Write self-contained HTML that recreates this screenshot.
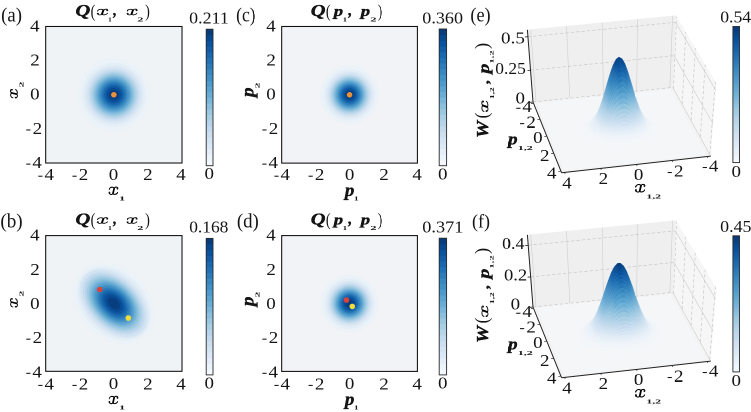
<!DOCTYPE html>
<html><head><meta charset="utf-8"><style>
html,body{margin:0;padding:0;background:#fff;}
body{width:751px;height:412px;overflow:hidden;}
#wrap{width:1502px;height:824px;transform:scale(0.5);transform-origin:0 0;will-change:transform;}
svg{display:block;}
text{font-family:"Liberation Serif",serif;}
</style></head><body><div id="wrap">
<svg width="1502" height="824" viewBox="0 0 751 412" font-family="Liberation Serif" fill="#151515">
<defs><g id="xg"><g fill="none" stroke="currentColor" stroke-linecap="round"><path d="M8 20C10 6 26 0 40 2C50 4 55 6 57 8" stroke-width="8"/><path d="M57 8C62 2 72 0 80 1C88 2 92 6 89 11" stroke-width="8"/><path d="M57 6L43 52" stroke-width="16" stroke-linecap="butt"/><path d="M9 44C8 52 18 57 26 57C36 57 41 54 43 52" stroke-width="8"/><path d="M43 50C46 56 56 57 64 56C76 54 86 48 89 41" stroke-width="8"/></g><circle cx="87" cy="12" r="8.5"/><circle cx="10" cy="44" r="8.5"/></g></defs>
<rect width="751" height="412" fill="#fff"/>
<clipPath id="ca0"><rect x="46.85" y="27.65" width="134.00" height="134.20"/></clipPath>
<g clip-path="url(#ca0)">
<rect x="45.7" y="26.5" width="136.3" height="136.5" fill="#eff3f5"/>
<ellipse rx="36.31" ry="36.31" fill="#ebf2f8" transform="translate(113.85 94.75) rotate(0)"/>
<ellipse rx="31.83" ry="31.83" fill="#e4eef7" transform="translate(113.85 94.75) rotate(0)"/>
<ellipse rx="28.89" ry="28.89" fill="#dbe8f4" transform="translate(113.85 94.75) rotate(0)"/>
<ellipse rx="26.61" ry="26.61" fill="#d1e2f2" transform="translate(113.85 94.75) rotate(0)"/>
<ellipse rx="24.70" ry="24.70" fill="#c3daee" transform="translate(113.85 94.75) rotate(0)"/>
<ellipse rx="23.02" ry="23.02" fill="#b2d3e8" transform="translate(113.85 94.75) rotate(0)"/>
<ellipse rx="21.49" ry="21.49" fill="#a1cbe2" transform="translate(113.85 94.75) rotate(0)"/>
<ellipse rx="20.08" ry="20.08" fill="#8fc2de" transform="translate(113.85 94.75) rotate(0)"/>
<ellipse rx="18.75" ry="18.75" fill="#7cb7da" transform="translate(113.85 94.75) rotate(0)"/>
<ellipse rx="17.47" ry="17.47" fill="#68acd5" transform="translate(113.85 94.75) rotate(0)"/>
<ellipse rx="16.22" ry="16.22" fill="#58a1cf" transform="translate(113.85 94.75) rotate(0)"/>
<ellipse rx="14.99" ry="14.99" fill="#4896c8" transform="translate(113.85 94.75) rotate(0)"/>
<ellipse rx="13.77" ry="13.77" fill="#3a8ac2" transform="translate(113.85 94.75) rotate(0)"/>
<ellipse rx="12.53" ry="12.53" fill="#2d7dbb" transform="translate(113.85 94.75) rotate(0)"/>
<ellipse rx="11.25" ry="11.25" fill="#2070b4" transform="translate(113.85 94.75) rotate(0)"/>
<ellipse rx="9.91" ry="9.91" fill="#1764ab" transform="translate(113.85 94.75) rotate(0)"/>
<ellipse rx="8.46" ry="8.46" fill="#0d57a1" transform="translate(113.85 94.75) rotate(0)"/>
<ellipse rx="6.81" ry="6.81" fill="#084b93" transform="translate(113.85 94.75) rotate(0)"/>
<ellipse rx="4.75" ry="4.75" fill="#083d7f" transform="translate(113.85 94.75) rotate(0)"/>
</g>
<circle cx="113.85" cy="94.75" r="2.8" fill="#e8913a"/>
<rect x="45.7" y="26.5" width="136.3" height="136.5" fill="none" stroke="#111" stroke-width="1.1"/>
<text transform="translate(30.10 31.46) scale(1.130 1)" font-size="16.80">4</text>
<text transform="translate(176.25 180.16) scale(1.130 1)" font-size="16.80">4</text>
<text transform="translate(30.29 65.61) scale(1.130 1)" font-size="16.80">2</text>
<text transform="translate(143.09 180.16) scale(1.130 1)" font-size="16.80">2</text>
<text transform="translate(30.10 99.59) scale(1.130 1)" font-size="16.80">0</text>
<text transform="translate(108.75 179.99) scale(1.130 1)" font-size="16.80">0</text>
<text transform="translate(32.59 133.91) scale(1.130 1)" font-size="16.80">2</text>
<rect x="26.25" y="129.45" width="4.2" height="1.05" fill="#151515"/>
<text transform="translate(78.79 180.16) scale(1.130 1)" font-size="16.80">2</text>
<rect x="72.45" y="175.70" width="4.2" height="1.05" fill="#151515"/>
<text transform="translate(32.40 168.06) scale(1.130 1)" font-size="16.80">4</text>
<rect x="26.25" y="163.60" width="4.2" height="1.05" fill="#151515"/>
<text transform="translate(44.45 180.16) scale(1.130 1)" font-size="16.80">4</text>
<rect x="38.30" y="175.70" width="4.2" height="1.05" fill="#151515"/>
<rect x="206.20" y="160.01" width="6.80" height="6.09" fill="#f3f8fe"/>
<rect x="206.20" y="154.32" width="6.80" height="6.09" fill="#ebf3fb"/>
<rect x="206.20" y="148.64" width="6.80" height="6.09" fill="#e3eef9"/>
<rect x="206.20" y="142.95" width="6.80" height="6.09" fill="#dbe9f6"/>
<rect x="206.20" y="137.26" width="6.80" height="6.09" fill="#d3e4f3"/>
<rect x="206.20" y="131.57" width="6.80" height="6.09" fill="#ccdff1"/>
<rect x="206.20" y="125.89" width="6.80" height="6.09" fill="#c2d9ee"/>
<rect x="206.20" y="120.20" width="6.80" height="6.09" fill="#b5d4e9"/>
<rect x="206.20" y="114.51" width="6.80" height="6.09" fill="#a9cfe5"/>
<rect x="206.20" y="108.82" width="6.80" height="6.09" fill="#9ac8e0"/>
<rect x="206.20" y="103.14" width="6.80" height="6.09" fill="#8abfdd"/>
<rect x="206.20" y="97.45" width="6.80" height="6.09" fill="#7ab6d9"/>
<rect x="206.20" y="91.76" width="6.80" height="6.09" fill="#69add5"/>
<rect x="206.20" y="86.07" width="6.80" height="6.09" fill="#5ca4d0"/>
<rect x="206.20" y="80.39" width="6.80" height="6.09" fill="#4e9acb"/>
<rect x="206.20" y="74.70" width="6.80" height="6.09" fill="#4191c6"/>
<rect x="206.20" y="69.01" width="6.80" height="6.09" fill="#3787c0"/>
<rect x="206.20" y="63.32" width="6.80" height="6.09" fill="#2c7cba"/>
<rect x="206.20" y="57.64" width="6.80" height="6.09" fill="#2171b5"/>
<rect x="206.20" y="51.95" width="6.80" height="6.09" fill="#1967ad"/>
<rect x="206.20" y="46.26" width="6.80" height="6.09" fill="#115ca5"/>
<rect x="206.20" y="40.57" width="6.80" height="6.09" fill="#09529d"/>
<rect x="206.20" y="34.89" width="6.80" height="6.09" fill="#08488e"/>
<rect x="206.20" y="29.20" width="6.80" height="6.09" fill="#083c7d"/>
<rect x="206.20" y="29.20" width="6.80" height="136.50" fill="none" stroke="#2a2a2a" stroke-width="0.9"/>
<text transform="translate(189.18 23.54) scale(1.054 1)" font-size="17.00">0.211</text>
<text transform="translate(204.45 179.09) scale(1.130 1)" font-size="16.80">0</text>
<clipPath id="cc0"><rect x="282.85" y="27.65" width="133.40" height="134.30"/></clipPath>
<g clip-path="url(#cc0)">
<rect x="281.7" y="26.5" width="135.7" height="136.6" fill="#f1f3f6"/>
<ellipse rx="29.16" ry="29.16" fill="#ebf2f8" transform="translate(349.55 94.80) rotate(0)"/>
<ellipse rx="25.57" ry="25.57" fill="#e4eef7" transform="translate(349.55 94.80) rotate(0)"/>
<ellipse rx="23.21" ry="23.21" fill="#dbe8f4" transform="translate(349.55 94.80) rotate(0)"/>
<ellipse rx="21.37" ry="21.37" fill="#d1e2f2" transform="translate(349.55 94.80) rotate(0)"/>
<ellipse rx="19.84" ry="19.84" fill="#c3daee" transform="translate(349.55 94.80) rotate(0)"/>
<ellipse rx="18.49" ry="18.49" fill="#b2d3e8" transform="translate(349.55 94.80) rotate(0)"/>
<ellipse rx="17.26" ry="17.26" fill="#a1cbe2" transform="translate(349.55 94.80) rotate(0)"/>
<ellipse rx="16.13" ry="16.13" fill="#8fc2de" transform="translate(349.55 94.80) rotate(0)"/>
<ellipse rx="15.05" ry="15.05" fill="#7cb7da" transform="translate(349.55 94.80) rotate(0)"/>
<ellipse rx="14.03" ry="14.03" fill="#68acd5" transform="translate(349.55 94.80) rotate(0)"/>
<ellipse rx="13.03" ry="13.03" fill="#58a1cf" transform="translate(349.55 94.80) rotate(0)"/>
<ellipse rx="12.04" ry="12.04" fill="#4896c8" transform="translate(349.55 94.80) rotate(0)"/>
<ellipse rx="11.06" ry="11.06" fill="#3a8ac2" transform="translate(349.55 94.80) rotate(0)"/>
<ellipse rx="10.06" ry="10.06" fill="#2d7dbb" transform="translate(349.55 94.80) rotate(0)"/>
<ellipse rx="9.04" ry="9.04" fill="#2070b4" transform="translate(349.55 94.80) rotate(0)"/>
<ellipse rx="7.96" ry="7.96" fill="#1764ab" transform="translate(349.55 94.80) rotate(0)"/>
<ellipse rx="6.79" ry="6.79" fill="#0d57a1" transform="translate(349.55 94.80) rotate(0)"/>
<ellipse rx="5.47" ry="5.47" fill="#084b93" transform="translate(349.55 94.80) rotate(0)"/>
<ellipse rx="3.82" ry="3.82" fill="#083d7f" transform="translate(349.55 94.80) rotate(0)"/>
</g>
<circle cx="349.55" cy="94.80" r="2.8" fill="#e8913a"/>
<rect x="281.7" y="26.5" width="135.7" height="136.6" fill="none" stroke="#111" stroke-width="1.1"/>
<text transform="translate(266.20 31.46) scale(1.130 1)" font-size="16.80">4</text>
<text transform="translate(412.35 180.16) scale(1.130 1)" font-size="16.80">4</text>
<text transform="translate(266.39 65.61) scale(1.130 1)" font-size="16.80">2</text>
<text transform="translate(379.19 180.16) scale(1.130 1)" font-size="16.80">2</text>
<text transform="translate(266.20 99.59) scale(1.130 1)" font-size="16.80">0</text>
<text transform="translate(344.85 179.99) scale(1.130 1)" font-size="16.80">0</text>
<text transform="translate(268.69 133.91) scale(1.130 1)" font-size="16.80">2</text>
<rect x="262.35" y="129.45" width="4.2" height="1.05" fill="#151515"/>
<text transform="translate(314.89 180.16) scale(1.130 1)" font-size="16.80">2</text>
<rect x="308.55" y="175.70" width="4.2" height="1.05" fill="#151515"/>
<text transform="translate(268.50 168.06) scale(1.130 1)" font-size="16.80">4</text>
<rect x="262.35" y="163.60" width="4.2" height="1.05" fill="#151515"/>
<text transform="translate(280.55 180.16) scale(1.130 1)" font-size="16.80">4</text>
<rect x="274.40" y="175.70" width="4.2" height="1.05" fill="#151515"/>
<rect x="439.20" y="160.00" width="7.40" height="6.10" fill="#f3f8fe"/>
<rect x="439.20" y="154.31" width="7.40" height="6.10" fill="#ebf3fb"/>
<rect x="439.20" y="148.61" width="7.40" height="6.10" fill="#e3eef9"/>
<rect x="439.20" y="142.92" width="7.40" height="6.10" fill="#dbe9f6"/>
<rect x="439.20" y="137.22" width="7.40" height="6.10" fill="#d3e4f3"/>
<rect x="439.20" y="131.52" width="7.40" height="6.10" fill="#ccdff1"/>
<rect x="439.20" y="125.83" width="7.40" height="6.10" fill="#c2d9ee"/>
<rect x="439.20" y="120.13" width="7.40" height="6.10" fill="#b5d4e9"/>
<rect x="439.20" y="114.44" width="7.40" height="6.10" fill="#a9cfe5"/>
<rect x="439.20" y="108.74" width="7.40" height="6.10" fill="#9ac8e0"/>
<rect x="439.20" y="103.05" width="7.40" height="6.10" fill="#8abfdd"/>
<rect x="439.20" y="97.35" width="7.40" height="6.10" fill="#7ab6d9"/>
<rect x="439.20" y="91.65" width="7.40" height="6.10" fill="#69add5"/>
<rect x="439.20" y="85.96" width="7.40" height="6.10" fill="#5ca4d0"/>
<rect x="439.20" y="80.26" width="7.40" height="6.10" fill="#4e9acb"/>
<rect x="439.20" y="74.57" width="7.40" height="6.10" fill="#4191c6"/>
<rect x="439.20" y="68.87" width="7.40" height="6.10" fill="#3787c0"/>
<rect x="439.20" y="63.17" width="7.40" height="6.10" fill="#2c7cba"/>
<rect x="439.20" y="57.48" width="7.40" height="6.10" fill="#2171b5"/>
<rect x="439.20" y="51.78" width="7.40" height="6.10" fill="#1967ad"/>
<rect x="439.20" y="46.09" width="7.40" height="6.10" fill="#115ca5"/>
<rect x="439.20" y="40.39" width="7.40" height="6.10" fill="#09529d"/>
<rect x="439.20" y="34.70" width="7.40" height="6.10" fill="#08488e"/>
<rect x="439.20" y="29.00" width="7.40" height="6.10" fill="#083c7d"/>
<rect x="439.20" y="29.00" width="7.40" height="136.70" fill="none" stroke="#2a2a2a" stroke-width="0.9"/>
<text transform="translate(422.28 23.36) scale(1.065 1)" font-size="17.00">0.360</text>
<text transform="translate(438.05 179.49) scale(1.130 1)" font-size="16.80">0</text>
<clipPath id="ca1"><rect x="46.85" y="236.75" width="134.00" height="133.40"/></clipPath>
<g clip-path="url(#ca1)">
<rect x="45.7" y="235.6" width="136.3" height="135.7" fill="#eff3f5"/>
<ellipse rx="45.62" ry="35.09" fill="#ebf2f8" transform="translate(113.85 303.45) rotate(45)"/>
<ellipse rx="42.39" ry="30.63" fill="#e4eef7" transform="translate(113.85 303.45) rotate(45)"/>
<ellipse rx="40.65" ry="27.68" fill="#dbe8f4" transform="translate(113.85 303.45) rotate(45)"/>
<ellipse rx="39.44" ry="25.38" fill="#d1e2f2" transform="translate(113.85 303.45) rotate(45)"/>
<ellipse rx="36.60" ry="23.55" fill="#c3daee" transform="translate(113.85 303.45) rotate(45)"/>
<ellipse rx="34.11" ry="21.95" fill="#b2d3e8" transform="translate(113.85 303.45) rotate(45)"/>
<ellipse rx="31.85" ry="20.50" fill="#a1cbe2" transform="translate(113.85 303.45) rotate(45)"/>
<ellipse rx="29.76" ry="19.15" fill="#8fc2de" transform="translate(113.85 303.45) rotate(45)"/>
<ellipse rx="27.78" ry="17.88" fill="#7cb7da" transform="translate(113.85 303.45) rotate(45)"/>
<ellipse rx="25.88" ry="16.66" fill="#68acd5" transform="translate(113.85 303.45) rotate(45)"/>
<ellipse rx="24.04" ry="15.47" fill="#58a1cf" transform="translate(113.85 303.45) rotate(45)"/>
<ellipse rx="22.22" ry="14.30" fill="#4896c8" transform="translate(113.85 303.45) rotate(45)"/>
<ellipse rx="20.40" ry="13.13" fill="#3a8ac2" transform="translate(113.85 303.45) rotate(45)"/>
<ellipse rx="18.57" ry="11.95" fill="#2d7dbb" transform="translate(113.85 303.45) rotate(45)"/>
<ellipse rx="16.67" ry="10.73" fill="#2070b4" transform="translate(113.85 303.45) rotate(45)"/>
<ellipse rx="14.69" ry="9.45" fill="#1764ab" transform="translate(113.85 303.45) rotate(45)"/>
<ellipse rx="12.53" ry="8.06" fill="#0d57a1" transform="translate(113.85 303.45) rotate(45)"/>
<ellipse rx="10.09" ry="6.49" fill="#084b93" transform="translate(113.85 303.45) rotate(45)"/>
<ellipse rx="7.04" ry="4.53" fill="#083d7f" transform="translate(113.85 303.45) rotate(45)"/>
</g>
<circle cx="99.71" cy="289.54" r="2.8" fill="#d9433c"/>
<circle cx="128.33" cy="318.04" r="2.8" fill="#f0dc3a"/>
<rect x="45.7" y="235.6" width="136.3" height="135.7" fill="none" stroke="#111" stroke-width="1.1"/>
<text transform="translate(30.10 240.66) scale(1.130 1)" font-size="16.80">4</text>
<text transform="translate(176.25 389.36) scale(1.130 1)" font-size="16.80">4</text>
<text transform="translate(30.29 274.81) scale(1.130 1)" font-size="16.80">2</text>
<text transform="translate(143.09 389.36) scale(1.130 1)" font-size="16.80">2</text>
<text transform="translate(30.10 308.79) scale(1.130 1)" font-size="16.80">0</text>
<text transform="translate(108.75 389.19) scale(1.130 1)" font-size="16.80">0</text>
<text transform="translate(32.59 343.11) scale(1.130 1)" font-size="16.80">2</text>
<rect x="26.25" y="338.65" width="4.2" height="1.05" fill="#151515"/>
<text transform="translate(78.79 389.36) scale(1.130 1)" font-size="16.80">2</text>
<rect x="72.45" y="384.90" width="4.2" height="1.05" fill="#151515"/>
<text transform="translate(32.40 377.26) scale(1.130 1)" font-size="16.80">4</text>
<rect x="26.25" y="372.80" width="4.2" height="1.05" fill="#151515"/>
<text transform="translate(44.45 389.36) scale(1.130 1)" font-size="16.80">4</text>
<rect x="38.30" y="384.90" width="4.2" height="1.05" fill="#151515"/>
<rect x="206.20" y="369.21" width="6.80" height="6.09" fill="#f3f8fe"/>
<rect x="206.20" y="363.52" width="6.80" height="6.09" fill="#ebf3fb"/>
<rect x="206.20" y="357.84" width="6.80" height="6.09" fill="#e3eef9"/>
<rect x="206.20" y="352.15" width="6.80" height="6.09" fill="#dbe9f6"/>
<rect x="206.20" y="346.46" width="6.80" height="6.09" fill="#d3e4f3"/>
<rect x="206.20" y="340.77" width="6.80" height="6.09" fill="#ccdff1"/>
<rect x="206.20" y="335.09" width="6.80" height="6.09" fill="#c2d9ee"/>
<rect x="206.20" y="329.40" width="6.80" height="6.09" fill="#b5d4e9"/>
<rect x="206.20" y="323.71" width="6.80" height="6.09" fill="#a9cfe5"/>
<rect x="206.20" y="318.02" width="6.80" height="6.09" fill="#9ac8e0"/>
<rect x="206.20" y="312.34" width="6.80" height="6.09" fill="#8abfdd"/>
<rect x="206.20" y="306.65" width="6.80" height="6.09" fill="#7ab6d9"/>
<rect x="206.20" y="300.96" width="6.80" height="6.09" fill="#69add5"/>
<rect x="206.20" y="295.27" width="6.80" height="6.09" fill="#5ca4d0"/>
<rect x="206.20" y="289.59" width="6.80" height="6.09" fill="#4e9acb"/>
<rect x="206.20" y="283.90" width="6.80" height="6.09" fill="#4191c6"/>
<rect x="206.20" y="278.21" width="6.80" height="6.09" fill="#3787c0"/>
<rect x="206.20" y="272.52" width="6.80" height="6.09" fill="#2c7cba"/>
<rect x="206.20" y="266.84" width="6.80" height="6.09" fill="#2171b5"/>
<rect x="206.20" y="261.15" width="6.80" height="6.09" fill="#1967ad"/>
<rect x="206.20" y="255.46" width="6.80" height="6.09" fill="#115ca5"/>
<rect x="206.20" y="249.77" width="6.80" height="6.09" fill="#09529d"/>
<rect x="206.20" y="244.09" width="6.80" height="6.09" fill="#08488e"/>
<rect x="206.20" y="238.40" width="6.80" height="6.09" fill="#083c7d"/>
<rect x="206.20" y="238.40" width="6.80" height="136.50" fill="none" stroke="#2a2a2a" stroke-width="0.9"/>
<text transform="translate(189.20 232.74) scale(1.025 1)" font-size="17.00">0.168</text>
<text transform="translate(204.45 388.29) scale(1.130 1)" font-size="16.80">0</text>
<clipPath id="cc1"><rect x="282.85" y="236.75" width="133.40" height="133.50"/></clipPath>
<g clip-path="url(#cc1)">
<rect x="281.7" y="235.6" width="135.7" height="135.8" fill="#f1f3f6"/>
<ellipse rx="28.66" ry="28.66" fill="#ebf2f8" transform="translate(349.55 303.50) rotate(0)"/>
<ellipse rx="25.13" ry="25.13" fill="#e4eef7" transform="translate(349.55 303.50) rotate(0)"/>
<ellipse rx="22.81" ry="22.81" fill="#dbe8f4" transform="translate(349.55 303.50) rotate(0)"/>
<ellipse rx="21.01" ry="21.01" fill="#d1e2f2" transform="translate(349.55 303.50) rotate(0)"/>
<ellipse rx="19.50" ry="19.50" fill="#c3daee" transform="translate(349.55 303.50) rotate(0)"/>
<ellipse rx="18.17" ry="18.17" fill="#b2d3e8" transform="translate(349.55 303.50) rotate(0)"/>
<ellipse rx="16.97" ry="16.97" fill="#a1cbe2" transform="translate(349.55 303.50) rotate(0)"/>
<ellipse rx="15.85" ry="15.85" fill="#8fc2de" transform="translate(349.55 303.50) rotate(0)"/>
<ellipse rx="14.80" ry="14.80" fill="#7cb7da" transform="translate(349.55 303.50) rotate(0)"/>
<ellipse rx="13.79" ry="13.79" fill="#68acd5" transform="translate(349.55 303.50) rotate(0)"/>
<ellipse rx="12.80" ry="12.80" fill="#58a1cf" transform="translate(349.55 303.50) rotate(0)"/>
<ellipse rx="11.83" ry="11.83" fill="#4896c8" transform="translate(349.55 303.50) rotate(0)"/>
<ellipse rx="10.87" ry="10.87" fill="#3a8ac2" transform="translate(349.55 303.50) rotate(0)"/>
<ellipse rx="9.89" ry="9.89" fill="#2d7dbb" transform="translate(349.55 303.50) rotate(0)"/>
<ellipse rx="8.88" ry="8.88" fill="#2070b4" transform="translate(349.55 303.50) rotate(0)"/>
<ellipse rx="7.82" ry="7.82" fill="#1764ab" transform="translate(349.55 303.50) rotate(0)"/>
<ellipse rx="6.68" ry="6.68" fill="#0d57a1" transform="translate(349.55 303.50) rotate(0)"/>
<ellipse rx="5.37" ry="5.37" fill="#084b93" transform="translate(349.55 303.50) rotate(0)"/>
<ellipse rx="3.75" ry="3.75" fill="#083d7f" transform="translate(349.55 303.50) rotate(0)"/>
</g>
<circle cx="346.50" cy="300.11" r="2.8" fill="#d9433c"/>
<circle cx="352.26" cy="306.39" r="2.8" fill="#f0dc3a"/>
<rect x="281.7" y="235.6" width="135.7" height="135.8" fill="none" stroke="#111" stroke-width="1.1"/>
<text transform="translate(266.20 240.66) scale(1.130 1)" font-size="16.80">4</text>
<text transform="translate(412.35 389.36) scale(1.130 1)" font-size="16.80">4</text>
<text transform="translate(266.39 274.81) scale(1.130 1)" font-size="16.80">2</text>
<text transform="translate(379.19 389.36) scale(1.130 1)" font-size="16.80">2</text>
<text transform="translate(266.20 308.79) scale(1.130 1)" font-size="16.80">0</text>
<text transform="translate(344.85 389.19) scale(1.130 1)" font-size="16.80">0</text>
<text transform="translate(268.69 343.11) scale(1.130 1)" font-size="16.80">2</text>
<rect x="262.35" y="338.65" width="4.2" height="1.05" fill="#151515"/>
<text transform="translate(314.89 389.36) scale(1.130 1)" font-size="16.80">2</text>
<rect x="308.55" y="384.90" width="4.2" height="1.05" fill="#151515"/>
<text transform="translate(268.50 377.26) scale(1.130 1)" font-size="16.80">4</text>
<rect x="262.35" y="372.80" width="4.2" height="1.05" fill="#151515"/>
<text transform="translate(280.55 389.36) scale(1.130 1)" font-size="16.80">4</text>
<rect x="274.40" y="384.90" width="4.2" height="1.05" fill="#151515"/>
<rect x="439.20" y="369.20" width="7.40" height="6.10" fill="#f3f8fe"/>
<rect x="439.20" y="363.51" width="7.40" height="6.10" fill="#ebf3fb"/>
<rect x="439.20" y="357.81" width="7.40" height="6.10" fill="#e3eef9"/>
<rect x="439.20" y="352.12" width="7.40" height="6.10" fill="#dbe9f6"/>
<rect x="439.20" y="346.42" width="7.40" height="6.10" fill="#d3e4f3"/>
<rect x="439.20" y="340.72" width="7.40" height="6.10" fill="#ccdff1"/>
<rect x="439.20" y="335.03" width="7.40" height="6.10" fill="#c2d9ee"/>
<rect x="439.20" y="329.33" width="7.40" height="6.10" fill="#b5d4e9"/>
<rect x="439.20" y="323.64" width="7.40" height="6.10" fill="#a9cfe5"/>
<rect x="439.20" y="317.94" width="7.40" height="6.10" fill="#9ac8e0"/>
<rect x="439.20" y="312.25" width="7.40" height="6.10" fill="#8abfdd"/>
<rect x="439.20" y="306.55" width="7.40" height="6.10" fill="#7ab6d9"/>
<rect x="439.20" y="300.85" width="7.40" height="6.10" fill="#69add5"/>
<rect x="439.20" y="295.16" width="7.40" height="6.10" fill="#5ca4d0"/>
<rect x="439.20" y="289.46" width="7.40" height="6.10" fill="#4e9acb"/>
<rect x="439.20" y="283.77" width="7.40" height="6.10" fill="#4191c6"/>
<rect x="439.20" y="278.07" width="7.40" height="6.10" fill="#3787c0"/>
<rect x="439.20" y="272.38" width="7.40" height="6.10" fill="#2c7cba"/>
<rect x="439.20" y="266.68" width="7.40" height="6.10" fill="#2171b5"/>
<rect x="439.20" y="260.98" width="7.40" height="6.10" fill="#1967ad"/>
<rect x="439.20" y="255.29" width="7.40" height="6.10" fill="#115ca5"/>
<rect x="439.20" y="249.59" width="7.40" height="6.10" fill="#09529d"/>
<rect x="439.20" y="243.90" width="7.40" height="6.10" fill="#08488e"/>
<rect x="439.20" y="238.20" width="7.40" height="6.10" fill="#083c7d"/>
<rect x="439.20" y="238.20" width="7.40" height="136.70" fill="none" stroke="#2a2a2a" stroke-width="0.9"/>
<text transform="translate(422.27 232.64) scale(1.075 1)" font-size="17.00">0.371</text>
<text transform="translate(438.05 388.69) scale(1.130 1)" font-size="16.80">0</text>
<text transform="translate(75.48 15.87) scale(1.246 1)" font-size="16.42" font-weight="bold" font-style="italic" stroke="currentColor" stroke-width="0.35">Q</text>
<text transform="translate(90.63 16.75) scale(0.776 1)" font-size="18.33">(</text>
<use href="#xg" transform="translate(96.63 9.10) scale(0.1217 0.1016)"/>
<text transform="translate(108.12 21.36) scale(1.167 1)" font-size="6.25" font-weight="bold">1</text>
<text transform="translate(113.28 15.60) scale(0.888 1)" font-size="16.00" font-weight="bold" font-style="italic" stroke="currentColor" stroke-width="0.35">,</text>
<use href="#xg" transform="translate(126.45 9.10) scale(0.1163 0.1016)"/>
<text transform="translate(137.32 21.30) scale(1.903 1)" font-size="6.25" font-weight="bold">2</text>
<text transform="translate(145.07 16.75) scale(0.776 1)" font-size="18.33">)</text>
<text transform="translate(310.78 15.87) scale(1.246 1)" font-size="16.42" font-weight="bold" font-style="italic" stroke="currentColor" stroke-width="0.35">Q</text>
<text transform="translate(325.93 16.75) scale(0.776 1)" font-size="18.33">(</text>
<text transform="translate(333.71 15.88) scale(1.259 1)" font-size="14.85" font-weight="bold" font-style="italic" stroke="currentColor" stroke-width="0.35">p</text>
<text transform="translate(342.81 21.36) scale(1.383 1)" font-size="6.25" font-weight="bold">1</text>
<text transform="translate(348.41 15.60) scale(0.954 1)" font-size="16.00" font-weight="bold" font-style="italic" stroke="currentColor" stroke-width="0.35">,</text>
<text transform="translate(360.81 15.88) scale(1.259 1)" font-size="14.85" font-weight="bold" font-style="italic" stroke="currentColor" stroke-width="0.35">p</text>
<text transform="translate(370.20 21.30) scale(2.018 1)" font-size="6.25" font-weight="bold">2</text>
<text transform="translate(377.77 16.75) scale(0.776 1)" font-size="18.33">)</text>
<use href="#xg" transform="translate(108.39 186.96) scale(0.1043 0.1317)"/>
<text transform="translate(119.01 200.38) scale(2.120 1)" font-size="5.86" font-weight="bold">1</text>
<use href="#xg" transform="translate(10.44 98.61) rotate(-90) scale(0.1022 0.1222)"/>
<text transform="translate(23.38 87.48) rotate(-90) scale(1.791 1)" font-size="6.65" font-weight="bold">2</text>
<text transform="translate(344.82 195.77) scale(1.036 1)" font-size="18.24" font-weight="bold" font-style="italic" stroke="currentColor" stroke-width="0.35">p</text>
<text transform="translate(354.06 200.38) scale(1.567 1)" font-size="5.86" font-weight="bold">1</text>
<text transform="translate(253.63 96.96) rotate(-90) scale(1.090 1)" font-size="17.50" font-weight="bold" font-style="italic" stroke="currentColor" stroke-width="0.35">p</text>
<text transform="translate(259.38 88.48) rotate(-90) scale(1.791 1)" font-size="6.65" font-weight="bold">2</text>
<text transform="translate(75.48 224.37) scale(1.246 1)" font-size="16.42" font-weight="bold" font-style="italic" stroke="currentColor" stroke-width="0.35">Q</text>
<text transform="translate(90.63 225.25) scale(0.776 1)" font-size="18.33">(</text>
<use href="#xg" transform="translate(96.63 217.60) scale(0.1217 0.1016)"/>
<text transform="translate(108.12 229.86) scale(1.167 1)" font-size="6.25" font-weight="bold">1</text>
<text transform="translate(113.28 224.10) scale(0.888 1)" font-size="16.00" font-weight="bold" font-style="italic" stroke="currentColor" stroke-width="0.35">,</text>
<use href="#xg" transform="translate(126.45 217.60) scale(0.1163 0.1016)"/>
<text transform="translate(137.32 229.80) scale(1.903 1)" font-size="6.25" font-weight="bold">2</text>
<text transform="translate(145.07 225.25) scale(0.776 1)" font-size="18.33">)</text>
<text transform="translate(310.78 224.37) scale(1.246 1)" font-size="16.42" font-weight="bold" font-style="italic" stroke="currentColor" stroke-width="0.35">Q</text>
<text transform="translate(325.93 225.25) scale(0.776 1)" font-size="18.33">(</text>
<text transform="translate(333.71 224.38) scale(1.259 1)" font-size="14.85" font-weight="bold" font-style="italic" stroke="currentColor" stroke-width="0.35">p</text>
<text transform="translate(342.81 229.86) scale(1.383 1)" font-size="6.25" font-weight="bold">1</text>
<text transform="translate(348.41 224.10) scale(0.954 1)" font-size="16.00" font-weight="bold" font-style="italic" stroke="currentColor" stroke-width="0.35">,</text>
<text transform="translate(360.81 224.38) scale(1.259 1)" font-size="14.85" font-weight="bold" font-style="italic" stroke="currentColor" stroke-width="0.35">p</text>
<text transform="translate(370.20 229.80) scale(2.018 1)" font-size="6.25" font-weight="bold">2</text>
<text transform="translate(377.77 225.25) scale(0.776 1)" font-size="18.33">)</text>
<use href="#xg" transform="translate(108.39 396.16) scale(0.1043 0.1317)"/>
<text transform="translate(119.01 409.58) scale(2.120 1)" font-size="5.86" font-weight="bold">1</text>
<use href="#xg" transform="translate(10.44 307.81) rotate(-90) scale(0.1022 0.1222)"/>
<text transform="translate(23.38 296.68) rotate(-90) scale(1.791 1)" font-size="6.65" font-weight="bold">2</text>
<text transform="translate(344.82 404.97) scale(1.036 1)" font-size="18.24" font-weight="bold" font-style="italic" stroke="currentColor" stroke-width="0.35">p</text>
<text transform="translate(354.06 409.58) scale(1.567 1)" font-size="5.86" font-weight="bold">1</text>
<text transform="translate(253.63 306.16) rotate(-90) scale(1.090 1)" font-size="17.50" font-weight="bold" font-style="italic" stroke="currentColor" stroke-width="0.35">p</text>
<text transform="translate(259.38 297.68) rotate(-90) scale(1.791 1)" font-size="6.65" font-weight="bold">2</text>
<text transform="translate(1.15 21.67) scale(0.953 1)" font-size="19.67">(a)</text>
<text transform="translate(236.09 21.67) scale(0.898 1)" font-size="19.67">(c)</text>
<text transform="translate(470.37 21.67) scale(0.928 1)" font-size="19.67">(e)</text>
<text transform="translate(0.33 227.65) scale(0.969 1)" font-size="19.78">(b)</text>
<text transform="translate(236.84 227.55) scale(0.934 1)" font-size="20.22">(d)</text>
<text transform="translate(471.98 227.74) scale(0.931 1)" font-size="19.35">(f)</text>
<path d="M533.0 102.0 672.8 87.4 675.8 15.4 527.4 29.8Z" fill="#efefef" />
<path d="M672.8 87.4 710.7 156.1 716.4 83.2 675.8 15.4Z" fill="#f6f6f6" />
<path d="M533.0 102.0 561.6 172.8 710.7 156.1 672.8 87.4Z" fill="#f3f3f3" />
<path d="M536.0 101.7 530.7 29.5" fill="none" stroke="#cfcfcf" stroke-width="0.6" />
<path d="M709.8 154.5 715.4 81.6" fill="none" stroke="#c2c2c2" stroke-width="0.6" stroke-dasharray="3.2 2.2"/>
<path d="M569.8 98.1 566.5 26.0" fill="none" stroke="#cfcfcf" stroke-width="0.6" />
<path d="M700.3 137.2 705.2 64.6" fill="none" stroke="#c2c2c2" stroke-width="0.6" stroke-dasharray="3.2 2.2"/>
<path d="M603.4 94.6 602.2 22.5" fill="none" stroke="#cfcfcf" stroke-width="0.6" />
<path d="M691.1 120.6 695.3 48.1" fill="none" stroke="#c2c2c2" stroke-width="0.6" stroke-dasharray="3.2 2.2"/>
<path d="M636.7 91.1 637.5 19.1" fill="none" stroke="#cfcfcf" stroke-width="0.6" />
<path d="M682.2 104.4 685.8 32.1" fill="none" stroke="#c2c2c2" stroke-width="0.6" stroke-dasharray="3.2 2.2"/>
<path d="M669.8 87.7 672.6 15.7" fill="none" stroke="#cfcfcf" stroke-width="0.6" />
<path d="M673.5 88.8 676.6 16.7" fill="none" stroke="#c2c2c2" stroke-width="0.6" stroke-dasharray="3.2 2.2"/>
<path d="M533.0 102.0 672.8 87.4" fill="none" stroke="#c2c2c2" stroke-width="0.6" stroke-dasharray="3.2 2.2"/>
<path d="M672.8 87.4 710.7 156.1" fill="none" stroke="#cfcfcf" stroke-width="0.6" />
<path d="M530.5 70.2 674.1 55.7" fill="none" stroke="#c2c2c2" stroke-width="0.6" stroke-dasharray="3.2 2.2"/>
<path d="M674.1 55.7 713.2 124.1" fill="none" stroke="#cfcfcf" stroke-width="0.6" />
<path d="M527.9 36.7 675.5 22.3" fill="none" stroke="#c2c2c2" stroke-width="0.6" stroke-dasharray="3.2 2.2"/>
<path d="M675.5 22.3 715.8 90.2" fill="none" stroke="#cfcfcf" stroke-width="0.6" />
<path d="M536.6 103.1 564.2 170.8 706.7 154.8 670.6 89.1Z" fill="#f4f6f8" />
<linearGradient id="s0_24" gradientUnits="userSpaceOnUse" x1="597.2" y1="0" x2="625.7" y2="0"><stop offset="0.00" stop-color="#f4f7f9"/><stop offset="0.10" stop-color="#f4f7f9"/><stop offset="0.19" stop-color="#f4f7f9"/><stop offset="0.29" stop-color="#f4f7f9"/><stop offset="0.38" stop-color="#f4f7f9"/><stop offset="0.48" stop-color="#f4f7f9"/><stop offset="0.57" stop-color="#f4f7f9"/><stop offset="0.67" stop-color="#f4f7f9"/><stop offset="0.76" stop-color="#f4f7f9"/><stop offset="0.86" stop-color="#f4f7f9"/><stop offset="0.95" stop-color="#f4f7f9"/><stop offset="1.00" stop-color="#f4f7f9"/></linearGradient>
<path d="M626.3 109.3l-2.8 .1 -2.7 .2 -2.7 .2 -2.7 .2 -2.7 .2 -2.7 .3 -2.8 .3 -2.7 .4 -2.7 .4 -2.7 .4 -2.8 .4 .3 .5 2.8-.4 2.7-.5 2.7-.4 2.7-.4 2.8-.4 2.7-.3 2.7-.2 2.7-.2 2.7-.1 2.8-.1 2.7-.2z" fill="url(#s0_24)"/>
<linearGradient id="s0_25" gradientUnits="userSpaceOnUse" x1="594.7" y1="0" x2="628.8" y2="0"><stop offset="0.00" stop-color="#f4f7f9"/><stop offset="0.08" stop-color="#f4f7f9"/><stop offset="0.16" stop-color="#f4f7f9"/><stop offset="0.24" stop-color="#f4f7f9"/><stop offset="0.32" stop-color="#f4f7f9"/><stop offset="0.40" stop-color="#f4f7f9"/><stop offset="0.48" stop-color="#f4f7fa"/><stop offset="0.56" stop-color="#f4f7f9"/><stop offset="0.64" stop-color="#f4f7f9"/><stop offset="0.72" stop-color="#f4f7f9"/><stop offset="0.80" stop-color="#f4f7f9"/><stop offset="0.88" stop-color="#f4f7f9"/><stop offset="0.96" stop-color="#f4f7f9"/><stop offset="1.00" stop-color="#f4f7f9"/></linearGradient>
<path d="M629.3 109.6l-2.7 .1 -2.7 .2 -2.8 .1 -2.7 .1 -2.7 .2 -2.7 .2 -2.7 .3 -2.8 .4 -2.7 .4 -2.7 .4 -2.7 .5 -2.8 .4 -2.7 .5 .3 .5 2.7-.5 2.8-.6 2.7-.5 2.7-.5 2.7-.4 2.8-.4 2.7-.3 2.7-.2 2.7-.1 2.8-.1 2.7-.1 2.7 0 2.7-.1z" fill="url(#s0_25)"/>
<linearGradient id="s0_26" gradientUnits="userSpaceOnUse" x1="592.3" y1="0" x2="631.8" y2="0"><stop offset="0.00" stop-color="#f4f7f9"/><stop offset="0.10" stop-color="#f4f7f9"/><stop offset="0.21" stop-color="#f4f7f9"/><stop offset="0.31" stop-color="#f4f7fa"/><stop offset="0.41" stop-color="#f3f6fa"/><stop offset="0.52" stop-color="#f3f6fa"/><stop offset="0.62" stop-color="#f4f7fa"/><stop offset="0.72" stop-color="#f4f7fa"/><stop offset="0.83" stop-color="#f4f7f9"/><stop offset="0.93" stop-color="#f4f7f9"/><stop offset="1.00" stop-color="#f4f7f9"/></linearGradient>
<path d="M632.3 110l-2.7 .1 -2.7 .1 -2.7 0 -2.7 .1 -2.8 .1 -2.7 .1 -2.7 .2 -2.7 .3 -2.8 .4 -2.7 .4 -2.7 .5 -2.7 .5 -2.8 .6 -2.7 .5 -2.7 .4 .3 .5 2.7-.5 2.7-.6 2.8-.6 2.7-.6 2.7-.6 2.7-.5 2.8-.4 2.7-.3 2.7-.1 2.8-.1 2.7 0 2.7 0 2.7 0 2.7 0 2.7 0z" fill="url(#s0_26)"/>
<linearGradient id="s0_27" gradientUnits="userSpaceOnUse" x1="591.2" y1="0" x2="633.5" y2="0"><stop offset="0.00" stop-color="#f4f7f9"/><stop offset="0.10" stop-color="#f4f7f9"/><stop offset="0.19" stop-color="#f4f7fa"/><stop offset="0.29" stop-color="#f3f6fa"/><stop offset="0.39" stop-color="#f3f6fa"/><stop offset="0.48" stop-color="#f2f6fa"/><stop offset="0.58" stop-color="#f3f6fa"/><stop offset="0.68" stop-color="#f3f6fa"/><stop offset="0.77" stop-color="#f4f7fa"/><stop offset="0.87" stop-color="#f4f7f9"/><stop offset="0.97" stop-color="#f4f7f9"/><stop offset="1.00" stop-color="#f4f7f9"/></linearGradient>
<path d="M634 110.4l-2.7 .1 -2.7 0 -2.7 0 -2.8 0 -2.7 0 -2.7 0 -2.7 .1 -2.8 .3 -2.7 .3 -2.7 .5 -2.8 .5 -2.7 .6 -2.7 .6 -2.7 .6 -2.8 .6 -2.7 .5 .3 .5 2.7-.6 2.8-.6 2.7-.7 2.7-.7 2.7-.7 2.8-.7 2.7-.5 2.7-.3 2.8-.3 2.7 0 2.7 0 2.8 .1 2.7 .2 2.7 .1 2.7 0 2.7 0z" fill="url(#s0_27)"/>
<linearGradient id="s0_28" gradientUnits="userSpaceOnUse" x1="590.2" y1="0" x2="635.2" y2="0"><stop offset="0.00" stop-color="#f4f7f9"/><stop offset="0.09" stop-color="#f4f7f9"/><stop offset="0.18" stop-color="#f4f7fa"/><stop offset="0.27" stop-color="#f3f6fa"/><stop offset="0.36" stop-color="#f2f6fa"/><stop offset="0.46" stop-color="#f1f5fa"/><stop offset="0.55" stop-color="#f1f5fa"/><stop offset="0.64" stop-color="#f2f6fa"/><stop offset="0.73" stop-color="#f3f6fa"/><stop offset="0.82" stop-color="#f4f7fa"/><stop offset="0.91" stop-color="#f4f7f9"/><stop offset="1.00" stop-color="#f4f7f9"/><stop offset="1.00" stop-color="#f4f7f9"/></linearGradient>
<path d="M635.7 110.9l-2.7 0 -2.8 0 -2.7-.1 -2.7-.1 -2.7-.1 -2.7-.1 -2.8 0 -2.7 .1 -2.7 .3 -2.8 .5 -2.7 .5 -2.7 .7 -2.8 .7 -2.7 .7 -2.7 .7 -2.7 .6 -2.8 .5 .3 .5 2.8-.6 2.7-.7 2.7-.8 2.7-.8 2.8-.9 2.7-.7 2.7-.7 2.8-.5 2.7-.3 2.7-.1 2.8 .1 2.7 .2 2.7 .3 2.8 .2 2.7 .2 2.7 .2 2.7 0z" fill="url(#s0_28)"/>
<linearGradient id="s0_29" gradientUnits="userSpaceOnUse" x1="587.7" y1="0" x2="638.2" y2="0"><stop offset="0.00" stop-color="#f4f7f9"/><stop offset="0.08" stop-color="#f4f7f9"/><stop offset="0.16" stop-color="#f4f7fa"/><stop offset="0.24" stop-color="#f3f6fa"/><stop offset="0.32" stop-color="#f1f5fa"/><stop offset="0.41" stop-color="#f0f5f9"/><stop offset="0.49" stop-color="#eff4f9"/><stop offset="0.57" stop-color="#f0f5f9"/><stop offset="0.65" stop-color="#f1f5f9"/><stop offset="0.73" stop-color="#f2f6fa"/><stop offset="0.81" stop-color="#f3f6fa"/><stop offset="0.89" stop-color="#f4f7f9"/><stop offset="0.97" stop-color="#f4f7f9"/><stop offset="1.00" stop-color="#f4f7f9"/></linearGradient>
<path d="M638.7 111.3l-2.7 .1 -2.7 0 -2.7-.2 -2.7-.2 -2.8-.2 -2.7-.3 -2.7-.2 -2.8-.1 -2.7 .1 -2.7 .3 -2.8 .5 -2.7 .7 -2.7 .7 -2.8 .9 -2.7 .8 -2.7 .8 -2.7 .7 -2.8 .6 -2.7 .6 .3 .5 2.7-.6 2.7-.7 2.8-.9 2.7-.9 2.7-1 2.8-1 2.7-.9 2.7-.8 2.8-.6 2.7-.3 2.7 0 2.8 .2 2.7 .4 2.8 .4 2.7 .4 2.7 .4 2.7 .2 2.7 .1 2.7 .1z" fill="url(#s0_29)"/>
<linearGradient id="s0_30" gradientUnits="userSpaceOnUse" x1="586.6" y1="0" x2="639.9" y2="0"><stop offset="0.00" stop-color="#f4f7f9"/><stop offset="0.10" stop-color="#f4f7f9"/><stop offset="0.21" stop-color="#f3f6fa"/><stop offset="0.31" stop-color="#f0f5f9"/><stop offset="0.41" stop-color="#edf3f9"/><stop offset="0.51" stop-color="#ecf3f9"/><stop offset="0.62" stop-color="#eef4f9"/><stop offset="0.72" stop-color="#f1f5f9"/><stop offset="0.82" stop-color="#f3f6fa"/><stop offset="0.92" stop-color="#f4f7f9"/><stop offset="1.00" stop-color="#f4f7f9"/></linearGradient>
<path d="M640.4 111.8l-2.7 .1 -2.7-.1 -2.7-.2 -2.8-.3 -2.7-.4 -2.7-.4 -2.7-.4 -2.8-.3 -2.7-.1 -2.8 .1 -2.7 .5 -2.7 .6 -2.8 .9 -2.7 1 -2.7 1 -2.8 1 -2.7 .9 -2.7 .8 -2.8 .6 -2.7 .6 .3 .5 2.7-.6 2.8-.8 2.7-.9 2.7-1.1 2.8-1.1 2.7-1.2 2.7-1.2 2.8-1.1 2.7-.7 2.7-.5 2.8-.1 2.7 .2 2.8 .4 2.7 .6 2.7 .7 2.8 .5 2.7 .5 2.7 .3 2.7 .2 2.7 .1z" fill="url(#s0_30)"/>
<linearGradient id="s0_31" gradientUnits="userSpaceOnUse" x1="585.6" y1="0" x2="641.6" y2="0"><stop offset="0.00" stop-color="#f4f7f9"/><stop offset="0.10" stop-color="#f4f7f9"/><stop offset="0.20" stop-color="#f2f6fa"/><stop offset="0.29" stop-color="#eff4f9"/><stop offset="0.39" stop-color="#eaf2f9"/><stop offset="0.49" stop-color="#e7f0f8"/><stop offset="0.59" stop-color="#e9f1f8"/><stop offset="0.68" stop-color="#eef4f9"/><stop offset="0.78" stop-color="#f2f6fa"/><stop offset="0.88" stop-color="#f4f7fa"/><stop offset="0.98" stop-color="#f4f7f9"/><stop offset="1.00" stop-color="#f4f7f9"/></linearGradient>
<path d="M642.1 112.3l-2.7 .1 -2.7-.2 -2.8-.2 -2.7-.4 -2.7-.5 -2.7-.7 -2.8-.6 -2.7-.5 -2.7-.4 -2.8 0 -2.7 .3 -2.8 .6 -2.7 .9 -2.8 1.1 -2.7 1.3 -2.7 1.2 -2.7 1.1 -2.8 1 -2.7 .8 -2.7 .7 -2.8 .6 .3 .5 2.8-.6 2.7-.8 2.7-1 2.7-1.2 2.8-1.3 2.7-1.5 2.7-1.4 2.8-1.4 2.7-1 2.8-.8 2.7-.3 2.8 .2 2.7 .5 2.8 .7 2.7 .9 2.7 .9 2.7 .7 2.8 .6 2.7 .4 2.7 .2 2.7 .1z" fill="url(#s0_31)"/>
<linearGradient id="s0_32" gradientUnits="userSpaceOnUse" x1="585.9" y1="0" x2="641.9" y2="0"><stop offset="0.00" stop-color="#f4f7f9"/><stop offset="0.10" stop-color="#f4f7fa"/><stop offset="0.19" stop-color="#f1f5fa"/><stop offset="0.29" stop-color="#ecf3f9"/><stop offset="0.39" stop-color="#e5eff7"/><stop offset="0.49" stop-color="#e1ecf7"/><stop offset="0.59" stop-color="#e4eef7"/><stop offset="0.68" stop-color="#eaf2f9"/><stop offset="0.78" stop-color="#f0f5f9"/><stop offset="0.88" stop-color="#f3f6fa"/><stop offset="0.98" stop-color="#f4f7f9"/><stop offset="1.00" stop-color="#f4f7f9"/></linearGradient>
<path d="M642.4 112.9l-2.7-.1 -2.7-.2 -2.7-.4 -2.8-.6 -2.7-.7 -2.7-.9 -2.7-.9 -2.8-.7 -2.7-.5 -2.8-.2 -2.7 .3 -2.8 .8 -2.7 1 -2.8 1.4 -2.7 1.4 -2.7 1.5 -2.8 1.3 -2.7 1.2 -2.7 1 -2.7 .8 -2.8 .6 .3 .5 2.7-.7 2.8-.9 2.7-1.2 2.7-1.4 2.8-1.6 2.7-1.7 2.7-1.8 2.8-1.6 2.7-1.2 2.8-.9 2.7-.3 2.8 .3 2.7 .7 2.8 1 2.7 1.2 2.8 1.1 2.7 1 2.7 .9 2.7 .5 2.7 .4 2.7 .1z" fill="url(#s0_32)"/>
<linearGradient id="s0_33" gradientUnits="userSpaceOnUse" x1="584.8" y1="0" x2="643.6" y2="0"><stop offset="0.00" stop-color="#f4f7f9"/><stop offset="0.09" stop-color="#f4f7fa"/><stop offset="0.19" stop-color="#f1f5fa"/><stop offset="0.28" stop-color="#eaf2f9"/><stop offset="0.37" stop-color="#e1ecf6"/><stop offset="0.46" stop-color="#dae8f5"/><stop offset="0.56" stop-color="#dbe8f5"/><stop offset="0.65" stop-color="#e3edf7"/><stop offset="0.75" stop-color="#ecf3f9"/><stop offset="0.84" stop-color="#f2f6fa"/><stop offset="0.93" stop-color="#f4f7f9"/><stop offset="1.00" stop-color="#f4f7f9"/></linearGradient>
<path d="M644.1 113.4l-2.7-.1 -2.7-.2 -2.7-.4 -2.8-.7 -2.7-.9 -2.7-1.1 -2.8-1.2 -2.7-1.1 -2.8-.9 -2.7-.5 -2.8 0 -2.7 .6 -2.8 1.1 -2.7 1.4 -2.8 1.7 -2.7 1.8 -2.7 1.7 -2.7 1.5 -2.8 1.2 -2.7 1.1 -2.7 .8 -2.8 .6 .3 .6 2.8-.7 2.7-1 2.7-1.2 2.8-1.5 2.7-1.8 2.7-2 2.7-2.1 2.8-2 2.7-1.8 2.8-1.2 2.7-.7 2.8 .1 2.8 .6 2.7 1.2 2.8 1.4 2.7 1.6 2.7 1.4 2.8 1.2 2.7 .9 2.7 .6 2.7 .4 2.7 .1z" fill="url(#s0_33)"/>
<linearGradient id="s0_34" gradientUnits="userSpaceOnUse" x1="583.7" y1="0" x2="645.3" y2="0"><stop offset="0.00" stop-color="#f4f7f9"/><stop offset="0.09" stop-color="#f4f7fa"/><stop offset="0.18" stop-color="#f1f5f9"/><stop offset="0.27" stop-color="#e9f1f8"/><stop offset="0.35" stop-color="#dce9f5"/><stop offset="0.44" stop-color="#d1e2f2"/><stop offset="0.53" stop-color="#d0e1f2"/><stop offset="0.62" stop-color="#d9e7f4"/><stop offset="0.71" stop-color="#e6eff8"/><stop offset="0.80" stop-color="#eff4f9"/><stop offset="0.89" stop-color="#f3f6fa"/><stop offset="0.98" stop-color="#f4f7f9"/><stop offset="1.00" stop-color="#f4f7f9"/></linearGradient>
<path d="M645.8 113.9l-2.7 0 -2.7-.2 -2.8-.5 -2.7-.8 -2.7-1.1 -2.7-1.3 -2.8-1.5 -2.7-1.5 -2.8-1.3 -2.7-1 -2.8-.3 -2.8 .3 -2.7 .9 -2.8 1.5 -2.7 1.9 -2.7 2.1 -2.8 2.1 -2.7 1.9 -2.7 1.7 -2.7 1.4 -2.8 1 -2.7 .8 -2.7 .7 .2 .5 2.8-.7 2.7-.9 2.8-1.3 2.7-1.5 2.7-2 2.7-2.3 2.7-2.4 2.8-2.5 2.7-2.3 2.8-1.8 2.7-1.1 2.8-.3 2.8 .5 2.8 1.2 2.7 1.7 2.8 1.9 2.7 1.9 2.7 1.7 2.8 1.4 2.7 1 2.7 .6 2.7 .4 2.7 .1z" fill="url(#s0_34)"/>
<linearGradient id="s0_35" gradientUnits="userSpaceOnUse" x1="582.6" y1="0" x2="647.0" y2="0"><stop offset="0.00" stop-color="#f4f7f9"/><stop offset="0.09" stop-color="#f4f7fa"/><stop offset="0.17" stop-color="#f1f5f9"/><stop offset="0.25" stop-color="#e7f0f8"/><stop offset="0.34" stop-color="#d8e6f4"/><stop offset="0.42" stop-color="#c9ddf0"/><stop offset="0.51" stop-color="#c4daee"/><stop offset="0.60" stop-color="#ccdff1"/><stop offset="0.68" stop-color="#dce9f5"/><stop offset="0.77" stop-color="#ebf2f9"/><stop offset="0.85" stop-color="#f2f6fa"/><stop offset="0.94" stop-color="#f4f7f9"/><stop offset="1.00" stop-color="#f4f7f9"/></linearGradient>
<path d="M647.5 114.5l-2.7 0 -2.8-.3 -2.7-.5 -2.7-.8 -2.7-1.2 -2.7-1.5 -2.8-1.8 -2.7-1.9 -2.8-1.9 -2.7-1.5 -2.8-.8 -2.8-.2 -2.8 .7 -2.7 1.5 -2.8 2.1 -2.7 2.4 -2.7 2.5 -2.7 2.4 -2.8 2.1 -2.7 1.8 -2.7 1.4 -2.7 1.1 -2.8 .8 -2.7 .6 .3 .6 2.7-.7 2.7-.9 2.8-1.3 2.7-1.6 2.7-2.1 2.7-2.5 2.7-2.8 2.8-3 2.7-2.8 2.8-2.4 2.7-1.8 2.8-.8 2.8 .2 2.8 1.2 2.8 1.8 2.7 2.3 2.8 2.4 2.7 2.2 2.7 1.9 2.8 1.5 2.7 1.1 2.7 .6 2.7 .4 2.7 .1z" fill="url(#s0_35)"/>
<linearGradient id="s0_36" gradientUnits="userSpaceOnUse" x1="582.9" y1="0" x2="647.3" y2="0"><stop offset="0.00" stop-color="#f4f7f9"/><stop offset="0.09" stop-color="#f3f6fa"/><stop offset="0.17" stop-color="#eff4f9"/><stop offset="0.25" stop-color="#e3edf7"/><stop offset="0.34" stop-color="#cfe1f2"/><stop offset="0.42" stop-color="#bcd7eb"/><stop offset="0.51" stop-color="#b4d3e9"/><stop offset="0.60" stop-color="#c1d9ed"/><stop offset="0.68" stop-color="#d4e4f3"/><stop offset="0.77" stop-color="#e7f0f8"/><stop offset="0.85" stop-color="#f1f5fa"/><stop offset="0.94" stop-color="#f4f7f9"/><stop offset="1.00" stop-color="#f4f7f9"/></linearGradient>
<path d="M647.8 115.1l-2.7-.1 -2.7-.4 -2.7-.6 -2.7-1.1 -2.8-1.5 -2.7-1.9 -2.7-2.2 -2.8-2.4 -2.7-2.3 -2.8-1.8 -2.8-1.2 -2.8-.2 -2.8 .8 -2.7 1.8 -2.8 2.4 -2.7 2.8 -2.8 3 -2.7 2.8 -2.7 2.5 -2.7 2.1 -2.7 1.6 -2.8 1.3 -2.7 .9 -2.7 .7 .3 .6 2.7-.8 2.7-1 2.8-1.5 2.7-1.8 2.7-2.5 2.7-2.9 2.7-3.3 2.7-3.5 2.8-3.3 2.7-2.9 2.8-2 2.8-.8 2.8 .3 2.8 1.4 2.8 2.2 2.8 2.8 2.7 2.9 2.7 2.7 2.8 2.3 2.7 1.8 2.7 1.3 2.7 .9 2.7 .4 2.7 .2z" fill="url(#s0_36)"/>
<linearGradient id="s0_37" gradientUnits="userSpaceOnUse" x1="581.8" y1="0" x2="649.0" y2="0"><stop offset="0.00" stop-color="#f4f7f9"/><stop offset="0.08" stop-color="#f4f7fa"/><stop offset="0.16" stop-color="#f0f5f9"/><stop offset="0.24" stop-color="#e2edf7"/><stop offset="0.32" stop-color="#cbdef1"/><stop offset="0.41" stop-color="#b0d2e7"/><stop offset="0.49" stop-color="#a4cce3"/><stop offset="0.57" stop-color="#abd0e6"/><stop offset="0.66" stop-color="#c6dbef"/><stop offset="0.74" stop-color="#deeaf6"/><stop offset="0.82" stop-color="#edf3f9"/><stop offset="0.90" stop-color="#f3f6fa"/><stop offset="0.98" stop-color="#f4f7f9"/><stop offset="1.00" stop-color="#f4f7f9"/></linearGradient>
<path d="M649.5 115.6l-2.7 0 -2.7-.4 -2.7-.6 -2.8-1 -2.7-1.6 -2.7-2.1 -2.7-2.5 -2.8-2.9 -2.7-2.8 -2.8-2.6 -2.8-1.9 -2.8-.8 -2.8 .2 -2.8 1.5 -2.7 2.5 -2.8 3.1 -2.7 3.5 -2.7 3.4 -2.8 3.2 -2.7 2.6 -2.7 2.2 -2.7 1.6 -2.7 1.2 -2.8 .9 -2.7 .7 .3 .6 2.7-.8 2.8-1 2.7-1.3 2.7-1.9 2.7-2.5 2.7-3.1 2.7-3.6 2.7-4 2.8-4 2.7-3.7 2.8-2.8 2.8-1.7 2.8-.3 2.8 1.1 2.8 2.3 2.8 3 2.8 3.5 2.7 3.4 2.7 3 2.8 2.5 2.7 1.9 2.7 1.3 2.7 .8 2.7 .4 2.7 .1z" fill="url(#s0_37)"/>
<linearGradient id="s0_38" gradientUnits="userSpaceOnUse" x1="582.1" y1="0" x2="649.3" y2="0"><stop offset="0.00" stop-color="#f4f7f9"/><stop offset="0.08" stop-color="#f3f6fa"/><stop offset="0.16" stop-color="#eef4f9"/><stop offset="0.24" stop-color="#deeaf6"/><stop offset="0.32" stop-color="#c2d9ee"/><stop offset="0.41" stop-color="#a0cbe2"/><stop offset="0.49" stop-color="#8cc0dd"/><stop offset="0.57" stop-color="#99c7e0"/><stop offset="0.66" stop-color="#b8d5ea"/><stop offset="0.74" stop-color="#d7e6f4"/><stop offset="0.82" stop-color="#ebf2f9"/><stop offset="0.90" stop-color="#f3f6fa"/><stop offset="0.98" stop-color="#f4f7f9"/><stop offset="1.00" stop-color="#f4f7f9"/></linearGradient>
<path d="M649.8 116.2l-2.7-.1 -2.7-.4 -2.7-.8 -2.7-1.3 -2.7-1.9 -2.8-2.5 -2.7-3 -2.7-3.4 -2.8-3.5 -2.8-3 -2.8-2.3 -2.8-1.1 -2.8 .3 -2.8 1.7 -2.8 2.8 -2.7 3.7 -2.8 4 -2.7 4 -2.7 3.6 -2.7 3.1 -2.7 2.5 -2.7 1.9 -2.7 1.3 -2.8 1 -2.7 .8 .3 .6 2.7-.8 2.7-1.1 2.8-1.6 2.7-2.1 2.7-2.8 2.7-3.6 2.7-4.1 2.7-4.6 2.7-4.7 2.8-4.2 2.8-3.2 2.8-1.9 2.8-.3 2.8 1.3 2.8 2.7 2.8 3.6 2.8 4 2.8 4 2.7 3.6 2.7 2.9 2.7 2.3 2.7 1.5 2.7 1 2.8 .5 2.7 .2z" fill="url(#s0_38)"/>
<linearGradient id="s0_39" gradientUnits="userSpaceOnUse" x1="581.0" y1="0" x2="651.0" y2="0"><stop offset="0.00" stop-color="#f4f7f9"/><stop offset="0.08" stop-color="#f4f7fa"/><stop offset="0.16" stop-color="#eff4f9"/><stop offset="0.23" stop-color="#dfebf6"/><stop offset="0.31" stop-color="#bfd8ed"/><stop offset="0.39" stop-color="#95c5df"/><stop offset="0.47" stop-color="#75b4d8"/><stop offset="0.55" stop-color="#7ab6d9"/><stop offset="0.63" stop-color="#a0cbe2"/><stop offset="0.71" stop-color="#c8dcf0"/><stop offset="0.79" stop-color="#e4eef7"/><stop offset="0.86" stop-color="#f1f5f9"/><stop offset="0.94" stop-color="#f4f7f9"/><stop offset="1.00" stop-color="#f4f7f9"/></linearGradient>
<path d="M651.5 116.8l-2.7-.1 -2.7-.3 -2.7-.8 -2.7-1.2 -2.7-1.9 -2.8-2.5 -2.7-3.3 -2.7-3.8 -2.8-4.1 -2.8-3.9 -2.8-3.2 -2.8-2.1 -2.8-.5 -2.8 1.1 -2.8 2.7 -2.8 3.8 -2.7 4.4 -2.7 4.7 -2.8 4.4 -2.7 3.9 -2.7 3.2 -2.7 2.4 -2.7 1.8 -2.7 1.4 -2.8 .9 -2.7 .7 .3 .6 2.7-.8 2.8-1 2.7-1.5 2.7-2 2.7-2.8 2.7-3.6 2.7-4.3 2.7-5.1 2.7-5.3 2.8-5.1 2.8-4.3 2.8-3 2.8-1.2 2.8 .6 2.9 2.4 2.8 3.7 2.8 4.6 2.7 4.7 2.8 4.4 2.7 3.8 2.7 3 2.7 2.2 2.7 1.4 2.7 .9 2.8 .4 2.7 .2z" fill="url(#s0_39)"/>
<linearGradient id="s0_40" gradientUnits="userSpaceOnUse" x1="581.3" y1="0" x2="651.4" y2="0"><stop offset="0.00" stop-color="#f4f7f9"/><stop offset="0.08" stop-color="#f3f6fa"/><stop offset="0.16" stop-color="#edf3f9"/><stop offset="0.23" stop-color="#d9e7f4"/><stop offset="0.31" stop-color="#b4d3e9"/><stop offset="0.39" stop-color="#7fb9da"/><stop offset="0.47" stop-color="#5fa6d1"/><stop offset="0.55" stop-color="#63a8d3"/><stop offset="0.63" stop-color="#8cc0dd"/><stop offset="0.71" stop-color="#bfd8ed"/><stop offset="0.79" stop-color="#e0ecf6"/><stop offset="0.86" stop-color="#f0f5f9"/><stop offset="0.94" stop-color="#f4f7fa"/><stop offset="1.00" stop-color="#f4f7f9"/></linearGradient>
<path d="M651.9 117.4l-2.7-.2 -2.8-.4 -2.7-.9 -2.7-1.4 -2.7-2.2 -2.7-3 -2.7-3.8 -2.8-4.4 -2.7-4.7 -2.8-4.6 -2.8-3.7 -2.9-2.4 -2.8-.6 -2.8 1.2 -2.8 3 -2.8 4.3 -2.8 5.1 -2.7 5.3 -2.7 5.1 -2.7 4.3 -2.7 3.6 -2.7 2.8 -2.7 2 -2.7 1.5 -2.8 1 -2.7 .8 .3 .6 2.7-.8 2.8-1.1 2.7-1.7 2.7-2.2 2.7-3.1 2.7-4 2.7-5 2.7-5.6 2.7-6 2.8-5.7 2.7-4.9 2.8-3.4 2.9-1.4 2.8 .8 2.9 2.8 2.8 4.3 2.8 5.2 2.8 5.3 2.7 5.1 2.7 4.3 2.7 3.5 2.8 2.5 2.7 1.6 2.7 1.1 2.7 .5 2.7 .2z" fill="url(#s0_40)"/>
<linearGradient id="s0_41" gradientUnits="userSpaceOnUse" x1="581.6" y1="0" x2="651.7" y2="0"><stop offset="0.00" stop-color="#f4f7f9"/><stop offset="0.08" stop-color="#f3f6fa"/><stop offset="0.16" stop-color="#ecf3f9"/><stop offset="0.23" stop-color="#d4e4f3"/><stop offset="0.31" stop-color="#a8cee4"/><stop offset="0.39" stop-color="#69add5"/><stop offset="0.47" stop-color="#4997c9"/><stop offset="0.55" stop-color="#4e9acb"/><stop offset="0.63" stop-color="#79b5d9"/><stop offset="0.71" stop-color="#b4d3e9"/><stop offset="0.79" stop-color="#dce9f5"/><stop offset="0.86" stop-color="#eff4f9"/><stop offset="0.94" stop-color="#f4f7fa"/><stop offset="1.00" stop-color="#f4f7f9"/></linearGradient>
<path d="M652.2 118l-2.7-.2 -2.7-.5 -2.7-1.1 -2.7-1.6 -2.8-2.5 -2.7-3.5 -2.7-4.3 -2.7-5.1 -2.8-5.3 -2.8-5.2 -2.8-4.3 -2.9-2.8 -2.8-.8 -2.9 1.4 -2.8 3.4 -2.7 4.9 -2.8 5.7 -2.7 6 -2.7 5.6 -2.7 5 -2.7 4 -2.7 3.1 -2.7 2.2 -2.7 1.7 -2.8 1.1 -2.7 .8 .3 .6 2.7-.9 2.7-1.2 2.8-1.8 2.7-2.5 2.7-3.4 2.7-4.4 2.7-5.5 2.7-6.3 2.7-6.6 2.7-6.4 2.8-5.5 2.8-3.7 2.9-1.5 2.8 .9 2.9 3.1 2.8 4.9 2.8 5.8 2.8 6.1 2.8 5.7 2.7 4.8 2.7 3.9 2.7 2.8 2.7 1.9 2.7 1.2 2.7 .6 2.7 .3z" fill="url(#s0_41)"/>
<linearGradient id="s0_42" gradientUnits="userSpaceOnUse" x1="580.5" y1="0" x2="653.4" y2="0"><stop offset="0.00" stop-color="#f4f7f9"/><stop offset="0.09" stop-color="#f3f6fa"/><stop offset="0.19" stop-color="#e6eff8"/><stop offset="0.28" stop-color="#b8d5ea"/><stop offset="0.37" stop-color="#65aad4"/><stop offset="0.47" stop-color="#3787c0"/><stop offset="0.57" stop-color="#4191c6"/><stop offset="0.66" stop-color="#89bedc"/><stop offset="0.76" stop-color="#cfe1f2"/><stop offset="0.85" stop-color="#eef4f9"/><stop offset="0.94" stop-color="#f4f7f9"/><stop offset="1.00" stop-color="#f4f7f9"/></linearGradient>
<path d="M653.9 118.6l-2.7-.1 -2.7-.4 -2.7-.9 -2.7-1.5 -2.8-2.4 -2.7-3.3 -2.7-4.4 -2.7-5.3 -2.8-5.9 -2.8-6.1 -2.8-5.4 -2.8-4.1 -2.9-2.1 -2.8 .3 -2.9 2.7 -2.8 4.7 -2.8 6 -2.7 6.6 -2.7 6.6 -2.7 5.9 -2.7 4.9 -2.7 4 -2.7 2.9 -2.7 2.1 -2.7 1.5 -2.8 1 -2.7 .7 .3 .6 2.7-.7 2.8-1.1 2.7-1.6 2.7-2.3 2.7-3.2 2.7-4.3 2.7-5.4 2.7-6.5 2.7-7.2 2.7-7.3 2.8-6.7 2.8-5.1 2.9-2.9 2.8-.3 2.9 2.3 2.9 4.6 2.8 6 2.8 6.7 2.7 6.6 2.8 5.9 2.7 4.9 2.7 3.7 2.7 2.6 2.7 1.7 2.7 1 2.7 .5 2.7 .1z" fill="url(#s0_42)"/>
<linearGradient id="s0_43" gradientUnits="userSpaceOnUse" x1="580.8" y1="0" x2="653.7" y2="0"><stop offset="0.00" stop-color="#f4f7f9"/><stop offset="0.09" stop-color="#f2f6fa"/><stop offset="0.19" stop-color="#e3edf7"/><stop offset="0.28" stop-color="#afd1e7"/><stop offset="0.37" stop-color="#549fcd"/><stop offset="0.47" stop-color="#2676b8"/><stop offset="0.57" stop-color="#3282be"/><stop offset="0.66" stop-color="#79b5d9"/><stop offset="0.76" stop-color="#cadef0"/><stop offset="0.85" stop-color="#edf3f9"/><stop offset="0.94" stop-color="#f4f7fa"/><stop offset="1.00" stop-color="#f4f7f9"/></linearGradient>
<path d="M654.2 119.2l-2.7-.1 -2.7-.5 -2.7-1 -2.7-1.7 -2.7-2.6 -2.7-3.7 -2.7-4.9 -2.8-5.9 -2.7-6.6 -2.8-6.7 -2.8-6 -2.9-4.6 -2.9-2.3 -2.8 .3 -2.9 2.9 -2.8 5.1 -2.8 6.7 -2.7 7.3 -2.7 7.2 -2.7 6.5 -2.7 5.4 -2.7 4.3 -2.7 3.2 -2.7 2.3 -2.7 1.6 -2.8 1.1 -2.7 .7 .3 .6 2.7-.7 2.8-1.2 2.7-1.7 2.7-2.5 2.7-3.4 2.7-4.7 2.7-5.9 2.7-7 2.7-7.8 2.7-8 2.8-7.2 2.8-5.6 2.9-3.2 2.8-.3 2.9 2.6 2.9 5 2.8 6.7 2.8 7.3 2.8 7.2 2.7 6.5 2.7 5.3 2.7 4 2.7 2.9 2.7 1.9 2.7 1.1 2.8 .5 2.7 .2z" fill="url(#s0_43)"/>
<linearGradient id="s0_44" gradientUnits="userSpaceOnUse" x1="581.1" y1="0" x2="654.1" y2="0"><stop offset="0.00" stop-color="#f4f7f9"/><stop offset="0.09" stop-color="#f2f6fa"/><stop offset="0.19" stop-color="#e1ecf6"/><stop offset="0.28" stop-color="#a8cee4"/><stop offset="0.37" stop-color="#4695c8"/><stop offset="0.47" stop-color="#1967ad"/><stop offset="0.57" stop-color="#2373b6"/><stop offset="0.66" stop-color="#69add5"/><stop offset="0.76" stop-color="#c6dbef"/><stop offset="0.85" stop-color="#ebf2f9"/><stop offset="0.94" stop-color="#f4f7fa"/><stop offset="1.00" stop-color="#f4f7f9"/></linearGradient>
<path d="M654.6 119.8l-2.7-.2 -2.8-.5 -2.7-1.1 -2.7-1.9 -2.7-2.9 -2.7-4 -2.7-5.3 -2.7-6.5 -2.8-7.2 -2.8-7.3 -2.8-6.7 -2.9-5 -2.9-2.6 -2.8 .3 -2.9 3.2 -2.8 5.6 -2.8 7.2 -2.7 8 -2.7 7.8 -2.7 7 -2.7 5.9 -2.7 4.7 -2.7 3.4 -2.7 2.5 -2.7 1.7 -2.8 1.2 -2.7 .7 .2 .7 2.8-.9 2.8-1.2 2.7-1.8 2.7-2.6 2.7-3.7 2.7-4.9 2.7-6.4 2.6-7.5 2.7-8.4 2.8-8.6 2.8-7.7 2.8-6 2.9-3.4 2.9-.3 2.9 2.8 2.8 5.4 2.9 7.2 2.8 7.9 2.7 7.8 2.8 7 2.7 5.7 2.7 4.4 2.7 3.1 2.7 2 2.7 1.2 2.7 .6 2.7 .2z" fill="url(#s0_44)"/>
<linearGradient id="s0_45" gradientUnits="userSpaceOnUse" x1="581.4" y1="0" x2="654.4" y2="0"><stop offset="0.00" stop-color="#f4f7f9"/><stop offset="0.09" stop-color="#f2f6fa"/><stop offset="0.19" stop-color="#dfebf6"/><stop offset="0.28" stop-color="#a0cbe2"/><stop offset="0.37" stop-color="#3b8bc2"/><stop offset="0.47" stop-color="#0f5aa3"/><stop offset="0.57" stop-color="#1967ad"/><stop offset="0.66" stop-color="#5fa6d1"/><stop offset="0.76" stop-color="#c1d9ed"/><stop offset="0.85" stop-color="#eaf2f9"/><stop offset="0.94" stop-color="#f4f7fa"/><stop offset="1.00" stop-color="#f4f7f9"/></linearGradient>
<path d="M654.9 120.4l-2.7-.2 -2.7-.6 -2.7-1.2 -2.7-2 -2.7-3.1 -2.7-4.4 -2.7-5.7 -2.8-7 -2.7-7.8 -2.8-7.9 -2.9-7.2 -2.8-5.4 -2.9-2.8 -2.9 .3 -2.9 3.4 -2.8 6 -2.8 7.7 -2.8 8.6 -2.7 8.4 -2.6 7.5 -2.7 6.4 -2.7 4.9 -2.7 3.7 -2.7 2.6 -2.7 1.8 -2.8 1.2 -2.8 .9 .3 .6 2.8-.9 2.7-1.2 2.8-1.9 2.7-2.8 2.7-3.9 2.7-5.2 2.6-6.7 2.7-8 2.7-8.9 2.8-9 2.7-8.3 2.9-6.4 2.9-3.6 2.9-.3 2.9 3 2.9 5.8 2.8 7.7 2.8 8.4 2.8 8.3 2.7 7.4 2.7 6.1 2.7 4.7 2.7 3.3 2.7 2.1 2.7 1.3 2.7 .7 2.8 .3z" fill="url(#s0_45)"/>
<linearGradient id="s0_46" gradientUnits="userSpaceOnUse" x1="581.7" y1="0" x2="654.8" y2="0"><stop offset="0.00" stop-color="#f4f7f9"/><stop offset="0.09" stop-color="#f2f6fa"/><stop offset="0.19" stop-color="#dde9f5"/><stop offset="0.28" stop-color="#99c7e0"/><stop offset="0.37" stop-color="#3282be"/><stop offset="0.47" stop-color="#084f99"/><stop offset="0.57" stop-color="#125da6"/><stop offset="0.67" stop-color="#549fcd"/><stop offset="0.76" stop-color="#bcd7eb"/><stop offset="0.85" stop-color="#e9f1f8"/><stop offset="0.94" stop-color="#f4f7fa"/><stop offset="1.00" stop-color="#f4f7f9"/></linearGradient>
<path d="M655.3 121.1l-2.8-.3 -2.7-.7 -2.7-1.3 -2.7-2.1 -2.7-3.3 -2.7-4.7 -2.7-6.1 -2.7-7.4 -2.8-8.3 -2.8-8.4 -2.8-7.7 -2.9-5.8 -2.9-3 -2.9 .3 -2.9 3.6 -2.9 6.4 -2.7 8.3 -2.8 9 -2.7 8.9 -2.7 8 -2.6 6.7 -2.7 5.2 -2.7 3.9 -2.7 2.8 -2.8 1.9 -2.7 1.2 -2.8 .9 .3 .6 2.8-.8 2.7-1.3 2.8-2 2.7-2.9 2.7-4 2.7-5.5 2.6-7 2.7-8.4 2.7-9.3 2.8-9.5 2.7-8.6 2.9-6.7 2.9-3.8 2.9-.3 2.9 3.2 2.9 6.1 2.9 8.1 2.8 8.8 2.7 8.8 2.8 7.7 2.7 6.4 2.7 4.9 2.7 3.5 2.7 2.2 2.7 1.4 2.7 .7 2.7 .3z" fill="url(#s0_46)"/>
<linearGradient id="s0_47" gradientUnits="userSpaceOnUse" x1="580.6" y1="0" x2="656.5" y2="0"><stop offset="0.00" stop-color="#f4f7f9"/><stop offset="0.09" stop-color="#f3f6fa"/><stop offset="0.18" stop-color="#e2edf7"/><stop offset="0.27" stop-color="#a8cee4"/><stop offset="0.36" stop-color="#3b8bc2"/><stop offset="0.45" stop-color="#084c95"/><stop offset="0.55" stop-color="#084c95"/><stop offset="0.64" stop-color="#3b8bc2"/><stop offset="0.73" stop-color="#a8cee4"/><stop offset="0.82" stop-color="#e2edf7"/><stop offset="0.91" stop-color="#f3f6fa"/><stop offset="1.00" stop-color="#f4f7f9"/><stop offset="1.00" stop-color="#f4f7f9"/></linearGradient>
<path d="M657 121.7l-2.8-.1 -2.7-.5 -2.7-1 -2.7-1.8 -2.7-2.8 -2.7-4.2 -2.7-5.6 -2.7-7.1 -2.7-8.3 -2.8-8.9 -2.9-8.6 -2.8-7.3 -2.9-4.7 -3-1.5 -2.9 2.1 -2.8 5.3 -2.9 7.8 -2.7 9.2 -2.7 9.5 -2.7 9 -2.7 7.7 -2.7 6.2 -2.7 4.8 -2.7 3.4 -2.7 2.4 -2.7 1.6 -2.8 1 -2.7 .8 .2 .6 2.8-.7 2.8-1.1 2.7-1.7 2.7-2.4 2.7-3.5 2.7-4.9 2.7-6.5 2.7-7.9 2.7-9.2 2.7-9.9 2.8-9.5 2.8-8.1 2.9-5.5 2.9-2.1 2.9 1.5 2.9 5 2.9 7.4 2.8 9 2.8 9.2 2.7 8.6 2.8 7.4 2.7 5.8 2.6 4.3 2.7 2.9 2.8 1.9 2.7 1 2.7 .5 2.7 .2z" fill="url(#s0_47)"/>
<linearGradient id="s0_48" gradientUnits="userSpaceOnUse" x1="580.9" y1="0" x2="656.8" y2="0"><stop offset="0.00" stop-color="#f4f7f9"/><stop offset="0.09" stop-color="#f3f6fa"/><stop offset="0.18" stop-color="#e2ecf7"/><stop offset="0.27" stop-color="#a5cde3"/><stop offset="0.36" stop-color="#3787c0"/><stop offset="0.45" stop-color="#08468b"/><stop offset="0.55" stop-color="#08468b"/><stop offset="0.64" stop-color="#3787c0"/><stop offset="0.73" stop-color="#a5cde3"/><stop offset="0.82" stop-color="#e2ecf7"/><stop offset="0.91" stop-color="#f3f6fa"/><stop offset="1.00" stop-color="#f4f7f9"/><stop offset="1.00" stop-color="#f4f7f9"/></linearGradient>
<path d="M657.3 122.4l-2.7-.2 -2.7-.5 -2.7-1 -2.8-1.9 -2.7-2.9 -2.6-4.3 -2.7-5.8 -2.8-7.4 -2.7-8.6 -2.8-9.2 -2.8-9 -2.9-7.4 -2.9-5 -2.9-1.5 -2.9 2.1 -2.9 5.5 -2.8 8.1 -2.8 9.5 -2.7 9.9 -2.7 9.2 -2.7 7.9 -2.7 6.5 -2.7 4.9 -2.7 3.5 -2.7 2.4 -2.7 1.7 -2.8 1.1 -2.8 .7 .3 .7 2.8-.8 2.8-1.1 2.7-1.6 2.7-2.5 2.7-3.6 2.7-5 2.7-6.6 2.7-8.1 2.7-9.4 2.7-10 2.8-9.7 2.8-8.3 2.9-5.6 2.9-2.2 2.9 1.6 2.9 5.1 2.9 7.6 2.9 9.1 2.7 9.4 2.8 8.8 2.7 7.5 2.7 6 2.7 4.4 2.7 3 2.7 1.9 2.7 1.1 2.7 .5 2.8 .1z" fill="url(#s0_48)"/>
<linearGradient id="s0_49" gradientUnits="userSpaceOnUse" x1="581.2" y1="0" x2="657.1" y2="0"><stop offset="0.00" stop-color="#f4f7f9"/><stop offset="0.09" stop-color="#f2f6fa"/><stop offset="0.18" stop-color="#e1ecf7"/><stop offset="0.27" stop-color="#a4cce3"/><stop offset="0.36" stop-color="#3484bf"/><stop offset="0.45" stop-color="#084387"/><stop offset="0.55" stop-color="#084387"/><stop offset="0.64" stop-color="#3484bf"/><stop offset="0.73" stop-color="#a4cce3"/><stop offset="0.82" stop-color="#e1ecf7"/><stop offset="0.91" stop-color="#f2f6fa"/><stop offset="1.00" stop-color="#f4f7f9"/><stop offset="1.00" stop-color="#f4f7f9"/></linearGradient>
<path d="M657.7 123l-2.8-.1 -2.7-.5 -2.7-1.1 -2.7-1.9 -2.7-3 -2.7-4.4 -2.7-6 -2.7-7.5 -2.8-8.8 -2.7-9.4 -2.9-9.1 -2.9-7.6 -2.9-5.1 -2.9-1.6 -2.9 2.2 -2.9 5.6 -2.8 8.3 -2.8 9.7 -2.7 10 -2.7 9.4 -2.7 8.1 -2.7 6.6 -2.7 5 -2.7 3.6 -2.7 2.5 -2.7 1.6 -2.8 1.1 -2.8 .8 .3 .7 2.8-.8 2.8-1.1 2.7-1.7 2.7-2.5 2.7-3.6 2.7-5 2.7-6.6 2.7-8.2 2.7-9.5 2.7-10.1 2.8-9.7 2.8-8.3 2.9-5.7 2.9-2.2 3 1.6 2.9 5.1 2.9 7.7 2.8 9.2 2.8 9.5 2.7 8.8 2.7 7.6 2.7 6 2.7 4.4 2.7 3 2.7 1.9 2.7 1.1 2.8 .5 2.7 .2z" fill="url(#s0_49)"/>
<linearGradient id="s0_50" gradientUnits="userSpaceOnUse" x1="581.5" y1="0" x2="657.5" y2="0"><stop offset="0.00" stop-color="#f4f7f9"/><stop offset="0.09" stop-color="#f2f6fa"/><stop offset="0.18" stop-color="#e1ecf7"/><stop offset="0.27" stop-color="#a4cce3"/><stop offset="0.36" stop-color="#3484bf"/><stop offset="0.45" stop-color="#084387"/><stop offset="0.55" stop-color="#084387"/><stop offset="0.64" stop-color="#3484bf"/><stop offset="0.73" stop-color="#a4cce3"/><stop offset="0.82" stop-color="#e1ecf7"/><stop offset="0.91" stop-color="#f2f6fa"/><stop offset="1.00" stop-color="#f4f7f9"/><stop offset="1.00" stop-color="#f4f7f9"/></linearGradient>
<path d="M658 123.7l-2.7-.2 -2.8-.5 -2.7-1.1 -2.7-1.9 -2.7-3 -2.7-4.4 -2.7-6 -2.7-7.6 -2.7-8.8 -2.8-9.5 -2.8-9.2 -2.9-7.7 -2.9-5.1 -3-1.6 -2.9 2.2 -2.9 5.7 -2.8 8.3 -2.8 9.7 -2.7 10.1 -2.7 9.5 -2.7 8.2 -2.7 6.6 -2.7 5 -2.7 3.6 -2.7 2.5 -2.7 1.7 -2.8 1.1 -2.8 .8 .3 .6 2.8-.7 2.8-1.1 2.7-1.7 2.7-2.5 2.7-3.6 2.7-5 2.7-6.5 2.7-8.2 2.7-9.4 2.7-10 2.8-9.7 2.9-8.2 2.9-5.7 2.9-2.1 2.9 1.5 2.9 5.1 2.9 7.6 2.8 9.1 2.8 9.5 2.8 8.8 2.7 7.5 2.7 5.9 2.7 4.4 2.7 3 2.7 1.9 2.7 1.1 2.7 .5 2.7 .1z" fill="url(#s0_50)"/>
<linearGradient id="s0_51" gradientUnits="userSpaceOnUse" x1="581.8" y1="0" x2="657.8" y2="0"><stop offset="0.00" stop-color="#f4f7f9"/><stop offset="0.09" stop-color="#f3f6fa"/><stop offset="0.18" stop-color="#e2ecf7"/><stop offset="0.27" stop-color="#a5cde3"/><stop offset="0.36" stop-color="#3787c0"/><stop offset="0.45" stop-color="#08468b"/><stop offset="0.55" stop-color="#08468b"/><stop offset="0.64" stop-color="#3787c0"/><stop offset="0.73" stop-color="#a5cde3"/><stop offset="0.82" stop-color="#e2ecf7"/><stop offset="0.91" stop-color="#f3f6fa"/><stop offset="1.00" stop-color="#f4f7f9"/><stop offset="1.00" stop-color="#f4f7f9"/></linearGradient>
<path d="M658.3 124.3l-2.7-.1 -2.7-.5 -2.7-1.1 -2.7-1.9 -2.7-3 -2.7-4.4 -2.7-5.9 -2.7-7.5 -2.8-8.8 -2.8-9.5 -2.8-9.1 -2.9-7.6 -2.9-5.1 -2.9-1.5 -2.9 2.1 -2.9 5.7 -2.9 8.2 -2.8 9.7 -2.7 10 -2.7 9.4 -2.7 8.2 -2.7 6.5 -2.7 5 -2.7 3.6 -2.7 2.5 -2.7 1.7 -2.8 1.1 -2.8 .7 .3 .7 2.8-.7 2.8-1.1 2.7-1.7 2.7-2.4 2.8-3.6 2.6-4.9 2.7-6.4 2.7-8 2.7-9.2 2.8-9.8 2.8-9.5 2.8-8.1 2.9-5.5 2.9-2.2 3 1.6 2.9 4.9 2.8 7.5 2.9 8.9 2.7 9.2 2.8 8.6 2.7 7.4 2.7 5.8 2.7 4.3 2.7 3 2.7 1.8 2.7 1.1 2.7 .5 2.8 .1z" fill="url(#s0_51)"/>
<linearGradient id="s0_52" gradientUnits="userSpaceOnUse" x1="582.1" y1="0" x2="658.2" y2="0"><stop offset="0.00" stop-color="#f4f7f9"/><stop offset="0.09" stop-color="#f3f6fa"/><stop offset="0.18" stop-color="#e2edf7"/><stop offset="0.27" stop-color="#a8cee4"/><stop offset="0.36" stop-color="#3b8bc2"/><stop offset="0.45" stop-color="#084c95"/><stop offset="0.55" stop-color="#084c95"/><stop offset="0.64" stop-color="#3b8bc2"/><stop offset="0.73" stop-color="#a8cee4"/><stop offset="0.82" stop-color="#e2edf7"/><stop offset="0.91" stop-color="#f3f6fa"/><stop offset="1.00" stop-color="#f4f7f9"/><stop offset="1.00" stop-color="#f4f7f9"/></linearGradient>
<path d="M658.7 125l-2.8-.1 -2.7-.5 -2.7-1.1 -2.7-1.8 -2.7-3 -2.7-4.3 -2.7-5.8 -2.7-7.4 -2.8-8.6 -2.7-9.2 -2.9-8.9 -2.8-7.5 -2.9-4.9 -3-1.6 -2.9 2.2 -2.9 5.5 -2.8 8.1 -2.8 9.5 -2.8 9.8 -2.7 9.2 -2.7 8 -2.7 6.4 -2.6 4.9 -2.8 3.6 -2.7 2.4 -2.7 1.7 -2.8 1.1 -2.8 .7 .3 .7 2.8-.7 2.8-1.1 2.7-1.6 2.7-2.4 2.8-3.4 2.7-4.8 2.7-6.2 2.7-7.7 2.7-9 2.7-9.5 2.8-9.2 2.9-7.8 2.8-5.3 3-2.1 2.9 1.5 2.9 4.7 2.9 7.2 2.8 8.6 2.8 8.9 2.7 8.4 2.7 7.1 2.7 5.6 2.7 4.2 2.7 2.8 2.7 1.8 2.8 1 2.7 .5 2.7 .1z" fill="url(#s0_52)"/>
<linearGradient id="s0_53" gradientUnits="userSpaceOnUse" x1="583.8" y1="0" x2="657.1" y2="0"><stop offset="0.00" stop-color="#f4f7f9"/><stop offset="0.09" stop-color="#f2f6fa"/><stop offset="0.19" stop-color="#dde9f5"/><stop offset="0.28" stop-color="#99c7e0"/><stop offset="0.37" stop-color="#3282be"/><stop offset="0.47" stop-color="#084f99"/><stop offset="0.57" stop-color="#125da6"/><stop offset="0.67" stop-color="#549fcd"/><stop offset="0.76" stop-color="#bcd7eb"/><stop offset="0.85" stop-color="#e9f1f8"/><stop offset="0.94" stop-color="#f4f7fa"/><stop offset="1.00" stop-color="#f4f7f9"/></linearGradient>
<path d="M657.7 125.7l-2.8-.3 -2.7-.7 -2.7-1.4 -2.7-2.3 -2.7-3.4 -2.7-4.9 -2.7-6.4 -2.8-7.8 -2.7-8.7 -2.8-8.9 -2.9-8 -2.9-6.1 -2.9-3.2 -2.9 .3 -2.9 3.8 -2.9 6.7 -2.8 8.6 -2.8 9.5 -2.7 9.3 -2.7 8.4 -2.7 7 -2.7 5.5 -2.7 4 -2.7 2.9 -2.8 2 -2.7 1.3 -2.8 .9 .3 .7 2.8-.9 2.7-1.2 2.8-1.9 2.7-2.8 2.7-3.9 2.7-5.3 2.7-6.7 2.8-8 2.7-8.9 2.8-9 2.8-8.3 2.8-6.4 2.9-3.6 3-.3 2.9 3 2.9 5.8 2.8 7.7 2.8 8.4 2.8 8.3 2.7 7.4 2.7 6.1 2.7 4.7 2.7 3.3 2.7 2.1 2.7 1.3 2.8 .7 2.7 .3z" fill="url(#s0_53)"/>
<linearGradient id="s0_54" gradientUnits="userSpaceOnUse" x1="584.0" y1="0" x2="657.5" y2="0"><stop offset="0.00" stop-color="#f4f7f9"/><stop offset="0.09" stop-color="#f2f6fa"/><stop offset="0.19" stop-color="#dfebf6"/><stop offset="0.28" stop-color="#a0cbe2"/><stop offset="0.37" stop-color="#3b8bc2"/><stop offset="0.47" stop-color="#0f5aa3"/><stop offset="0.57" stop-color="#1967ad"/><stop offset="0.67" stop-color="#5fa6d1"/><stop offset="0.76" stop-color="#c1d9ed"/><stop offset="0.85" stop-color="#eaf2f9"/><stop offset="0.94" stop-color="#f4f7fa"/><stop offset="1.00" stop-color="#f4f7f9"/></linearGradient>
<path d="M658 126.4l-2.7-.3 -2.8-.7 -2.7-1.3 -2.7-2.1 -2.7-3.3 -2.7-4.7 -2.7-6.1 -2.7-7.4 -2.8-8.3 -2.8-8.4 -2.8-7.7 -2.9-5.8 -2.9-3 -3 .3 -2.9 3.6 -2.8 6.4 -2.8 8.3 -2.8 9 -2.7 8.9 -2.8 8 -2.7 6.7 -2.7 5.3 -2.7 3.9 -2.7 2.8 -2.8 1.9 -2.7 1.2 -2.8 .9 .3 .7 2.8-.8 2.7-1.3 2.8-1.8 2.7-2.6 2.8-3.7 2.7-5 2.7-6.3 2.7-7.6 2.7-8.4 2.8-8.5 2.8-7.8 2.9-6 2.9-3.4 2.9-.3 2.9 2.8 2.9 5.4 2.8 7.2 2.8 7.9 2.8 7.8 2.7 7 2.7 5.7 2.7 4.4 2.7 3.1 2.8 2 2.7 1.2 2.7 .6 2.7 .3z" fill="url(#s0_54)"/>
<linearGradient id="s0_55" gradientUnits="userSpaceOnUse" x1="584.3" y1="0" x2="657.8" y2="0"><stop offset="0.00" stop-color="#f4f7f9"/><stop offset="0.09" stop-color="#f2f6fa"/><stop offset="0.19" stop-color="#e1ecf6"/><stop offset="0.28" stop-color="#a8cee4"/><stop offset="0.37" stop-color="#4695c8"/><stop offset="0.47" stop-color="#1967ad"/><stop offset="0.57" stop-color="#2373b6"/><stop offset="0.67" stop-color="#69add5"/><stop offset="0.76" stop-color="#c6dbef"/><stop offset="0.85" stop-color="#ebf2f9"/><stop offset="0.94" stop-color="#f4f7fa"/><stop offset="1.00" stop-color="#f4f7f9"/></linearGradient>
<path d="M658.3 127.1l-2.7-.3 -2.7-.6 -2.7-1.2 -2.8-2 -2.7-3.1 -2.7-4.4 -2.7-5.7 -2.7-7 -2.8-7.8 -2.8-7.9 -2.8-7.2 -2.9-5.4 -2.9-2.8 -2.9 .3 -2.9 3.4 -2.9 6 -2.8 7.8 -2.8 8.5 -2.7 8.4 -2.7 7.6 -2.7 6.3 -2.7 5 -2.8 3.7 -2.7 2.6 -2.8 1.8 -2.7 1.3 -2.8 .8 .3 .7 2.8-.8 2.8-1.1 2.7-1.7 2.7-2.5 2.8-3.5 2.7-4.6 2.7-6 2.7-7 2.8-7.8 2.8-8 2.8-7.2 2.9-5.6 2.8-3.2 3-.3 2.9 2.6 2.8 5 2.9 6.6 2.8 7.4 2.7 7.2 2.7 6.4 2.7 5.3 2.8 4.1 2.7 2.9 2.7 1.8 2.7 1.1 2.7 .6 2.8 .2z" fill="url(#s0_55)"/>
<linearGradient id="s0_56" gradientUnits="userSpaceOnUse" x1="584.6" y1="0" x2="658.2" y2="0"><stop offset="0.00" stop-color="#f4f7f9"/><stop offset="0.09" stop-color="#f2f6fa"/><stop offset="0.19" stop-color="#e3edf7"/><stop offset="0.28" stop-color="#afd1e7"/><stop offset="0.37" stop-color="#549fcd"/><stop offset="0.47" stop-color="#2676b8"/><stop offset="0.57" stop-color="#3282be"/><stop offset="0.67" stop-color="#79b5d9"/><stop offset="0.76" stop-color="#cadef0"/><stop offset="0.85" stop-color="#edf3f9"/><stop offset="0.94" stop-color="#f4f7fa"/><stop offset="1.00" stop-color="#f4f7f9"/></linearGradient>
<path d="M658.7 127.8l-2.8-.2 -2.7-.6 -2.7-1.1 -2.7-1.8 -2.7-2.9 -2.8-4.1 -2.7-5.3 -2.7-6.4 -2.7-7.2 -2.8-7.4 -2.9-6.6 -2.8-5 -2.9-2.6 -3 .3 -2.8 3.2 -2.9 5.6 -2.8 7.2 -2.8 8 -2.8 7.8 -2.7 7 -2.7 6 -2.7 4.6 -2.8 3.5 -2.7 2.5 -2.7 1.7 -2.8 1.1 -2.8 .8 .3 .7 2.8-.7 2.8-1.1 2.7-1.6 2.8-2.3 2.7-3.2 2.7-4.3 2.8-5.5 2.7-6.5 2.7-7.2 2.8-7.3 2.8-6.7 2.9-5.1 2.9-3 2.9-.3 2.9 2.4 2.8 4.5 2.9 6.1 2.8 6.7 2.7 6.6 2.8 5.9 2.7 4.8 2.7 3.7 2.7 2.7 2.7 1.6 2.8 1 2.7 .5 2.7 .2z" fill="url(#s0_56)"/>
<linearGradient id="s0_57" gradientUnits="userSpaceOnUse" x1="584.9" y1="0" x2="658.5" y2="0"><stop offset="0.00" stop-color="#f4f7f9"/><stop offset="0.09" stop-color="#f3f6fa"/><stop offset="0.19" stop-color="#e6eff8"/><stop offset="0.28" stop-color="#b8d5ea"/><stop offset="0.37" stop-color="#65aad4"/><stop offset="0.47" stop-color="#3787c0"/><stop offset="0.57" stop-color="#4191c6"/><stop offset="0.67" stop-color="#89bedc"/><stop offset="0.76" stop-color="#cfe1f2"/><stop offset="0.85" stop-color="#eef4f9"/><stop offset="0.94" stop-color="#f4f7f9"/><stop offset="1.00" stop-color="#f4f7f9"/></linearGradient>
<path d="M659 128.5l-2.7-.2 -2.7-.5 -2.8-1 -2.7-1.6 -2.7-2.7 -2.7-3.7 -2.7-4.8 -2.8-5.9 -2.7-6.6 -2.8-6.7 -2.9-6.1 -2.8-4.5 -2.9-2.4 -2.9 .3 -2.9 3 -2.9 5.1 -2.8 6.7 -2.8 7.3 -2.7 7.2 -2.7 6.5 -2.8 5.5 -2.7 4.3 -2.7 3.2 -2.8 2.3 -2.7 1.6 -2.8 1.1 -2.8 .7 .3 .7 2.8-.7 2.8-1 2.7-1.5 2.8-2.1 2.7-2.9 2.8-4 2.7-4.9 2.7-6 2.8-6.5 2.8-6.7 2.8-6 2.9-4.7 2.8-2.7 2.9-.3 2.9 2.1 2.9 4.1 2.8 5.4 2.8 6.1 2.7 5.9 2.8 5.3 2.7 4.4 2.7 3.3 2.7 2.4 2.8 1.5 2.7 .9 2.7 .4 2.8 .1z" fill="url(#s0_57)"/>
<linearGradient id="s0_58" gradientUnits="userSpaceOnUse" x1="586.6" y1="0" x2="657.5" y2="0"><stop offset="0.00" stop-color="#f4f7f9"/><stop offset="0.08" stop-color="#f3f6fa"/><stop offset="0.16" stop-color="#ecf3f9"/><stop offset="0.23" stop-color="#d4e4f3"/><stop offset="0.31" stop-color="#a8cee4"/><stop offset="0.39" stop-color="#69add5"/><stop offset="0.47" stop-color="#4997c9"/><stop offset="0.55" stop-color="#4e9acb"/><stop offset="0.63" stop-color="#79b5d9"/><stop offset="0.71" stop-color="#b4d3e9"/><stop offset="0.79" stop-color="#dce9f5"/><stop offset="0.86" stop-color="#eff4f9"/><stop offset="0.94" stop-color="#f4f7fa"/><stop offset="1.00" stop-color="#f4f7f9"/></linearGradient>
<path d="M658 129.2l-2.7-.3 -2.8-.6 -2.7-1.2 -2.7-1.9 -2.8-2.8 -2.7-3.9 -2.7-4.8 -2.7-5.7 -2.8-6.1 -2.8-5.8 -2.9-4.9 -2.8-3.1 -2.9-.9 -2.9 1.5 -2.9 3.7 -2.8 5.5 -2.8 6.4 -2.8 6.7 -2.7 6.3 -2.8 5.5 -2.7 4.4 -2.7 3.5 -2.8 2.5 -2.8 1.7 -2.7 1.3 -2.8 .8 .3 .8 2.8-.8 2.8-1.2 2.7-1.6 2.8-2.3 2.7-3.1 2.8-4 2.7-4.9 2.8-5.7 2.7-6 2.9-5.8 2.8-4.9 2.8-3.3 2.9-1.4 2.9 .8 2.9 2.7 2.8 4.3 2.8 5.2 2.8 5.4 2.7 5 2.7 4.4 2.8 3.4 2.7 2.5 2.7 1.7 2.8 1 2.7 .5 2.7 .2z" fill="url(#s0_58)"/>
<linearGradient id="s0_59" gradientUnits="userSpaceOnUse" x1="586.9" y1="0" x2="657.8" y2="0"><stop offset="0.00" stop-color="#f4f7f9"/><stop offset="0.08" stop-color="#f3f6fa"/><stop offset="0.16" stop-color="#edf3f9"/><stop offset="0.23" stop-color="#d9e7f4"/><stop offset="0.31" stop-color="#b4d3e9"/><stop offset="0.39" stop-color="#7fb9da"/><stop offset="0.47" stop-color="#5fa6d1"/><stop offset="0.55" stop-color="#63a8d3"/><stop offset="0.63" stop-color="#8cc0dd"/><stop offset="0.71" stop-color="#bfd8ed"/><stop offset="0.79" stop-color="#e0ecf6"/><stop offset="0.86" stop-color="#f0f5f9"/><stop offset="0.94" stop-color="#f4f7fa"/><stop offset="1.00" stop-color="#f4f7f9"/></linearGradient>
<path d="M658.3 129.9l-2.7-.2 -2.7-.5 -2.8-1 -2.7-1.7 -2.7-2.5 -2.8-3.4 -2.7-4.4 -2.7-5 -2.8-5.4 -2.8-5.2 -2.8-4.3 -2.9-2.7 -2.9-.8 -2.9 1.4 -2.8 3.3 -2.8 4.9 -2.9 5.8 -2.7 6 -2.8 5.7 -2.7 4.9 -2.8 4 -2.7 3.1 -2.8 2.3 -2.7 1.6 -2.8 1.2 -2.8 .8 .3 .7 2.8-.7 2.8-1.1 2.7-1.4 2.8-2.1 2.8-2.8 2.7-3.6 2.8-4.4 2.7-5 2.8-5.4 2.8-5.1 2.8-4.3 2.9-3 2.9-1.3 2.8 .7 2.9 2.4 2.8 3.7 2.8 4.5 2.8 4.8 2.7 4.4 2.8 3.8 2.7 3 2.7 2.1 2.8 1.5 2.7 .9 2.7 .4 2.8 .1z" fill="url(#s0_59)"/>
<linearGradient id="s0_60" gradientUnits="userSpaceOnUse" x1="587.2" y1="0" x2="658.2" y2="0"><stop offset="0.00" stop-color="#f4f7f9"/><stop offset="0.08" stop-color="#f4f7fa"/><stop offset="0.16" stop-color="#eff4f9"/><stop offset="0.23" stop-color="#dfebf6"/><stop offset="0.31" stop-color="#bfd8ed"/><stop offset="0.39" stop-color="#95c5df"/><stop offset="0.47" stop-color="#75b4d8"/><stop offset="0.55" stop-color="#7ab6d9"/><stop offset="0.63" stop-color="#a0cbe2"/><stop offset="0.71" stop-color="#c8dcf0"/><stop offset="0.79" stop-color="#e4eef7"/><stop offset="0.86" stop-color="#f1f5f9"/><stop offset="0.94" stop-color="#f4f7f9"/><stop offset="1.00" stop-color="#f4f7f9"/></linearGradient>
<path d="M658.7 130.6l-2.8-.1 -2.7-.4 -2.7-.9 -2.8-1.5 -2.7-2.1 -2.7-3 -2.8-3.8 -2.7-4.4 -2.8-4.8 -2.8-4.5 -2.8-3.7 -2.9-2.4 -2.8-.7 -2.9 1.3 -2.9 3 -2.8 4.3 -2.8 5.1 -2.8 5.4 -2.7 5 -2.8 4.4 -2.7 3.6 -2.8 2.8 -2.8 2.1 -2.7 1.4 -2.8 1.1 -2.8 .7 .3 .7 2.8-.6 2.8-1 2.8-1.3 2.7-1.8 2.8-2.5 2.7-3.2 2.8-3.9 2.8-4.4 2.8-4.7 2.8-4.5 2.8-3.8 2.8-2.7 2.9-1.1 2.9 .5 2.8 2.1 2.8 3.2 2.8 3.9 2.8 4.1 2.7 3.8 2.8 3.2 2.7 2.6 2.7 1.9 2.8 1.2 2.7 .7 2.8 .4 2.7 0z" fill="url(#s0_60)"/>
<linearGradient id="s0_61" gradientUnits="userSpaceOnUse" x1="588.9" y1="0" x2="657.1" y2="0"><stop offset="0.00" stop-color="#f4f7f9"/><stop offset="0.08" stop-color="#f3f6fa"/><stop offset="0.16" stop-color="#eef4f9"/><stop offset="0.24" stop-color="#deeaf6"/><stop offset="0.33" stop-color="#c2d9ee"/><stop offset="0.41" stop-color="#a0cbe2"/><stop offset="0.49" stop-color="#8cc0dd"/><stop offset="0.57" stop-color="#99c7e0"/><stop offset="0.66" stop-color="#b8d5ea"/><stop offset="0.74" stop-color="#d7e6f4"/><stop offset="0.82" stop-color="#ebf2f9"/><stop offset="0.90" stop-color="#f3f6fa"/><stop offset="0.98" stop-color="#f4f7f9"/><stop offset="1.00" stop-color="#f4f7f9"/></linearGradient>
<path d="M657.7 131.3l-2.8-.2 -2.7-.5 -2.8-.9 -2.7-1.6 -2.8-2.2 -2.7-2.9 -2.7-3.6 -2.8-4 -2.8-4 -2.8-3.6 -2.8-2.7 -2.9-1.3 -2.8 .3 -2.9 1.9 -2.8 3.3 -2.8 4.2 -2.8 4.6 -2.8 4.7 -2.8 4.1 -2.7 3.6 -2.8 2.8 -2.8 2.1 -2.7 1.6 -2.8 1.1 -2.8 .8 .3 .8 2.8-.7 2.8-1.1 2.8-1.3 2.7-1.9 2.8-2.5 2.8-3.1 2.7-3.7 2.8-4 2.8-4 2.8-3.7 2.9-2.8 2.8-1.7 2.9-.3 2.8 1 2.8 2.3 2.8 3.1 2.8 3.4 2.8 3.4 2.7 3 2.8 2.5 2.7 1.9 2.7 1.3 2.8 .8 2.7 .4 2.8 .1z" fill="url(#s0_61)"/>
<linearGradient id="s0_62" gradientUnits="userSpaceOnUse" x1="589.3" y1="0" x2="657.5" y2="0"><stop offset="0.00" stop-color="#f4f7f9"/><stop offset="0.08" stop-color="#f4f7fa"/><stop offset="0.16" stop-color="#f0f5f9"/><stop offset="0.24" stop-color="#e2edf7"/><stop offset="0.33" stop-color="#cbdef1"/><stop offset="0.41" stop-color="#b0d2e7"/><stop offset="0.49" stop-color="#a4cce3"/><stop offset="0.57" stop-color="#abd0e6"/><stop offset="0.66" stop-color="#c6dbef"/><stop offset="0.74" stop-color="#deeaf6"/><stop offset="0.82" stop-color="#edf3f9"/><stop offset="0.90" stop-color="#f3f6fa"/><stop offset="0.98" stop-color="#f4f7f9"/><stop offset="1.00" stop-color="#f4f7f9"/></linearGradient>
<path d="M658 132.1l-2.8-.1 -2.7-.4 -2.8-.8 -2.7-1.3 -2.7-1.9 -2.8-2.5 -2.7-3 -2.8-3.4 -2.8-3.4 -2.8-3.1 -2.8-2.3 -2.8-1 -2.9 .3 -2.8 1.7 -2.9 2.8 -2.8 3.7 -2.8 4 -2.8 4 -2.7 3.7 -2.8 3.1 -2.8 2.5 -2.7 1.9 -2.8 1.3 -2.8 1.1 -2.8 .7 .3 .7 2.8-.6 2.8-.9 2.8-1.3 2.7-1.6 2.8-2.2 2.8-2.7 2.8-3.1 2.8-3.5 2.8-3.4 2.8-3.2 2.8-2.5 2.8-1.5 2.9-.3 2.8 .9 2.8 1.9 2.8 2.5 2.8 2.9 2.8 2.8 2.7 2.6 2.8 2.1 2.7 1.5 2.8 1.1 2.7 .6 2.8 .3 2.7 0z" fill="url(#s0_62)"/>
<linearGradient id="s0_63" gradientUnits="userSpaceOnUse" x1="591.0" y1="0" x2="656.4" y2="0"><stop offset="0.00" stop-color="#f4f7f9"/><stop offset="0.09" stop-color="#f3f6fa"/><stop offset="0.17" stop-color="#eff4f9"/><stop offset="0.25" stop-color="#e3edf7"/><stop offset="0.34" stop-color="#cfe1f2"/><stop offset="0.43" stop-color="#bcd7eb"/><stop offset="0.51" stop-color="#b4d3e9"/><stop offset="0.60" stop-color="#c1d9ed"/><stop offset="0.68" stop-color="#d4e4f3"/><stop offset="0.77" stop-color="#e7f0f8"/><stop offset="0.85" stop-color="#f1f5fa"/><stop offset="0.94" stop-color="#f4f7f9"/><stop offset="1.00" stop-color="#f4f7f9"/></linearGradient>
<path d="M657 132.8l-2.8-.1 -2.7-.5 -2.8-.8 -2.7-1.3 -2.8-1.8 -2.7-2.3 -2.8-2.8 -2.8-2.9 -2.8-2.7 -2.8-2.3 -2.8-1.4 -2.8-.3 -2.9 .9 -2.8 2 -2.8 2.9 -2.8 3.4 -2.8 3.5 -2.8 3.3 -2.8 2.9 -2.8 2.5 -2.7 1.9 -2.8 1.4 -2.8 1.1 -2.8 .7 .3 .8 2.8-.7 2.8-.9 2.8-1.3 2.8-1.6 2.7-2.1 2.8-2.5 2.8-2.9 2.8-3 2.8-2.8 2.8-2.5 2.9-1.7 2.8-.8 2.8 .2 2.8 1.1 2.8 1.8 2.8 2.3 2.8 2.4 2.8 2.2 2.7 1.9 2.8 1.5 2.7 1 2.8 .7 2.7 .3 2.8 .1z" fill="url(#s0_63)"/>
<linearGradient id="s0_64" gradientUnits="userSpaceOnUse" x1="591.3" y1="0" x2="656.8" y2="0"><stop offset="0.00" stop-color="#f4f7f9"/><stop offset="0.09" stop-color="#f4f7fa"/><stop offset="0.17" stop-color="#f1f5f9"/><stop offset="0.26" stop-color="#e7f0f8"/><stop offset="0.34" stop-color="#d8e6f4"/><stop offset="0.43" stop-color="#c9ddf0"/><stop offset="0.51" stop-color="#c4daee"/><stop offset="0.60" stop-color="#ccdff1"/><stop offset="0.68" stop-color="#dce9f5"/><stop offset="0.77" stop-color="#ebf2f9"/><stop offset="0.85" stop-color="#f2f6fa"/><stop offset="0.94" stop-color="#f4f7f9"/><stop offset="1.00" stop-color="#f4f7f9"/></linearGradient>
<path d="M657.3 133.6l-2.8-.1 -2.7-.3 -2.8-.7 -2.7-1 -2.8-1.5 -2.7-1.9 -2.8-2.2 -2.8-2.4 -2.8-2.3 -2.8-1.8 -2.8-1.1 -2.8-.2 -2.8 .8 -2.9 1.7 -2.8 2.5 -2.8 2.8 -2.8 3 -2.8 2.9 -2.8 2.5 -2.7 2.1 -2.8 1.6 -2.8 1.3 -2.8 .9 -2.8 .7 .3 .8 2.8-.7 2.8-.8 2.8-1.1 2.8-1.4 2.8-1.8 2.8-2.1 2.7-2.4 2.8-2.6 2.8-2.4 2.9-2.1 2.8-1.5 2.8-.7 2.8 .1 2.9 .9 2.8 1.5 2.8 1.8 2.7 1.9 2.8 1.8 2.8 1.5 2.7 1.2 2.8 .8 2.7 .5 2.8 .2 2.7 .1z" fill="url(#s0_64)"/>
<linearGradient id="s0_65" gradientUnits="userSpaceOnUse" x1="593.0" y1="0" x2="655.7" y2="0"><stop offset="0.00" stop-color="#f4f7f9"/><stop offset="0.09" stop-color="#f4f7fa"/><stop offset="0.18" stop-color="#f1f5f9"/><stop offset="0.27" stop-color="#e9f1f8"/><stop offset="0.36" stop-color="#dce9f5"/><stop offset="0.45" stop-color="#d1e2f2"/><stop offset="0.54" stop-color="#d0e1f2"/><stop offset="0.63" stop-color="#d9e7f4"/><stop offset="0.71" stop-color="#e6eff8"/><stop offset="0.80" stop-color="#eff4f9"/><stop offset="0.89" stop-color="#f3f6fa"/><stop offset="0.98" stop-color="#f4f7f9"/><stop offset="1.00" stop-color="#f4f7f9"/></linearGradient>
<path d="M656.3 134.4l-2.8-.2 -2.8-.3 -2.7-.6 -2.8-1 -2.7-1.4 -2.8-1.7 -2.8-1.9 -2.7-1.9 -2.8-1.6 -2.9-1.2 -2.8-.5 -2.8 .3 -2.8 1.1 -2.8 1.8 -2.9 2.3 -2.8 2.5 -2.8 2.5 -2.7 2.3 -2.8 1.9 -2.8 1.6 -2.8 1.3 -2.8 1 -2.8 .7 .3 .8 2.8-.7 2.8-.8 2.8-1.1 2.8-1.4 2.8-1.7 2.8-1.9 2.8-2.1 2.8-2.1 2.8-1.9 2.8-1.6 2.8-.9 2.8-.3 2.9 .3 2.8 .9 2.8 1.4 2.8 1.5 2.7 1.5 2.8 1.3 2.8 1 2.7 .8 2.8 .5 2.7 .2 2.8 0z" fill="url(#s0_65)"/>
<linearGradient id="s0_66" gradientUnits="userSpaceOnUse" x1="594.7" y1="0" x2="654.7" y2="0"><stop offset="0.00" stop-color="#f4f7f9"/><stop offset="0.09" stop-color="#f4f7fa"/><stop offset="0.19" stop-color="#f1f5fa"/><stop offset="0.28" stop-color="#eaf2f9"/><stop offset="0.37" stop-color="#e1ecf6"/><stop offset="0.47" stop-color="#dae8f5"/><stop offset="0.56" stop-color="#dbe8f5"/><stop offset="0.65" stop-color="#e3edf7"/><stop offset="0.75" stop-color="#ecf3f9"/><stop offset="0.84" stop-color="#f2f6fa"/><stop offset="0.93" stop-color="#f4f7f9"/><stop offset="1.00" stop-color="#f4f7f9"/></linearGradient>
<path d="M655.2 135.1l-2.7-.1 -2.8-.3 -2.8-.6 -2.7-1 -2.8-1.2 -2.8-1.4 -2.7-1.5 -2.8-1.4 -2.8-1.2 -2.8-.6 -2.9-.1 -2.8 .7 -2.8 1.2 -2.8 1.8 -2.8 2 -2.8 2.2 -2.8 2 -2.8 1.8 -2.8 1.5 -2.8 1.3 -2.8 .9 -2.8 .8 .3 .8 2.8-.7 2.8-.8 2.8-1.1 2.8-1.3 2.8-1.5 2.8-1.7 2.8-1.8 2.8-1.7 2.8-1.5 2.8-1.1 2.9-.5 2.8-.1 2.8 .5 2.8 .9 2.8 1.1 2.8 1.1 2.7 1.1 2.8 .9 2.8 .7 2.7 .5 2.8 .2 2.8 0z" fill="url(#s0_66)"/>
<linearGradient id="s0_67" gradientUnits="userSpaceOnUse" x1="596.4" y1="0" x2="653.7" y2="0"><stop offset="0.00" stop-color="#f4f7f9"/><stop offset="0.10" stop-color="#f4f7fa"/><stop offset="0.20" stop-color="#f1f5fa"/><stop offset="0.29" stop-color="#ecf3f9"/><stop offset="0.39" stop-color="#e5eff7"/><stop offset="0.49" stop-color="#e1ecf7"/><stop offset="0.59" stop-color="#e4eef7"/><stop offset="0.69" stop-color="#eaf2f9"/><stop offset="0.78" stop-color="#f0f5f9"/><stop offset="0.88" stop-color="#f3f6fa"/><stop offset="0.98" stop-color="#f4f7f9"/><stop offset="1.00" stop-color="#f4f7f9"/></linearGradient>
<path d="M654.2 135.9l-2.8-.1 -2.7-.3 -2.8-.6 -2.8-.8 -2.8-1 -2.7-1.1 -2.8-1.2 -2.8-1 -2.8-.7 -2.8-.2 -2.8 .3 -2.9 .8 -2.8 1.3 -2.8 1.6 -2.8 1.8 -2.8 1.8 -2.8 1.6 -2.8 1.4 -2.8 1.2 -2.8 .9 -2.8 .8 .3 .8 2.8-.7 2.8-.8 2.8-1 2.8-1.2 2.8-1.3 2.8-1.5 2.8-1.5 2.9-1.3 2.8-1.1 2.8-.8 2.8-.3 2.8 .1 2.8 .5 2.8 .8 2.8 .8 2.8 .9 2.7 .7 2.8 .6 2.8 .4 2.8 .2 2.7 0z" fill="url(#s0_67)"/>
<linearGradient id="s0_68" gradientUnits="userSpaceOnUse" x1="596.7" y1="0" x2="654.0" y2="0"><stop offset="0.00" stop-color="#f4f7f9"/><stop offset="0.10" stop-color="#f4f7f9"/><stop offset="0.20" stop-color="#f2f6fa"/><stop offset="0.29" stop-color="#eff4f9"/><stop offset="0.39" stop-color="#eaf2f9"/><stop offset="0.49" stop-color="#e7f0f8"/><stop offset="0.59" stop-color="#e9f1f8"/><stop offset="0.69" stop-color="#eef4f9"/><stop offset="0.78" stop-color="#f2f6fa"/><stop offset="0.88" stop-color="#f4f7fa"/><stop offset="0.98" stop-color="#f4f7f9"/><stop offset="1.00" stop-color="#f4f7f9"/></linearGradient>
<path d="M654.5 136.7l-2.7 0 -2.8-.2 -2.8-.4 -2.8-.6 -2.7-.7 -2.8-.9 -2.8-.8 -2.8-.8 -2.8-.5 -2.8-.1 -2.8 .3 -2.8 .8 -2.8 1.1 -2.9 1.3 -2.8 1.5 -2.8 1.5 -2.8 1.3 -2.8 1.2 -2.8 1 -2.8 .8 -2.8 .7 .4 .8 2.8-.6 2.8-.7 2.8-.9 2.8-1 2.8-1.1 2.8-1.2 2.8-1.3 2.8-1.1 2.8-.9 2.8-.7 2.8-.3 2.8 0 2.8 .4 2.8 .5 2.8 .6 2.8 .6 2.8 .5 2.7 .4 2.8 .3 2.8 .1 2.8-.1z" fill="url(#s0_68)"/>
<linearGradient id="s0_69" gradientUnits="userSpaceOnUse" x1="598.4" y1="0" x2="653.0" y2="0"><stop offset="0.00" stop-color="#f4f7f9"/><stop offset="0.10" stop-color="#f4f7f9"/><stop offset="0.21" stop-color="#f3f6fa"/><stop offset="0.31" stop-color="#f0f5f9"/><stop offset="0.41" stop-color="#edf3f9"/><stop offset="0.51" stop-color="#ecf3f9"/><stop offset="0.62" stop-color="#eef4f9"/><stop offset="0.72" stop-color="#f1f5f9"/><stop offset="0.82" stop-color="#f3f6fa"/><stop offset="0.92" stop-color="#f4f7f9"/><stop offset="1.00" stop-color="#f4f7f9"/></linearGradient>
<path d="M653.5 137.5l-2.8 0 -2.8-.1 -2.7-.4 -2.8-.4 -2.8-.6 -2.8-.6 -2.8-.6 -2.8-.4 -2.8-.2 -2.8 .1 -2.8 .5 -2.8 .8 -2.8 1 -2.8 1.2 -2.8 1.3 -2.8 1.2 -2.8 1 -2.8 1 -2.8 .7 -2.8 .7 .3 .8 2.8-.6 2.8-.7 2.8-.7 2.8-1 2.8-.9 2.8-1.1 2.8-1 2.8-.9 2.8-.7 2.8-.4 2.8-.2 2.9 .1 2.8 .3 2.7 .4 2.8 .4 2.8 .4 2.8 .3 2.8 .1 2.7 .1 2.8-.1z" fill="url(#s0_69)"/>
<linearGradient id="s0_70" gradientUnits="userSpaceOnUse" x1="600.1" y1="0" x2="651.9" y2="0"><stop offset="0.00" stop-color="#f4f7f9"/><stop offset="0.08" stop-color="#f4f7f9"/><stop offset="0.16" stop-color="#f4f7fa"/><stop offset="0.24" stop-color="#f3f6fa"/><stop offset="0.33" stop-color="#f1f5fa"/><stop offset="0.41" stop-color="#f0f5f9"/><stop offset="0.49" stop-color="#eff4f9"/><stop offset="0.57" stop-color="#f0f5f9"/><stop offset="0.65" stop-color="#f1f5f9"/><stop offset="0.73" stop-color="#f2f6fa"/><stop offset="0.81" stop-color="#f3f6fa"/><stop offset="0.89" stop-color="#f4f7f9"/><stop offset="0.97" stop-color="#f4f7f9"/><stop offset="1.00" stop-color="#f4f7f9"/></linearGradient>
<path d="M652.4 138.4l-2.7 0 -2.8-.1 -2.8-.3 -2.8-.3 -2.8-.4 -2.8-.4 -2.7-.4 -2.8-.2 -2.9 .1 -2.8 .3 -2.8 .6 -2.8 .8 -2.8 .9 -2.8 1 -2.8 1.1 -2.8 .9 -2.8 .9 -2.8 .7 -2.8 .6 .3 .8 2.8-.5 2.8-.7 2.8-.7 2.8-.8 2.8-.8 2.8-.9 2.8-.8 2.9-.7 2.8-.5 2.8-.3 2.8-.1 2.8 0 2.8 .2 2.8 .3 2.8 .2 2.7 .2 2.8 .1 2.8 .1 2.8-.1z" fill="url(#s0_70)"/>
<linearGradient id="s0_71" gradientUnits="userSpaceOnUse" x1="603.3" y1="0" x2="649.5" y2="0"><stop offset="0.00" stop-color="#f4f7f9"/><stop offset="0.09" stop-color="#f4f7f9"/><stop offset="0.18" stop-color="#f4f7fa"/><stop offset="0.27" stop-color="#f3f6fa"/><stop offset="0.36" stop-color="#f2f6fa"/><stop offset="0.46" stop-color="#f1f5fa"/><stop offset="0.55" stop-color="#f1f5fa"/><stop offset="0.64" stop-color="#f2f6fa"/><stop offset="0.73" stop-color="#f3f6fa"/><stop offset="0.82" stop-color="#f4f7fa"/><stop offset="0.91" stop-color="#f4f7f9"/><stop offset="1.00" stop-color="#f4f7f9"/><stop offset="1.00" stop-color="#f4f7f9"/></linearGradient>
<path d="M650 139.3l-2.8-.1 -2.8-.1 -2.7-.2 -2.8-.2 -2.8-.3 -2.8-.2 -2.8 0 -2.8 .1 -2.8 .3 -2.8 .5 -2.9 .7 -2.8 .8 -2.8 .9 -2.8 .8 -2.8 .8 -2.8 .7 -2.8 .7 .3 .8 2.8-.5 2.8-.7 2.8-.6 2.9-.8 2.8-.7 2.8-.7 2.8-.6 2.8-.4 2.8-.4 2.8-.1 2.8 0 2.8 0 2.8 .2 2.8 .1 2.8 0 2.8 0 2.7 0z" fill="url(#s0_71)"/>
<linearGradient id="s0_72" gradientUnits="userSpaceOnUse" x1="605.0" y1="0" x2="648.4" y2="0"><stop offset="0.00" stop-color="#f4f7f9"/><stop offset="0.10" stop-color="#f4f7f9"/><stop offset="0.19" stop-color="#f4f7fa"/><stop offset="0.29" stop-color="#f3f6fa"/><stop offset="0.39" stop-color="#f3f6fa"/><stop offset="0.49" stop-color="#f2f6fa"/><stop offset="0.58" stop-color="#f3f6fa"/><stop offset="0.68" stop-color="#f3f6fa"/><stop offset="0.78" stop-color="#f4f7fa"/><stop offset="0.87" stop-color="#f4f7f9"/><stop offset="0.97" stop-color="#f4f7f9"/><stop offset="1.00" stop-color="#f4f7f9"/></linearGradient>
<path d="M648.9 140.1l-2.7 .1 -2.8-.1 -2.8-.1 -2.8-.1 -2.8-.1 -2.8 0 -2.8 .1 -2.8 .2 -2.8 .4 -2.8 .5 -2.8 .6 -2.8 .8 -2.9 .7 -2.8 .7 -2.8 .7 -2.8 .6 .3 .8 2.8-.5 2.9-.6 2.8-.6 2.8-.6 2.8-.7 2.8-.5 2.8-.5 2.8-.4 2.8-.2 2.8-.1 2.8-.1 2.8 0 2.8 0 2.8 0 2.8 0 2.8-.1z" fill="url(#s0_72)"/>
<linearGradient id="s0_73" gradientUnits="userSpaceOnUse" x1="606.7" y1="0" x2="647.4" y2="0"><stop offset="0.00" stop-color="#f4f7f9"/><stop offset="0.10" stop-color="#f4f7f9"/><stop offset="0.21" stop-color="#f4f7f9"/><stop offset="0.31" stop-color="#f4f7fa"/><stop offset="0.41" stop-color="#f3f6fa"/><stop offset="0.52" stop-color="#f3f6fa"/><stop offset="0.62" stop-color="#f4f7fa"/><stop offset="0.73" stop-color="#f4f7fa"/><stop offset="0.83" stop-color="#f4f7f9"/><stop offset="0.93" stop-color="#f4f7f9"/><stop offset="1.00" stop-color="#f4f7f9"/></linearGradient>
<path d="M647.9 141l-2.8 .1 -2.8 0 -2.8 0 -2.8 0 -2.8 0 -2.8 .1 -2.8 .2 -2.8 .3 -2.8 .4 -2.8 .6 -2.8 .6 -2.8 .6 -2.8 .6 -2.8 .6 -2.9 .5 .4 .9 2.8-.5 2.8-.5 2.8-.6 2.8-.5 2.8-.5 2.8-.5 2.8-.4 2.8-.3 2.9-.2 2.8-.2 2.8-.1 2.8-.1 2.7 0 2.8-.1 2.8-.2z" fill="url(#s0_73)"/>
<linearGradient id="s0_74" gradientUnits="userSpaceOnUse" x1="609.8" y1="0" x2="644.9" y2="0"><stop offset="0.00" stop-color="#f4f7f9"/><stop offset="0.08" stop-color="#f4f7f9"/><stop offset="0.16" stop-color="#f4f7f9"/><stop offset="0.24" stop-color="#f4f7f9"/><stop offset="0.32" stop-color="#f4f7f9"/><stop offset="0.40" stop-color="#f4f7f9"/><stop offset="0.48" stop-color="#f4f7fa"/><stop offset="0.56" stop-color="#f4f7f9"/><stop offset="0.64" stop-color="#f4f7f9"/><stop offset="0.72" stop-color="#f4f7f9"/><stop offset="0.80" stop-color="#f4f7f9"/><stop offset="0.88" stop-color="#f4f7f9"/><stop offset="0.96" stop-color="#f4f7f9"/><stop offset="1.00" stop-color="#f4f7f9"/></linearGradient>
<path d="M645.4 142l-2.8 .1 -2.7 0 -2.8 .1 -2.8 .1 -2.8 .2 -2.9 .2 -2.8 .3 -2.8 .4 -2.8 .5 -2.8 .5 -2.8 .5 -2.8 .6 -2.8 .5 .3 .8 2.8-.4 2.8-.5 2.8-.5 2.8-.4 2.9-.5 2.8-.3 2.8-.4 2.8-.2 2.8-.2 2.8-.2 2.8-.1 2.8-.1 2.8-.2z" fill="url(#s0_74)"/>
<linearGradient id="s0_75" gradientUnits="userSpaceOnUse" x1="613.0" y1="0" x2="642.5" y2="0"><stop offset="0.00" stop-color="#f4f7f9"/><stop offset="0.10" stop-color="#f4f7f9"/><stop offset="0.19" stop-color="#f4f7f9"/><stop offset="0.29" stop-color="#f4f7f9"/><stop offset="0.38" stop-color="#f4f7f9"/><stop offset="0.48" stop-color="#f4f7f9"/><stop offset="0.57" stop-color="#f4f7f9"/><stop offset="0.67" stop-color="#f4f7f9"/><stop offset="0.76" stop-color="#f4f7f9"/><stop offset="0.86" stop-color="#f4f7f9"/><stop offset="0.95" stop-color="#f4f7f9"/><stop offset="1.00" stop-color="#f4f7f9"/></linearGradient>
<path d="M643 143l-2.8 .1 -2.8 .1 -2.8 .2 -2.8 .2 -2.8 .2 -2.8 .4 -2.8 .3 -2.9 .5 -2.8 .4 -2.8 .5 -2.8 .5 .3 .8 2.8-.4 2.9-.4 2.8-.5 2.8-.4 2.8-.3 2.8-.3 2.8-.3 2.8-.2 2.8-.2 2.8-.2 2.8-.2z" fill="url(#s0_75)"/>
<path d="M533.0 102.0 527.4 29.8" fill="none" stroke="#222" stroke-width="1.0" />
<path d="M533.0 102.0 561.6 172.8" fill="none" stroke="#222" stroke-width="1.0" />
<path d="M561.6 172.8 710.7 156.1" fill="none" stroke="#222" stroke-width="1.0" />
<path d="M564.8 172.5 565.1 174.1" fill="none" stroke="#333" stroke-width="0.7" />
<path d="M560.9 171.2 558.3 171.4" fill="none" stroke="#333" stroke-width="0.7" />
<path d="M600.9 168.4 601.2 170.0" fill="none" stroke="#333" stroke-width="0.7" />
<path d="M553.7 153.4 551.1 153.6" fill="none" stroke="#333" stroke-width="0.7" />
<path d="M636.7 164.4 637.0 166.0" fill="none" stroke="#333" stroke-width="0.7" />
<path d="M546.8 136.2 544.2 136.4" fill="none" stroke="#333" stroke-width="0.7" />
<path d="M672.2 160.4 672.5 162.0" fill="none" stroke="#333" stroke-width="0.7" />
<path d="M540.0 119.5 537.4 119.7" fill="none" stroke="#333" stroke-width="0.7" />
<path d="M707.5 156.4 707.8 158.0" fill="none" stroke="#333" stroke-width="0.7" />
<path d="M533.5 103.4 530.9 103.6" fill="none" stroke="#333" stroke-width="0.7" />
<path d="M533.0 102.0 530.0 102.3" fill="none" stroke="#222" stroke-width="0.8" />
<path d="M530.5 70.2 527.5 70.5" fill="none" stroke="#222" stroke-width="0.8" />
<path d="M527.9 36.7 524.9 37.0" fill="none" stroke="#222" stroke-width="0.8" />
<linearGradient id="g26" x1="0" y1="0" x2="0" y2="1"><stop offset="0.00" stop-color="#083776"/><stop offset="0.10" stop-color="#08519c"/><stop offset="0.20" stop-color="#1c6ab0"/><stop offset="0.30" stop-color="#3484bf"/><stop offset="0.40" stop-color="#519ccc"/><stop offset="0.50" stop-color="#71b1d7"/><stop offset="0.60" stop-color="#99c7e0"/><stop offset="0.70" stop-color="#b9d6ea"/><stop offset="0.80" stop-color="#d1e2f3"/><stop offset="0.90" stop-color="#e4eff9"/><stop offset="1.00" stop-color="#f7fbff"/></linearGradient>
<rect x="732.90" y="26.50" width="6.60" height="136.10" fill="url(#g26)"/>
<rect x="732.90" y="26.50" width="6.60" height="136.10" fill="none" stroke="#2a2a2a" stroke-width="0.9"/>
<text transform="translate(720.19 22.46) scale(1.041 1)" font-size="17.00">0.54</text>
<text transform="translate(731.45 176.94) scale(1.130 1)" font-size="16.80">0</text>
<text transform="translate(515.50 103.44) scale(1.130 1)" font-size="16.80">0</text>
<text transform="translate(495.30 73.76) scale(1.025 1)" font-size="17.00">0.25</text>
<text transform="translate(501.04 43.31) scale(1.121 1)" font-size="17.00">0.5</text>
<text transform="translate(522.40 112.21) scale(1.130 1)" font-size="16.80">4</text>
<rect x="516.25" y="107.75" width="4.2" height="1.05" fill="#151515"/>
<text transform="translate(526.34 127.56) scale(1.130 1)" font-size="16.80">2</text>
<rect x="520.00" y="123.10" width="4.2" height="1.05" fill="#151515"/>
<text transform="translate(533.15 143.24) scale(1.130 1)" font-size="16.80">0</text>
<text transform="translate(539.94 160.76) scale(1.130 1)" font-size="16.80">2</text>
<text transform="translate(546.95 178.36) scale(1.130 1)" font-size="16.80">4</text>
<text transform="translate(562.30 188.36) scale(1.130 1)" font-size="16.80">4</text>
<text transform="translate(598.59 183.76) scale(1.130 1)" font-size="16.80">2</text>
<text transform="translate(633.85 179.94) scale(1.130 1)" font-size="16.80">0</text>
<text transform="translate(673.99 176.46) scale(1.130 1)" font-size="16.80">2</text>
<rect x="667.65" y="172.00" width="4.2" height="1.05" fill="#151515"/>
<text transform="translate(708.85 171.46) scale(1.130 1)" font-size="16.80">4</text>
<rect x="702.70" y="167.00" width="4.2" height="1.05" fill="#151515"/>
<use href="#xg" transform="translate(634.97 184.27) scale(0.1087 0.1365)"/>
<text transform="translate(646.36 198.62) scale(1.848 1)" font-size="6.37" font-weight="bold">1,2</text>
<text transform="translate(508.12 144.36) scale(1.089 1)" font-size="17.35" font-weight="bold" font-style="italic" stroke="currentColor" stroke-width="0.35">p</text>
<text transform="translate(517.74 150.16) scale(2.099 1)" font-size="5.73" font-weight="bold">1,2</text>
<text transform="translate(488.06 137.95) rotate(-90) scale(1.135 1)" font-size="17.01" font-weight="bold" font-style="italic" stroke="currentColor" stroke-width="0.35">W</text>
<text transform="translate(487.93 118.38) rotate(-90) scale(0.918 1)" font-size="18.44">(</text>
<use href="#xg" transform="translate(481.72 112.37) rotate(-90) scale(0.1239 0.1095)"/>
<text transform="translate(494.15 98.94) rotate(-90) scale(1.483 1)" font-size="6.26" font-weight="bold">1,2</text>
<text transform="translate(488.50 83.67) rotate(-90) scale(1.224 1)" font-size="13.33" font-weight="bold" font-style="italic" stroke="currentColor" stroke-width="0.35">,</text>
<text transform="translate(489.06 73.53) rotate(-90) scale(1.271 1)" font-size="15.44" font-weight="bold" font-style="italic" stroke="currentColor" stroke-width="0.35">p</text>
<text transform="translate(493.38 63.65) rotate(-90) scale(1.887 1)" font-size="5.63" font-weight="bold">1,2</text>
<text transform="translate(487.93 49.05) rotate(-90) scale(1.001 1)" font-size="18.44">)</text>
<path d="M533.0 307.0 672.8 292.4 675.8 220.4 527.4 234.8Z" fill="#efefef" />
<path d="M672.8 292.4 710.7 361.1 716.4 288.2 675.8 220.4Z" fill="#f6f6f6" />
<path d="M533.0 307.0 561.6 377.8 710.7 361.1 672.8 292.4Z" fill="#f3f3f3" />
<path d="M536.0 306.7 530.7 234.5" fill="none" stroke="#cfcfcf" stroke-width="0.6" />
<path d="M709.8 359.5 715.4 286.6" fill="none" stroke="#c2c2c2" stroke-width="0.6" stroke-dasharray="3.2 2.2"/>
<path d="M569.8 303.1 566.5 231.0" fill="none" stroke="#cfcfcf" stroke-width="0.6" />
<path d="M700.3 342.2 705.2 269.6" fill="none" stroke="#c2c2c2" stroke-width="0.6" stroke-dasharray="3.2 2.2"/>
<path d="M603.4 299.6 602.2 227.5" fill="none" stroke="#cfcfcf" stroke-width="0.6" />
<path d="M691.1 325.6 695.3 253.1" fill="none" stroke="#c2c2c2" stroke-width="0.6" stroke-dasharray="3.2 2.2"/>
<path d="M636.7 296.1 637.5 224.1" fill="none" stroke="#cfcfcf" stroke-width="0.6" />
<path d="M682.2 309.4 685.8 237.1" fill="none" stroke="#c2c2c2" stroke-width="0.6" stroke-dasharray="3.2 2.2"/>
<path d="M669.8 292.7 672.6 220.7" fill="none" stroke="#cfcfcf" stroke-width="0.6" />
<path d="M673.5 293.8 676.6 221.7" fill="none" stroke="#c2c2c2" stroke-width="0.6" stroke-dasharray="3.2 2.2"/>
<path d="M533.0 307.0 672.8 292.4" fill="none" stroke="#c2c2c2" stroke-width="0.6" stroke-dasharray="3.2 2.2"/>
<path d="M672.8 292.4 710.7 361.1" fill="none" stroke="#cfcfcf" stroke-width="0.6" />
<path d="M530.7 276.9 674.0 262.4" fill="none" stroke="#c2c2c2" stroke-width="0.6" stroke-dasharray="3.2 2.2"/>
<path d="M674.0 262.4 713.0 330.8" fill="none" stroke="#cfcfcf" stroke-width="0.6" />
<path d="M528.2 245.3 675.3 230.8" fill="none" stroke="#c2c2c2" stroke-width="0.6" stroke-dasharray="3.2 2.2"/>
<path d="M675.3 230.8 715.5 298.8" fill="none" stroke="#cfcfcf" stroke-width="0.6" />
<path d="M536.6 308.1 564.2 375.8 706.7 359.8 670.6 294.1Z" fill="#f4f6f8" />
<linearGradient id="s205_20" gradientUnits="userSpaceOnUse" x1="596.0" y1="0" x2="624.5" y2="0"><stop offset="0.00" stop-color="#f4f7f9"/><stop offset="0.10" stop-color="#f4f7f9"/><stop offset="0.19" stop-color="#f4f7f9"/><stop offset="0.29" stop-color="#f4f7f9"/><stop offset="0.38" stop-color="#f4f7f9"/><stop offset="0.48" stop-color="#f4f7f9"/><stop offset="0.57" stop-color="#f4f7f9"/><stop offset="0.67" stop-color="#f4f7f9"/><stop offset="0.76" stop-color="#f4f7f9"/><stop offset="0.86" stop-color="#f4f7f9"/><stop offset="0.95" stop-color="#f4f7f9"/><stop offset="1.00" stop-color="#f4f7f9"/></linearGradient>
<path d="M625 311.7l-2.7 .2 -2.7 .2 -2.7 .2 -2.7 .2 -2.8 .2 -2.7 .3 -2.7 .4 -2.7 .3 -2.7 .4 -2.7 .3 -2.7 .4 .2 .5 2.8-.4 2.7-.4 2.7-.4 2.7-.4 2.7-.3 2.8-.3 2.7-.2 2.7-.2 2.7-.2 2.7-.2 2.7-.1z" fill="url(#s205_20)"/>
<linearGradient id="s205_21" gradientUnits="userSpaceOnUse" x1="593.6" y1="0" x2="627.5" y2="0"><stop offset="0.00" stop-color="#f4f7f9"/><stop offset="0.08" stop-color="#f4f7f9"/><stop offset="0.16" stop-color="#f4f7f9"/><stop offset="0.24" stop-color="#f4f7f9"/><stop offset="0.32" stop-color="#f4f7f9"/><stop offset="0.40" stop-color="#f4f7f9"/><stop offset="0.48" stop-color="#f4f7f9"/><stop offset="0.56" stop-color="#f4f7f9"/><stop offset="0.64" stop-color="#f4f7f9"/><stop offset="0.72" stop-color="#f4f7f9"/><stop offset="0.80" stop-color="#f4f7f9"/><stop offset="0.88" stop-color="#f4f7f9"/><stop offset="0.96" stop-color="#f4f7f9"/><stop offset="1.00" stop-color="#f4f7f9"/></linearGradient>
<path d="M628 312l-2.7 .2 -2.7 .1 -2.7 .2 -2.7 .2 -2.7 .2 -2.7 .2 -2.8 .3 -2.7 .3 -2.7 .4 -2.7 .4 -2.7 .4 -2.8 .4 -2.7 .4 .3 .5 2.7-.4 2.8-.5 2.7-.4 2.7-.5 2.7-.4 2.7-.3 2.8-.3 2.7-.2 2.7-.2 2.7-.2 2.7-.1 2.7-.1 2.7-.1z" fill="url(#s205_21)"/>
<linearGradient id="s205_22" gradientUnits="userSpaceOnUse" x1="591.1" y1="0" x2="630.5" y2="0"><stop offset="0.00" stop-color="#f4f7f9"/><stop offset="0.10" stop-color="#f4f7f9"/><stop offset="0.21" stop-color="#f4f7f9"/><stop offset="0.31" stop-color="#f4f7f9"/><stop offset="0.41" stop-color="#f4f7f9"/><stop offset="0.52" stop-color="#f4f7fa"/><stop offset="0.62" stop-color="#f4f7fa"/><stop offset="0.72" stop-color="#f4f7f9"/><stop offset="0.83" stop-color="#f4f7f9"/><stop offset="0.93" stop-color="#f4f7f9"/><stop offset="1.00" stop-color="#f4f7f9"/></linearGradient>
<path d="M631 312.3l-2.7 .2 -2.7 .1 -2.7 .1 -2.7 .1 -2.7 .2 -2.7 .2 -2.7 .2 -2.8 .3 -2.7 .3 -2.7 .4 -2.7 .5 -2.7 .4 -2.8 .5 -2.7 .4 -2.7 .5 .3 .5 2.7-.5 2.7-.5 2.8-.5 2.7-.5 2.7-.5 2.7-.4 2.7-.4 2.8-.3 2.7-.2 2.7-.2 2.7-.1 2.7 0 2.7-.1 2.7-.1 2.8-.1z" fill="url(#s205_22)"/>
<linearGradient id="s205_23" gradientUnits="userSpaceOnUse" x1="588.7" y1="0" x2="633.5" y2="0"><stop offset="0.00" stop-color="#f4f7f9"/><stop offset="0.09" stop-color="#f4f7f9"/><stop offset="0.18" stop-color="#f4f7f9"/><stop offset="0.27" stop-color="#f4f7fa"/><stop offset="0.36" stop-color="#f3f6fa"/><stop offset="0.46" stop-color="#f3f6fa"/><stop offset="0.55" stop-color="#f3f6fa"/><stop offset="0.64" stop-color="#f3f6fa"/><stop offset="0.73" stop-color="#f4f7fa"/><stop offset="0.82" stop-color="#f4f7f9"/><stop offset="0.91" stop-color="#f4f7f9"/><stop offset="1.00" stop-color="#f4f7f9"/><stop offset="1.00" stop-color="#f4f7f9"/></linearGradient>
<path d="M634.1 312.7l-2.7 .1 -2.8 .1 -2.7 .1 -2.7 .1 -2.7 0 -2.7 .1 -2.7 .2 -2.7 .2 -2.8 .3 -2.7 .4 -2.7 .4 -2.7 .5 -2.7 .5 -2.8 .5 -2.7 .5 -2.7 .5 -2.7 .4 .3 .5 2.7-.5 2.7-.5 2.7-.6 2.7-.6 2.8-.5 2.7-.6 2.7-.4 2.7-.4 2.8-.3 2.7-.2 2.7-.1 2.7-.1 2.7 0 2.8 0 2.7 0 2.7 0 2.7-.1z" fill="url(#s205_23)"/>
<linearGradient id="s205_24" gradientUnits="userSpaceOnUse" x1="587.6" y1="0" x2="635.2" y2="0"><stop offset="0.00" stop-color="#f4f7f9"/><stop offset="0.09" stop-color="#f4f7f9"/><stop offset="0.17" stop-color="#f4f7f9"/><stop offset="0.26" stop-color="#f3f6fa"/><stop offset="0.34" stop-color="#f3f6fa"/><stop offset="0.43" stop-color="#f2f6fa"/><stop offset="0.52" stop-color="#f2f6fa"/><stop offset="0.60" stop-color="#f3f6fa"/><stop offset="0.69" stop-color="#f3f6fa"/><stop offset="0.77" stop-color="#f4f7fa"/><stop offset="0.86" stop-color="#f4f7f9"/><stop offset="0.94" stop-color="#f4f7f9"/><stop offset="1.00" stop-color="#f4f7f9"/></linearGradient>
<path d="M635.7 313.2l-2.7 .1 -2.7 0 -2.7 0 -2.7 0 -2.7 0 -2.7 .1 -2.8 0 -2.7 .2 -2.7 .2 -2.7 .4 -2.7 .4 -2.8 .5 -2.7 .5 -2.7 .6 -2.7 .6 -2.8 .6 -2.7 .5 -2.7 .5 .3 .5 2.7-.6 2.7-.6 2.8-.6 2.7-.7 2.7-.6 2.7-.6 2.8-.6 2.7-.5 2.7-.3 2.7-.3 2.8-.1 2.7 0 2.7 .1 2.7 0 2.7 .1 2.7 .1 2.8 0 2.7 0z" fill="url(#s205_24)"/>
<linearGradient id="s205_25" gradientUnits="userSpaceOnUse" x1="585.2" y1="0" x2="638.3" y2="0"><stop offset="0.00" stop-color="#f4f7f9"/><stop offset="0.10" stop-color="#f4f7f9"/><stop offset="0.21" stop-color="#f3f6fa"/><stop offset="0.31" stop-color="#f2f6fa"/><stop offset="0.41" stop-color="#f1f6fa"/><stop offset="0.51" stop-color="#f1f5fa"/><stop offset="0.62" stop-color="#f2f6fa"/><stop offset="0.72" stop-color="#f3f6fa"/><stop offset="0.82" stop-color="#f4f7fa"/><stop offset="0.92" stop-color="#f4f7f9"/><stop offset="1.00" stop-color="#f4f7f9"/></linearGradient>
<path d="M638.8 313.6l-2.7 .1 -2.7 0 -2.8 0 -2.7-.1 -2.7-.1 -2.7 0 -2.7-.1 -2.7 0 -2.8 .1 -2.7 .3 -2.7 .3 -2.7 .5 -2.8 .6 -2.7 .6 -2.7 .6 -2.7 .7 -2.8 .6 -2.7 .6 -2.7 .6 -2.8 .5 .3 .5 2.8-.5 2.7-.7 2.7-.6 2.7-.8 2.8-.7 2.7-.8 2.7-.7 2.7-.6 2.8-.6 2.7-.3 2.7-.2 2.8-.1 2.7 0 2.7 .2 2.7 .2 2.8 .2 2.7 .1 2.7 .1 2.7 0 2.7 0z" fill="url(#s205_25)"/>
<linearGradient id="s205_26" gradientUnits="userSpaceOnUse" x1="584.1" y1="0" x2="639.9" y2="0"><stop offset="0.00" stop-color="#f4f7f9"/><stop offset="0.10" stop-color="#f4f7f9"/><stop offset="0.20" stop-color="#f3f6fa"/><stop offset="0.29" stop-color="#f2f6fa"/><stop offset="0.39" stop-color="#f0f5f9"/><stop offset="0.49" stop-color="#eff5f9"/><stop offset="0.59" stop-color="#f0f5f9"/><stop offset="0.68" stop-color="#f1f6fa"/><stop offset="0.78" stop-color="#f3f6fa"/><stop offset="0.88" stop-color="#f4f7f9"/><stop offset="0.98" stop-color="#f4f7f9"/><stop offset="1.00" stop-color="#f4f7f9"/></linearGradient>
<path d="M640.4 314.1l-2.7 0 -2.7 0 -2.7 0 -2.7-.2 -2.7-.1 -2.7-.2 -2.7-.2 -2.8-.1 -2.7 0 -2.7 .1 -2.8 .3 -2.7 .5 -2.7 .6 -2.7 .6 -2.8 .8 -2.7 .8 -2.7 .7 -2.7 .7 -2.8 .7 -2.7 .5 -2.7 .6 .3 .5 2.7-.6 2.7-.6 2.7-.8 2.8-.8 2.7-.9 2.7-.9 2.7-.8 2.8-.8 2.7-.7 2.7-.4 2.8-.3 2.7-.1 2.7 0 2.8 .2 2.7 .3 2.7 .3 2.7 .3 2.7 .3 2.8 .1 2.7 .1 2.7 0z" fill="url(#s205_26)"/>
<linearGradient id="s205_27" gradientUnits="userSpaceOnUse" x1="583.0" y1="0" x2="641.6" y2="0"><stop offset="0.00" stop-color="#f4f7f9"/><stop offset="0.09" stop-color="#f4f7f9"/><stop offset="0.19" stop-color="#f3f6fa"/><stop offset="0.28" stop-color="#f1f5fa"/><stop offset="0.37" stop-color="#eef4f9"/><stop offset="0.47" stop-color="#edf3f9"/><stop offset="0.56" stop-color="#edf3f9"/><stop offset="0.65" stop-color="#eff4f9"/><stop offset="0.75" stop-color="#f1f6fa"/><stop offset="0.84" stop-color="#f3f6fa"/><stop offset="0.93" stop-color="#f4f7f9"/><stop offset="1.00" stop-color="#f4f7f9"/></linearGradient>
<path d="M642.1 314.6l-2.7 0 -2.7 0 -2.7-.1 -2.7-.2 -2.7-.3 -2.7-.3 -2.8-.3 -2.7-.3 -2.7-.1 -2.8 0 -2.7 .2 -2.7 .4 -2.8 .5 -2.7 .8 -2.7 .8 -2.7 .9 -2.8 .9 -2.7 .8 -2.7 .8 -2.7 .7 -2.8 .6 -2.7 .5 .3 .6 2.7-.6 2.7-.7 2.8-.8 2.7-.9 2.7-1 2.7-1 2.8-1.1 2.7-.9 2.7-.9 2.8-.6 2.7-.4 2.7-.2 2.8 .1 2.7 .2 2.8 .4 2.7 .5 2.7 .4 2.7 .4 2.7 .3 2.7 .3 2.7 .1 2.8 0z" fill="url(#s205_27)"/>
<linearGradient id="s205_28" gradientUnits="userSpaceOnUse" x1="581.9" y1="0" x2="643.3" y2="0"><stop offset="0.00" stop-color="#f4f7f9"/><stop offset="0.09" stop-color="#f4f7f9"/><stop offset="0.18" stop-color="#f3f6fa"/><stop offset="0.27" stop-color="#f0f5f9"/><stop offset="0.36" stop-color="#edf3f9"/><stop offset="0.44" stop-color="#eaf1f8"/><stop offset="0.53" stop-color="#eaf1f8"/><stop offset="0.62" stop-color="#ecf3f9"/><stop offset="0.71" stop-color="#eff5f9"/><stop offset="0.80" stop-color="#f2f6fa"/><stop offset="0.89" stop-color="#f4f7fa"/><stop offset="0.98" stop-color="#f4f7f9"/><stop offset="1.00" stop-color="#f4f7f9"/></linearGradient>
<path d="M643.8 315.1l-2.7 0 -2.7-.1 -2.7-.1 -2.7-.3 -2.7-.4 -2.8-.4 -2.7-.5 -2.7-.4 -2.7-.3 -2.8-.2 -2.7 .1 -2.8 .3 -2.7 .5 -2.7 .7 -2.8 .9 -2.7 1.1 -2.7 1 -2.7 1 -2.8 1 -2.7 .8 -2.7 .8 -2.8 .6 -2.7 .5 .3 .6 2.7-.6 2.8-.7 2.7-.9 2.7-1 2.7-1.1 2.8-1.2 2.7-1.2 2.7-1.2 2.8-1 2.7-.9 2.7-.6 2.8-.2 2.7 0 2.8 .2 2.7 .5 2.7 .6 2.8 .6 2.7 .6 2.7 .6 2.7 .4 2.7 .2 2.7 .2 2.7 0z" fill="url(#s205_28)"/>
<linearGradient id="s205_29" gradientUnits="userSpaceOnUse" x1="580.9" y1="0" x2="645.0" y2="0"><stop offset="0.00" stop-color="#f4f7f9"/><stop offset="0.09" stop-color="#f4f7f9"/><stop offset="0.17" stop-color="#f3f6fa"/><stop offset="0.26" stop-color="#eff5f9"/><stop offset="0.34" stop-color="#ebf2f9"/><stop offset="0.43" stop-color="#e6eff8"/><stop offset="0.51" stop-color="#e4eef7"/><stop offset="0.60" stop-color="#e7f0f8"/><stop offset="0.68" stop-color="#ecf3f9"/><stop offset="0.77" stop-color="#f1f5fa"/><stop offset="0.85" stop-color="#f3f6fa"/><stop offset="0.94" stop-color="#f4f7f9"/><stop offset="1.00" stop-color="#f4f7f9"/></linearGradient>
<path d="M645.5 315.6l-2.7 0 -2.7-.1 -2.7-.2 -2.7-.3 -2.8-.5 -2.7-.6 -2.7-.6 -2.7-.6 -2.8-.6 -2.7-.3 -2.8-.2 -2.7 .2 -2.7 .4 -2.8 .7 -2.7 1 -2.7 1.1 -2.8 1.2 -2.7 1.2 -2.7 1.2 -2.7 1 -2.8 .9 -2.7 .8 -2.7 .7 -2.8 .6 .3 .5 2.7-.6 2.8-.8 2.7-.8 2.7-1.1 2.8-1.2 2.7-1.4 2.7-1.4 2.7-1.4 2.8-1.3 2.7-1.1 2.8-.8 2.7-.5 2.8-.1 2.7 .2 2.7 .5 2.8 .8 2.7 .8 2.7 .8 2.8 .8 2.7 .6 2.7 .5 2.7 .3 2.7 .2 2.7 0z" fill="url(#s205_29)"/>
<linearGradient id="s205_30" gradientUnits="userSpaceOnUse" x1="579.8" y1="0" x2="646.7" y2="0"><stop offset="0.00" stop-color="#f4f7f9"/><stop offset="0.08" stop-color="#f4f7f9"/><stop offset="0.16" stop-color="#f2f6fa"/><stop offset="0.24" stop-color="#eef4f9"/><stop offset="0.33" stop-color="#e8f0f8"/><stop offset="0.41" stop-color="#e2ecf7"/><stop offset="0.49" stop-color="#dfebf6"/><stop offset="0.57" stop-color="#e0ecf6"/><stop offset="0.65" stop-color="#e7f0f8"/><stop offset="0.74" stop-color="#edf3f9"/><stop offset="0.82" stop-color="#f2f6fa"/><stop offset="0.90" stop-color="#f4f7f9"/><stop offset="0.98" stop-color="#f4f7f9"/><stop offset="1.00" stop-color="#f4f7f9"/></linearGradient>
<path d="M647.2 316.1l-2.7 0 -2.7-.1 -2.7-.2 -2.8-.4 -2.7-.6 -2.7-.7 -2.7-.8 -2.7-.8 -2.8-.8 -2.7-.7 -2.8-.3 -2.7-.1 -2.8 .3 -2.7 .6 -2.8 1 -2.7 1.2 -2.7 1.4 -2.8 1.4 -2.7 1.4 -2.7 1.3 -2.7 1.1 -2.8 1 -2.7 .8 -2.7 .7 -2.8 .6 .3 .5 2.8-.6 2.7-.7 2.7-1 2.8-1.1 2.7-1.3 2.7-1.5 2.7-1.6 2.7-1.7 2.8-1.6 2.7-1.4 2.8-1.1 2.7-.8 2.8-.3 2.7 .2 2.8 .5 2.7 .9 2.8 1 2.7 1.1 2.7 1 2.8 .9 2.7 .7 2.7 .6 2.7 .3 2.7 .2 2.7 0z" fill="url(#s205_30)"/>
<linearGradient id="s205_31" gradientUnits="userSpaceOnUse" x1="580.1" y1="0" x2="647.0" y2="0"><stop offset="0.00" stop-color="#f4f7f9"/><stop offset="0.08" stop-color="#f4f7f9"/><stop offset="0.16" stop-color="#f1f6fa"/><stop offset="0.24" stop-color="#ecf3f9"/><stop offset="0.33" stop-color="#e4eef7"/><stop offset="0.41" stop-color="#dbe8f5"/><stop offset="0.49" stop-color="#d7e6f4"/><stop offset="0.57" stop-color="#d9e7f4"/><stop offset="0.65" stop-color="#e1ecf7"/><stop offset="0.74" stop-color="#eaf2f9"/><stop offset="0.82" stop-color="#f1f5fa"/><stop offset="0.90" stop-color="#f3f6fa"/><stop offset="0.98" stop-color="#f4f7f9"/><stop offset="1.00" stop-color="#f4f7f9"/></linearGradient>
<path d="M647.5 316.6l-2.7 0 -2.7-.2 -2.7-.3 -2.7-.6 -2.7-.7 -2.8-.9 -2.7-1 -2.7-1.1 -2.8-1 -2.7-.9 -2.8-.5 -2.7-.2 -2.8 .3 -2.7 .8 -2.8 1.1 -2.7 1.4 -2.8 1.6 -2.7 1.7 -2.7 1.6 -2.7 1.5 -2.7 1.3 -2.8 1.1 -2.7 1 -2.7 .7 -2.8 .6 .3 .6 2.8-.7 2.7-.8 2.7-1.1 2.7-1.3 2.8-1.5 2.7-1.7 2.7-1.9 2.7-2 2.8-1.8 2.7-1.7 2.8-1.3 2.7-.8 2.8-.3 2.7 .2 2.8 .7 2.8 1.1 2.7 1.3 2.7 1.4 2.8 1.3 2.7 1.1 2.7 .9 2.7 .7 2.7 .5 2.7 .3 2.7 .1z" fill="url(#s205_31)"/>
<linearGradient id="s205_32" gradientUnits="userSpaceOnUse" x1="579.0" y1="0" x2="648.7" y2="0"><stop offset="0.00" stop-color="#f4f7f9"/><stop offset="0.08" stop-color="#f4f7fa"/><stop offset="0.16" stop-color="#f1f6fa"/><stop offset="0.23" stop-color="#ebf2f9"/><stop offset="0.31" stop-color="#e1ecf7"/><stop offset="0.39" stop-color="#d5e5f3"/><stop offset="0.47" stop-color="#cee0f1"/><stop offset="0.55" stop-color="#cfe1f2"/><stop offset="0.63" stop-color="#d8e6f4"/><stop offset="0.71" stop-color="#e4eef7"/><stop offset="0.79" stop-color="#edf3f9"/><stop offset="0.86" stop-color="#f2f6fa"/><stop offset="0.94" stop-color="#f4f7f9"/><stop offset="1.00" stop-color="#f4f7f9"/></linearGradient>
<path d="M649.2 317.2l-2.7-.1 -2.7-.1 -2.7-.4 -2.7-.6 -2.8-.8 -2.7-1 -2.7-1.3 -2.7-1.3 -2.8-1.4 -2.7-1.2 -2.8-.9 -2.7-.4 -2.8 0 -2.8 .5 -2.7 1.1 -2.8 1.5 -2.7 1.8 -2.7 1.9 -2.8 1.9 -2.7 1.8 -2.7 1.7 -2.7 1.4 -2.7 1.2 -2.8 .9 -2.7 .8 -2.8 .6 .3 .5 2.8-.6 2.7-.9 2.7-1.1 2.8-1.3 2.7-1.6 2.7-1.9 2.7-2.1 2.7-2.2 2.8-2.3 2.7-2 2.8-1.7 2.7-1.3 2.8-.6 2.8 .1 2.7 .6 2.8 1.1 2.8 1.5 2.7 1.6 2.7 1.7 2.8 1.5 2.7 1.3 2.7 1 2.7 .8 2.7 .5 2.7 .2 2.7 .1z" fill="url(#s205_32)"/>
<linearGradient id="s205_33" gradientUnits="userSpaceOnUse" x1="577.9" y1="0" x2="650.4" y2="0"><stop offset="0.00" stop-color="#f4f7f9"/><stop offset="0.09" stop-color="#f4f7fa"/><stop offset="0.19" stop-color="#eff4f9"/><stop offset="0.28" stop-color="#e2edf7"/><stop offset="0.38" stop-color="#d0e1f2"/><stop offset="0.47" stop-color="#c4daee"/><stop offset="0.57" stop-color="#c7dcef"/><stop offset="0.66" stop-color="#d7e6f4"/><stop offset="0.76" stop-color="#e8f1f8"/><stop offset="0.85" stop-color="#f1f6fa"/><stop offset="0.94" stop-color="#f4f7f9"/><stop offset="1.00" stop-color="#f4f7f9"/></linearGradient>
<path d="M650.9 317.7l-2.7 0 -2.7-.2 -2.7-.3 -2.7-.6 -2.8-.9 -2.7-1.2 -2.7-1.4 -2.7-1.6 -2.8-1.7 -2.7-1.6 -2.8-1.3 -2.8-.9 -2.7-.3 -2.8 .3 -2.8 .9 -2.7 1.5 -2.8 1.9 -2.7 2.1 -2.7 2.3 -2.7 2.2 -2.8 2 -2.7 1.7 -2.7 1.5 -2.7 1.2 -2.8 1 -2.7 .7 -2.7 .6 .2 .6 2.8-.7 2.7-.8 2.8-1.1 2.7-1.3 2.7-1.7 2.7-2 2.7-2.3 2.7-2.5 2.8-2.6 2.7-2.6 2.8-2.2 2.7-1.7 2.8-1 2.8-.3 2.8 .5 2.7 1.1 2.8 1.6 2.8 1.9 2.7 2 2.7 2 2.8 1.7 2.7 1.4 2.7 1.1 2.7 .8 2.7 .5 2.7 .2 2.7 .1z" fill="url(#s205_33)"/>
<linearGradient id="s205_34" gradientUnits="userSpaceOnUse" x1="578.2" y1="0" x2="650.7" y2="0"><stop offset="0.00" stop-color="#f4f7f9"/><stop offset="0.09" stop-color="#f3f6fa"/><stop offset="0.19" stop-color="#edf3f9"/><stop offset="0.28" stop-color="#ddeaf5"/><stop offset="0.38" stop-color="#c7dcef"/><stop offset="0.47" stop-color="#b7d4ea"/><stop offset="0.57" stop-color="#bcd7eb"/><stop offset="0.66" stop-color="#cfe1f2"/><stop offset="0.76" stop-color="#e5eff7"/><stop offset="0.85" stop-color="#f1f5fa"/><stop offset="0.94" stop-color="#f4f7f9"/><stop offset="1.00" stop-color="#f4f7f9"/></linearGradient>
<path d="M651.2 318.3l-2.7-.1 -2.7-.2 -2.7-.5 -2.7-.8 -2.7-1.1 -2.7-1.4 -2.8-1.7 -2.7-2 -2.7-2 -2.8-1.9 -2.8-1.6 -2.7-1.1 -2.8-.5 -2.8 .3 -2.8 1 -2.7 1.7 -2.8 2.2 -2.7 2.6 -2.8 2.6 -2.7 2.5 -2.7 2.3 -2.7 2 -2.7 1.7 -2.7 1.3 -2.8 1.1 -2.7 .8 -2.8 .7 .3 .6 2.8-.7 2.7-1 2.7-1.2 2.8-1.5 2.7-1.9 2.7-2.3 2.7-2.6 2.7-2.9 2.7-3 2.8-2.9 2.7-2.5 2.8-2 2.8-1.1 2.8-.3 2.8 .6 2.7 1.3 2.8 1.9 2.8 2.3 2.7 2.4 2.8 2.3 2.7 2.1 2.7 1.7 2.7 1.3 2.7 1 2.7 .6 2.7 .3 2.8 .1z" fill="url(#s205_34)"/>
<linearGradient id="s205_35" gradientUnits="userSpaceOnUse" x1="577.1" y1="0" x2="652.4" y2="0"><stop offset="0.00" stop-color="#f4f7f9"/><stop offset="0.09" stop-color="#f3f6fa"/><stop offset="0.18" stop-color="#edf3f9"/><stop offset="0.27" stop-color="#dce9f5"/><stop offset="0.36" stop-color="#c2d9ee"/><stop offset="0.45" stop-color="#aacfe5"/><stop offset="0.55" stop-color="#aacfe5"/><stop offset="0.64" stop-color="#c2d9ee"/><stop offset="0.73" stop-color="#dce9f5"/><stop offset="0.82" stop-color="#edf3f9"/><stop offset="0.91" stop-color="#f3f6fa"/><stop offset="1.00" stop-color="#f4f7f9"/><stop offset="1.00" stop-color="#f4f7f9"/></linearGradient>
<path d="M652.9 318.8l-2.7 0 -2.7-.2 -2.7-.5 -2.7-.8 -2.7-1.1 -2.7-1.5 -2.8-1.9 -2.7-2.2 -2.7-2.4 -2.8-2.3 -2.8-2.2 -2.7-1.7 -2.8-.9 -2.8-.2 -2.8 .7 -2.8 1.6 -2.7 2.3 -2.8 2.7 -2.7 3 -2.7 2.9 -2.8 2.8 -2.7 2.5 -2.7 2.1 -2.7 1.7 -2.7 1.4 -2.8 1 -2.7 .8 -2.7 .7 .2 .5 2.8-.6 2.7-.9 2.8-1.2 2.7-1.5 2.7-1.9 2.7-2.4 2.7-2.8 2.7-3.2 2.7-3.4 2.8-3.4 2.7-3.1 2.8-2.6 2.8-1.7 2.8-.8 2.8 .2 2.8 1.2 2.8 2 2.7 2.5 2.8 2.8 2.7 2.8 2.8 2.6 2.7 2.2 2.7 1.8 2.7 1.3 2.7 .9 2.7 .6 2.7 .3 2.7 .1z" fill="url(#s205_35)"/>
<linearGradient id="s205_36" gradientUnits="userSpaceOnUse" x1="577.4" y1="0" x2="652.7" y2="0"><stop offset="0.00" stop-color="#f4f7f9"/><stop offset="0.09" stop-color="#f3f6fa"/><stop offset="0.18" stop-color="#ebf2f9"/><stop offset="0.27" stop-color="#d6e5f4"/><stop offset="0.36" stop-color="#b5d4e9"/><stop offset="0.45" stop-color="#99c7e0"/><stop offset="0.55" stop-color="#99c7e0"/><stop offset="0.64" stop-color="#b5d4e9"/><stop offset="0.73" stop-color="#d6e5f4"/><stop offset="0.82" stop-color="#ebf2f9"/><stop offset="0.91" stop-color="#f3f6fa"/><stop offset="1.00" stop-color="#f4f7f9"/><stop offset="1.00" stop-color="#f4f7f9"/></linearGradient>
<path d="M653.2 319.4l-2.7-.1 -2.7-.3 -2.7-.6 -2.7-.9 -2.7-1.3 -2.7-1.8 -2.7-2.2 -2.8-2.6 -2.7-2.8 -2.8-2.8 -2.7-2.5 -2.8-2 -2.8-1.2 -2.8-.2 -2.8 .8 -2.8 1.7 -2.8 2.6 -2.7 3.1 -2.8 3.4 -2.7 3.4 -2.7 3.2 -2.7 2.8 -2.7 2.4 -2.7 1.9 -2.7 1.5 -2.8 1.2 -2.7 .9 -2.8 .6 .3 .6 2.8-.7 2.7-1 2.7-1.3 2.8-1.7 2.7-2.1 2.7-2.7 2.7-3.2 2.7-3.6 2.7-3.8 2.7-3.8 2.8-3.6 2.8-2.9 2.8-2 2.8-.8 2.8 .3 2.8 1.4 2.8 2.3 2.8 2.9 2.7 3.3 2.8 3.2 2.7 3 2.7 2.6 2.7 2.1 2.8 1.6 2.7 1.1 2.7 .7 2.7 .3 2.7 .2z" fill="url(#s205_36)"/>
<linearGradient id="s205_37" gradientUnits="userSpaceOnUse" x1="576.3" y1="0" x2="654.4" y2="0"><stop offset="0.00" stop-color="#f4f7f9"/><stop offset="0.09" stop-color="#f3f6fa"/><stop offset="0.17" stop-color="#ecf3f9"/><stop offset="0.26" stop-color="#d6e5f4"/><stop offset="0.35" stop-color="#b0d2e7"/><stop offset="0.44" stop-color="#89bedc"/><stop offset="0.53" stop-color="#81badb"/><stop offset="0.62" stop-color="#a0cbe2"/><stop offset="0.70" stop-color="#c9ddf0"/><stop offset="0.79" stop-color="#e6eff8"/><stop offset="0.88" stop-color="#f2f6fa"/><stop offset="0.97" stop-color="#f4f7f9"/><stop offset="1.00" stop-color="#f4f7f9"/></linearGradient>
<path d="M654.9 320l-2.7-.1 -2.7-.2 -2.7-.5 -2.7-.9 -2.7-1.4 -2.7-1.8 -2.7-2.3 -2.7-2.8 -2.8-3.2 -2.7-3.3 -2.8-3.1 -2.8-2.7 -2.8-1.9 -2.8-.8 -2.8 .3 -2.8 1.4 -2.8 2.5 -2.8 3.2 -2.7 3.8 -2.8 3.8 -2.7 3.8 -2.7 3.4 -2.7 2.9 -2.7 2.4 -2.7 1.9 -2.7 1.5 -2.8 1.1 -2.7 .9 -2.7 .6 .2 .6 2.8-.7 2.7-.9 2.8-1.2 2.7-1.6 2.7-2.2 2.7-2.7 2.7-3.3 2.7-3.8 2.7-4.2 2.7-4.3 2.8-4.2 2.7-3.7 2.8-2.7 2.8-1.6 2.9-.3 2.8 1 2.8 2.2 2.8 3.1 2.8 3.5 2.8 3.8 2.7 3.6 2.7 3.2 2.7 2.7 2.7 2.1 2.7 1.6 2.8 1 2.7 .7 2.7 .3 2.7 .1z" fill="url(#s205_37)"/>
<linearGradient id="s205_38" gradientUnits="userSpaceOnUse" x1="576.6" y1="0" x2="654.8" y2="0"><stop offset="0.00" stop-color="#f4f7f9"/><stop offset="0.09" stop-color="#f3f6fa"/><stop offset="0.17" stop-color="#eaf2f9"/><stop offset="0.26" stop-color="#d0e1f2"/><stop offset="0.35" stop-color="#a4cce3"/><stop offset="0.44" stop-color="#74b3d8"/><stop offset="0.53" stop-color="#6aaed6"/><stop offset="0.62" stop-color="#8fc2de"/><stop offset="0.71" stop-color="#c1d9ed"/><stop offset="0.79" stop-color="#e2edf7"/><stop offset="0.88" stop-color="#f1f5fa"/><stop offset="0.97" stop-color="#f4f7f9"/><stop offset="1.00" stop-color="#f4f7f9"/></linearGradient>
<path d="M655.3 320.6l-2.7-.1 -2.7-.3 -2.7-.7 -2.8-1 -2.7-1.6 -2.7-2.1 -2.7-2.7 -2.7-3.2 -2.7-3.6 -2.8-3.8 -2.8-3.5 -2.8-3.1 -2.8-2.2 -2.8-1 -2.9 .3 -2.8 1.6 -2.8 2.7 -2.7 3.7 -2.8 4.2 -2.7 4.3 -2.7 4.2 -2.7 3.8 -2.7 3.3 -2.7 2.7 -2.7 2.2 -2.7 1.6 -2.8 1.2 -2.7 .9 -2.8 .7 .3 .6 2.8-.7 2.7-1 2.7-1.3 2.8-1.8 2.7-2.4 2.7-3 2.7-3.6 2.7-4.3 2.7-4.6 2.7-4.9 2.7-4.7 2.8-4 2.8-3.1 2.8-1.8 2.9-.3 2.8 1.2 2.8 2.5 2.8 3.5 2.8 4.1 2.8 4.2 2.7 4.1 2.8 3.7 2.7 3 2.7 2.4 2.7 1.8 2.7 1.2 2.7 .7 2.7 .4 2.7 .2z" fill="url(#s205_38)"/>
<linearGradient id="s205_39" gradientUnits="userSpaceOnUse" x1="575.5" y1="0" x2="656.5" y2="0"><stop offset="0.00" stop-color="#f4f7f9"/><stop offset="0.08" stop-color="#f3f6fa"/><stop offset="0.17" stop-color="#ecf3f9"/><stop offset="0.25" stop-color="#d1e2f2"/><stop offset="0.34" stop-color="#a1cbe2"/><stop offset="0.42" stop-color="#66abd4"/><stop offset="0.51" stop-color="#56a0ce"/><stop offset="0.60" stop-color="#6fb0d7"/><stop offset="0.68" stop-color="#add0e6"/><stop offset="0.77" stop-color="#d8e7f4"/><stop offset="0.85" stop-color="#eef4f9"/><stop offset="0.93" stop-color="#f4f7f9"/><stop offset="1.00" stop-color="#f4f7f9"/></linearGradient>
<path d="M657 321.2l-2.7-.1 -2.7-.2 -2.8-.6 -2.7-1 -2.7-1.4 -2.7-2.1 -2.7-2.7 -2.7-3.4 -2.7-3.9 -2.8-4.2 -2.8-4.2 -2.8-3.9 -2.8-3 -2.8-1.9 -2.8-.4 -2.9 1 -2.8 2.5 -2.8 3.6 -2.7 4.4 -2.8 4.8 -2.7 4.8 -2.7 4.5 -2.7 4 -2.7 3.3 -2.7 2.7 -2.7 2 -2.7 1.6 -2.8 1.1 -2.7 .9 -2.8 .6 .3 .6 2.8-.6 2.7-1 2.8-1.2 2.7-1.7 2.7-2.2 2.7-3 2.7-3.6 2.7-4.4 2.7-4.9 2.7-5.3 2.7-5.4 2.8-4.9 2.8-4 2.8-2.7 2.9-1.1 2.8 .5 2.8 2.2 2.9 3.4 2.8 4.3 2.8 4.7 2.7 4.7 2.8 4.4 2.7 3.8 2.7 3 2.7 2.3 2.7 1.7 2.7 1.1 2.7 .7 2.7 .3 2.7 .1z" fill="url(#s205_39)"/>
<linearGradient id="s205_40" gradientUnits="userSpaceOnUse" x1="575.8" y1="0" x2="656.8" y2="0"><stop offset="0.00" stop-color="#f4f7f9"/><stop offset="0.08" stop-color="#f3f6fa"/><stop offset="0.17" stop-color="#eaf1f8"/><stop offset="0.25" stop-color="#ccdff1"/><stop offset="0.34" stop-color="#94c4df"/><stop offset="0.42" stop-color="#56a0ce"/><stop offset="0.51" stop-color="#4292c6"/><stop offset="0.60" stop-color="#5fa6d1"/><stop offset="0.68" stop-color="#a1cbe2"/><stop offset="0.77" stop-color="#d4e4f3"/><stop offset="0.85" stop-color="#edf3f9"/><stop offset="0.93" stop-color="#f4f7fa"/><stop offset="1.00" stop-color="#f4f7f9"/></linearGradient>
<path d="M657.3 321.8l-2.7-.1 -2.7-.3 -2.7-.7 -2.7-1.1 -2.7-1.7 -2.7-2.3 -2.7-3 -2.7-3.8 -2.8-4.4 -2.7-4.7 -2.8-4.7 -2.8-4.3 -2.9-3.4 -2.8-2.2 -2.8-.5 -2.9 1.1 -2.8 2.7 -2.8 4 -2.8 4.9 -2.7 5.4 -2.7 5.3 -2.7 4.9 -2.7 4.4 -2.7 3.6 -2.7 3 -2.7 2.2 -2.7 1.7 -2.8 1.2 -2.7 1 -2.8 .6 .3 .7 2.8-.8 2.7-.9 2.8-1.4 2.7-1.8 2.7-2.5 2.7-3.1 2.7-4 2.7-4.8 2.7-5.4 2.7-5.8 2.7-5.8 2.8-5.4 2.8-4.4 2.8-3 2.9-1.2 2.8 .6 2.9 2.4 2.8 3.8 2.8 4.8 2.8 5.2 2.8 5.3 2.7 4.8 2.7 4.2 2.7 3.3 2.7 2.6 2.7 1.9 2.7 1.2 2.7 .8 2.7 .4 2.8 .1z" fill="url(#s205_40)"/>
<linearGradient id="s205_41" gradientUnits="userSpaceOnUse" x1="576.1" y1="0" x2="657.2" y2="0"><stop offset="0.00" stop-color="#f4f7f9"/><stop offset="0.08" stop-color="#f3f6fa"/><stop offset="0.17" stop-color="#e8f0f8"/><stop offset="0.25" stop-color="#c7dcef"/><stop offset="0.33" stop-color="#84bcdb"/><stop offset="0.42" stop-color="#4594c7"/><stop offset="0.51" stop-color="#3383be"/><stop offset="0.60" stop-color="#4e9acb"/><stop offset="0.68" stop-color="#95c5df"/><stop offset="0.77" stop-color="#cfe1f2"/><stop offset="0.85" stop-color="#ecf3f9"/><stop offset="0.93" stop-color="#f3f6fa"/><stop offset="1.00" stop-color="#f4f7f9"/></linearGradient>
<path d="M657.7 322.4l-2.8-.1 -2.7-.4 -2.7-.8 -2.7-1.2 -2.7-1.9 -2.7-2.6 -2.7-3.3 -2.7-4.2 -2.7-4.8 -2.8-5.3 -2.8-5.2 -2.8-4.8 -2.8-3.8 -2.9-2.4 -2.8-.6 -2.9 1.2 -2.8 3 -2.8 4.4 -2.8 5.4 -2.7 5.8 -2.7 5.8 -2.7 5.4 -2.7 4.8 -2.7 4 -2.7 3.1 -2.7 2.5 -2.7 1.8 -2.8 1.4 -2.7 .9 -2.8 .8 .3 .6 2.8-.8 2.7-1 2.7-1.4 2.8-2 2.7-2.6 2.7-3.5 2.7-4.3 2.6-5.1 2.7-5.9 2.7-6.3 2.8-6.4 2.8-5.8 2.8-4.8 2.8-3.2 2.9-1.4 2.8 .8 2.9 2.6 2.8 4.2 2.9 5.3 2.8 5.7 2.7 5.7 2.7 5.3 2.8 4.6 2.7 3.7 2.7 2.8 2.7 2.1 2.7 1.3 2.7 .9 2.7 .4 2.7 .2z" fill="url(#s205_41)"/>
<linearGradient id="s205_42" gradientUnits="userSpaceOnUse" x1="575.0" y1="0" x2="658.9" y2="0"><stop offset="0.00" stop-color="#f4f7f9"/><stop offset="0.08" stop-color="#f3f6fa"/><stop offset="0.16" stop-color="#ebf2f9"/><stop offset="0.24" stop-color="#cbdef1"/><stop offset="0.32" stop-color="#87bddc"/><stop offset="0.41" stop-color="#3f8fc5"/><stop offset="0.49" stop-color="#2474b7"/><stop offset="0.58" stop-color="#3787c0"/><stop offset="0.66" stop-color="#75b4d8"/><stop offset="0.74" stop-color="#c2d9ee"/><stop offset="0.82" stop-color="#e7f0f8"/><stop offset="0.90" stop-color="#f2f6fa"/><stop offset="0.98" stop-color="#f4f7f9"/><stop offset="1.00" stop-color="#f4f7f9"/></linearGradient>
<path d="M659.4 323l-2.8-.1 -2.7-.3 -2.7-.6 -2.7-1.1 -2.7-1.7 -2.7-2.4 -2.7-3.2 -2.7-4.2 -2.7-4.9 -2.8-5.6 -2.7-5.8 -2.8-5.6 -2.9-4.8 -2.8-3.4 -2.9-1.7 -2.9 .3 -2.8 2.3 -2.8 4 -2.8 5.4 -2.8 6.2 -2.7 6.4 -2.7 6.1 -2.7 5.5 -2.7 4.8 -2.7 3.8 -2.7 3.1 -2.7 2.2 -2.7 1.7 -2.8 1.2 -2.7 .9 -2.8 .7 .3 .6 2.8-.7 2.7-.9 2.8-1.3 2.7-1.8 2.7-2.4 2.7-3.2 2.7-4.2 2.7-5.1 2.7-5.9 2.7-6.6 2.7-6.9 2.7-6.7 2.8-5.8 2.9-4.3 2.8-2.5 2.9-.3 2.9 1.9 2.9 3.8 2.8 5.2 2.8 6 2.8 6.3 2.7 6 2.8 5.4 2.7 4.5 2.7 3.5 2.7 2.7 2.7 1.8 2.7 1.2 2.7 .7 2.7 .3 2.7 .1z" fill="url(#s205_42)"/>
<linearGradient id="s205_43" gradientUnits="userSpaceOnUse" x1="575.3" y1="0" x2="659.2" y2="0"><stop offset="0.00" stop-color="#f4f7f9"/><stop offset="0.08" stop-color="#f3f6fa"/><stop offset="0.16" stop-color="#e9f1f8"/><stop offset="0.24" stop-color="#c7dcef"/><stop offset="0.32" stop-color="#7cb7da"/><stop offset="0.41" stop-color="#3383be"/><stop offset="0.49" stop-color="#1967ad"/><stop offset="0.58" stop-color="#2b7bba"/><stop offset="0.66" stop-color="#68acd5"/><stop offset="0.74" stop-color="#bcd7eb"/><stop offset="0.82" stop-color="#e5eff7"/><stop offset="0.90" stop-color="#f2f6fa"/><stop offset="0.98" stop-color="#f4f7f9"/><stop offset="1.00" stop-color="#f4f7f9"/></linearGradient>
<path d="M659.7 323.6l-2.7-.1 -2.7-.3 -2.7-.7 -2.7-1.2 -2.7-1.8 -2.7-2.7 -2.7-3.5 -2.7-4.5 -2.8-5.4 -2.7-6 -2.8-6.3 -2.8-6 -2.8-5.2 -2.9-3.8 -2.9-1.9 -2.9 .3 -2.8 2.5 -2.9 4.3 -2.8 5.8 -2.7 6.7 -2.7 6.9 -2.7 6.6 -2.7 5.9 -2.7 5.1 -2.7 4.2 -2.7 3.2 -2.7 2.4 -2.7 1.8 -2.8 1.3 -2.7 .9 -2.8 .7 .3 .6 2.8-.7 2.7-.9 2.8-1.4 2.7-1.9 2.7-2.5 2.7-3.5 2.7-4.4 2.7-5.4 2.6-6.3 2.7-7.1 2.8-7.3 2.7-7.1 2.8-6.2 2.9-4.6 2.8-2.7 2.9-.3 2.9 2.1 2.9 4 2.8 5.6 2.9 6.5 2.7 6.8 2.8 6.4 2.7 5.8 2.7 4.8 2.7 3.8 2.7 2.8 2.7 2 2.7 1.3 2.7 .8 2.7 .3 2.7 .1z" fill="url(#s205_43)"/>
<linearGradient id="s205_44" gradientUnits="userSpaceOnUse" x1="575.5" y1="0" x2="659.5" y2="0"><stop offset="0.00" stop-color="#f4f7f9"/><stop offset="0.08" stop-color="#f3f6fa"/><stop offset="0.16" stop-color="#e8f0f8"/><stop offset="0.24" stop-color="#c3daee"/><stop offset="0.32" stop-color="#6fb0d7"/><stop offset="0.41" stop-color="#2979b9"/><stop offset="0.49" stop-color="#105ba4"/><stop offset="0.58" stop-color="#206fb4"/><stop offset="0.66" stop-color="#5fa6d1"/><stop offset="0.74" stop-color="#b7d4ea"/><stop offset="0.82" stop-color="#e3edf7"/><stop offset="0.90" stop-color="#f2f6fa"/><stop offset="0.98" stop-color="#f4f7f9"/><stop offset="1.00" stop-color="#f4f7f9"/></linearGradient>
<path d="M660 324.2l-2.7-.1 -2.7-.3 -2.7-.8 -2.7-1.3 -2.7-2 -2.7-2.8 -2.7-3.8 -2.7-4.8 -2.7-5.8 -2.8-6.4 -2.7-6.8 -2.9-6.5 -2.8-5.6 -2.9-4 -2.9-2.1 -2.9 .3 -2.8 2.7 -2.9 4.6 -2.8 6.2 -2.7 7.1 -2.8 7.3 -2.7 7.1 -2.6 6.3 -2.7 5.4 -2.7 4.4 -2.7 3.5 -2.7 2.5 -2.7 1.9 -2.8 1.4 -2.7 .9 -2.8 .7 .3 .7 2.8-.7 2.7-1 2.7-1.5 2.8-1.9 2.7-2.7 2.7-3.6 2.7-4.7 2.6-5.7 2.7-6.7 2.7-7.4 2.7-7.8 2.8-7.4 2.8-6.6 2.9-4.9 2.8-2.8 2.9-.3 2.9 2.2 2.9 4.3 2.9 6 2.8 6.9 2.8 7.1 2.7 6.9 2.8 6.1 2.7 5.1 2.7 4 2.6 3 2.7 2.1 2.7 1.4 2.8 .8 2.7 .4 2.7 .2z" fill="url(#s205_44)"/>
<linearGradient id="s205_45" gradientUnits="userSpaceOnUse" x1="575.8" y1="0" x2="659.9" y2="0"><stop offset="0.00" stop-color="#f4f7f9"/><stop offset="0.08" stop-color="#f3f6fa"/><stop offset="0.16" stop-color="#e7f0f8"/><stop offset="0.24" stop-color="#bfd8ed"/><stop offset="0.32" stop-color="#66abd4"/><stop offset="0.40" stop-color="#206fb4"/><stop offset="0.49" stop-color="#08509b"/><stop offset="0.58" stop-color="#1865ac"/><stop offset="0.66" stop-color="#56a0ce"/><stop offset="0.74" stop-color="#b2d2e8"/><stop offset="0.82" stop-color="#e2ecf7"/><stop offset="0.90" stop-color="#f2f6fa"/><stop offset="0.98" stop-color="#f4f7f9"/><stop offset="1.00" stop-color="#f4f7f9"/></linearGradient>
<path d="M660.4 324.9l-2.7-.2 -2.7-.4 -2.8-.8 -2.7-1.4 -2.7-2.1 -2.6-3 -2.7-4 -2.7-5.1 -2.8-6.1 -2.7-6.9 -2.8-7.1 -2.8-6.9 -2.9-6 -2.9-4.3 -2.9-2.2 -2.9 .3 -2.8 2.8 -2.9 4.9 -2.8 6.6 -2.8 7.4 -2.7 7.8 -2.7 7.4 -2.7 6.7 -2.6 5.7 -2.7 4.7 -2.7 3.6 -2.7 2.7 -2.8 1.9 -2.7 1.5 -2.7 1 -2.8 .7 .3 .6 2.7-.7 2.8-1.1 2.7-1.4 2.8-2.1 2.7-2.8 2.7-3.7 2.7-4.9 2.6-5.9 2.7-7 2.7-7.8 2.7-8.1 2.8-7.8 2.8-6.9 2.9-5.2 2.9-2.8 2.9-.3 2.9 2.3 2.9 4.5 2.8 6.3 2.9 7.2 2.7 7.6 2.8 7.1 2.7 6.4 2.7 5.4 2.7 4.2 2.7 3.2 2.7 2.2 2.7 1.4 2.7 .9 2.7 .4 2.7 .2z" fill="url(#s205_45)"/>
<linearGradient id="s205_46" gradientUnits="userSpaceOnUse" x1="576.1" y1="0" x2="660.2" y2="0"><stop offset="0.00" stop-color="#f4f7f9"/><stop offset="0.08" stop-color="#f3f6fa"/><stop offset="0.16" stop-color="#e6eff8"/><stop offset="0.24" stop-color="#bcd7eb"/><stop offset="0.32" stop-color="#60a7d2"/><stop offset="0.40" stop-color="#1967ad"/><stop offset="0.49" stop-color="#08478d"/><stop offset="0.58" stop-color="#125da6"/><stop offset="0.66" stop-color="#4e9acb"/><stop offset="0.74" stop-color="#aed1e7"/><stop offset="0.82" stop-color="#e0ecf6"/><stop offset="0.90" stop-color="#f1f6fa"/><stop offset="0.98" stop-color="#f4f7f9"/><stop offset="1.00" stop-color="#f4f7f9"/></linearGradient>
<path d="M660.7 325.5l-2.7-.2 -2.7-.4 -2.7-.9 -2.7-1.4 -2.7-2.2 -2.7-3.2 -2.7-4.2 -2.7-5.4 -2.7-6.4 -2.8-7.1 -2.7-7.6 -2.9-7.2 -2.8-6.3 -2.9-4.5 -2.9-2.3 -2.9 .3 -2.9 2.8 -2.9 5.2 -2.8 6.9 -2.8 7.8 -2.7 8.1 -2.7 7.8 -2.7 7 -2.6 5.9 -2.7 4.9 -2.7 3.7 -2.7 2.8 -2.8 2.1 -2.7 1.4 -2.8 1.1 -2.7 .7 .3 .7 2.7-.8 2.8-1 2.7-1.6 2.8-2.1 2.7-2.9 2.7-3.8 2.6-5 2.7-6.2 2.7-7.2 2.7-8.1 2.7-8.4 2.8-8.1 2.8-7.1 2.9-5.4 2.9-2.9 2.9-.3 2.9 2.4 2.9 4.7 2.9 6.5 2.8 7.6 2.8 7.8 2.7 7.4 2.7 6.7 2.7 5.5 2.7 4.4 2.7 3.3 2.7 2.3 2.7 1.5 2.7 .9 2.8 .5 2.7 .1z" fill="url(#s205_46)"/>
<linearGradient id="s205_47" gradientUnits="userSpaceOnUse" x1="576.4" y1="0" x2="660.6" y2="0"><stop offset="0.00" stop-color="#f4f7f9"/><stop offset="0.08" stop-color="#f2f6fa"/><stop offset="0.16" stop-color="#e5eff7"/><stop offset="0.24" stop-color="#b9d6ea"/><stop offset="0.32" stop-color="#5ba3d0"/><stop offset="0.40" stop-color="#1561a9"/><stop offset="0.49" stop-color="#084082"/><stop offset="0.58" stop-color="#0d57a1"/><stop offset="0.66" stop-color="#4997c9"/><stop offset="0.74" stop-color="#aacfe5"/><stop offset="0.82" stop-color="#e0ebf6"/><stop offset="0.90" stop-color="#f1f6fa"/><stop offset="0.98" stop-color="#f4f7f9"/><stop offset="1.00" stop-color="#f4f7f9"/></linearGradient>
<path d="M661.1 326.1l-2.7-.1 -2.8-.5 -2.7-.9 -2.7-1.5 -2.7-2.3 -2.7-3.3 -2.7-4.4 -2.7-5.5 -2.7-6.7 -2.7-7.4 -2.8-7.8 -2.8-7.6 -2.9-6.5 -2.9-4.7 -2.9-2.4 -2.9 .3 -2.9 2.9 -2.9 5.4 -2.8 7.1 -2.8 8.1 -2.7 8.4 -2.7 8.1 -2.7 7.2 -2.7 6.2 -2.6 5 -2.7 3.8 -2.7 2.9 -2.8 2.1 -2.7 1.6 -2.8 1 -2.7 .8 .3 .6 2.7-.7 2.8-1.1 2.7-1.6 2.8-2.1 2.7-3 2.7-3.9 2.6-5.2 2.7-6.3 2.7-7.4 2.7-8.2 2.7-8.7 2.8-8.3 2.8-7.3 2.9-5.5 2.9-3 2.9-.3 3 2.4 2.9 4.9 2.8 6.7 2.8 7.8 2.8 8 2.8 7.7 2.7 6.8 2.7 5.7 2.7 4.5 2.7 3.4 2.7 2.3 2.7 1.6 2.7 .9 2.7 .5 2.7 .2z" fill="url(#s205_47)"/>
<linearGradient id="s205_48" gradientUnits="userSpaceOnUse" x1="576.7" y1="0" x2="660.9" y2="0"><stop offset="0.00" stop-color="#f4f7f9"/><stop offset="0.08" stop-color="#f2f6fa"/><stop offset="0.16" stop-color="#e5eff7"/><stop offset="0.24" stop-color="#b7d4ea"/><stop offset="0.32" stop-color="#57a0ce"/><stop offset="0.40" stop-color="#125da6"/><stop offset="0.49" stop-color="#083b7c"/><stop offset="0.58" stop-color="#09529d"/><stop offset="0.66" stop-color="#4594c7"/><stop offset="0.74" stop-color="#a8cee4"/><stop offset="0.82" stop-color="#dfebf6"/><stop offset="0.90" stop-color="#f1f5fa"/><stop offset="0.98" stop-color="#f4f7f9"/><stop offset="1.00" stop-color="#f4f7f9"/></linearGradient>
<path d="M661.4 326.8l-2.7-.2 -2.7-.5 -2.7-.9 -2.7-1.6 -2.7-2.3 -2.7-3.4 -2.7-4.5 -2.7-5.7 -2.7-6.8 -2.8-7.7 -2.8-8 -2.8-7.8 -2.8-6.7 -2.9-4.9 -3-2.4 -2.9 .3 -2.9 3 -2.9 5.5 -2.8 7.3 -2.8 8.3 -2.7 8.7 -2.7 8.2 -2.7 7.4 -2.7 6.3 -2.6 5.2 -2.7 3.9 -2.7 3 -2.8 2.1 -2.7 1.6 -2.8 1.1 -2.7 .7 .3 .7 2.7-.8 2.8-1.1 2.7-1.5 2.7-2.2 2.8-3 2.7-4 2.6-5.2 2.7-6.4 2.7-7.6 2.7-8.3 2.8-8.8 2.7-8.5 2.9-7.4 2.8-5.5 2.9-3.1 3-.3 2.9 2.5 2.9 5 2.9 6.8 2.8 7.8 2.8 8.2 2.7 7.8 2.7 6.9 2.7 5.8 2.7 4.6 2.7 3.4 2.7 2.4 2.7 1.6 2.7 .9 2.7 .5 2.8 .2z" fill="url(#s205_48)"/>
<linearGradient id="s205_49" gradientUnits="userSpaceOnUse" x1="577.0" y1="0" x2="661.3" y2="0"><stop offset="0.00" stop-color="#f4f7f9"/><stop offset="0.08" stop-color="#f2f6fa"/><stop offset="0.16" stop-color="#e4eef7"/><stop offset="0.24" stop-color="#b7d4ea"/><stop offset="0.32" stop-color="#56a0ce"/><stop offset="0.40" stop-color="#105ba4"/><stop offset="0.49" stop-color="#083877"/><stop offset="0.58" stop-color="#08509b"/><stop offset="0.66" stop-color="#4292c6"/><stop offset="0.74" stop-color="#a8cee4"/><stop offset="0.82" stop-color="#dfebf6"/><stop offset="0.90" stop-color="#f1f5fa"/><stop offset="0.98" stop-color="#f4f7f9"/><stop offset="1.00" stop-color="#f4f7f9"/></linearGradient>
<path d="M661.8 327.4l-2.8-.2 -2.7-.5 -2.7-.9 -2.7-1.6 -2.7-2.4 -2.7-3.4 -2.7-4.6 -2.7-5.8 -2.7-6.9 -2.7-7.8 -2.8-8.2 -2.8-7.8 -2.9-6.8 -2.9-5 -2.9-2.5 -3 .3 -2.9 3.1 -2.8 5.5 -2.9 7.4 -2.7 8.5 -2.8 8.8 -2.7 8.3 -2.7 7.6 -2.7 6.4 -2.6 5.2 -2.7 4 -2.8 3 -2.7 2.2 -2.7 1.5 -2.8 1.1 -2.7 .8 .2 .7 2.8-.8 2.8-1.1 2.7-1.6 2.7-2.2 2.8-3 2.7-4 2.6-5.2 2.7-6.5 2.7-7.5 2.7-8.5 2.8-8.8 2.8-8.5 2.8-7.4 2.9-5.6 2.9-3.2 2.9-.2 2.9 2.5 2.9 5 2.9 6.9 2.8 7.9 2.8 8.2 2.8 7.8 2.7 6.9 2.7 5.9 2.7 4.6 2.7 3.4 2.6 2.5 2.8 1.5 2.7 1 2.7 .5 2.7 .2z" fill="url(#s205_49)"/>
<linearGradient id="s205_50" gradientUnits="userSpaceOnUse" x1="577.3" y1="0" x2="661.6" y2="0"><stop offset="0.00" stop-color="#f4f7f9"/><stop offset="0.08" stop-color="#f2f6fa"/><stop offset="0.16" stop-color="#e4eef7"/><stop offset="0.24" stop-color="#b7d4ea"/><stop offset="0.32" stop-color="#56a0ce"/><stop offset="0.41" stop-color="#105ba4"/><stop offset="0.49" stop-color="#083877"/><stop offset="0.58" stop-color="#08509b"/><stop offset="0.66" stop-color="#4292c6"/><stop offset="0.74" stop-color="#a8cee4"/><stop offset="0.82" stop-color="#dfebf6"/><stop offset="0.90" stop-color="#f1f5fa"/><stop offset="0.98" stop-color="#f4f7f9"/><stop offset="1.00" stop-color="#f4f7f9"/></linearGradient>
<path d="M662.1 328.1l-2.7-.2 -2.7-.5 -2.7-1 -2.8-1.5 -2.6-2.5 -2.7-3.4 -2.7-4.6 -2.7-5.9 -2.7-6.9 -2.8-7.8 -2.8-8.2 -2.8-7.9 -2.9-6.9 -2.9-5 -2.9-2.5 -2.9 .2 -2.9 3.2 -2.9 5.6 -2.8 7.4 -2.8 8.5 -2.8 8.8 -2.7 8.5 -2.7 7.5 -2.7 6.5 -2.6 5.2 -2.7 4 -2.8 3 -2.7 2.2 -2.7 1.6 -2.8 1.1 -2.8 .8 .3 .6 2.8-.7 2.8-1.1 2.7-1.6 2.7-2.2 2.8-3 2.7-4 2.7-5.2 2.6-6.4 2.7-7.5 2.8-8.4 2.7-8.8 2.8-8.4 2.8-7.4 2.9-5.6 2.9-3.1 2.9-.3 3 2.5 2.9 5 2.8 6.8 2.9 7.9 2.7 8.1 2.8 7.8 2.7 6.9 2.7 5.8 2.7 4.6 2.7 3.4 2.7 2.4 2.7 1.6 2.7 1 2.7 .5 2.8 .2z" fill="url(#s205_50)"/>
<linearGradient id="s205_51" gradientUnits="userSpaceOnUse" x1="577.6" y1="0" x2="661.9" y2="0"><stop offset="0.00" stop-color="#f4f7f9"/><stop offset="0.08" stop-color="#f2f6fa"/><stop offset="0.16" stop-color="#e5eff7"/><stop offset="0.24" stop-color="#b7d4ea"/><stop offset="0.32" stop-color="#57a0ce"/><stop offset="0.41" stop-color="#125da6"/><stop offset="0.49" stop-color="#083b7c"/><stop offset="0.58" stop-color="#09529d"/><stop offset="0.66" stop-color="#4594c7"/><stop offset="0.74" stop-color="#a8cee4"/><stop offset="0.82" stop-color="#dfebf6"/><stop offset="0.90" stop-color="#f1f5fa"/><stop offset="0.98" stop-color="#f4f7f9"/><stop offset="1.00" stop-color="#f4f7f9"/></linearGradient>
<path d="M662.5 328.8l-2.8-.2 -2.7-.5 -2.7-1 -2.7-1.6 -2.7-2.4 -2.7-3.4 -2.7-4.6 -2.7-5.8 -2.7-6.9 -2.8-7.8 -2.7-8.1 -2.9-7.9 -2.8-6.8 -2.9-5 -3-2.5 -2.9 .3 -2.9 3.1 -2.9 5.6 -2.8 7.4 -2.8 8.4 -2.7 8.8 -2.8 8.4 -2.7 7.5 -2.6 6.4 -2.7 5.2 -2.7 4 -2.8 3 -2.7 2.2 -2.7 1.6 -2.8 1.1 -2.8 .7 .3 .7 2.8-.8 2.8-1 2.7-1.6 2.8-2.1 2.7-3 2.7-4 2.7-5.1 2.7-6.3 2.7-7.4 2.7-8.3 2.7-8.6 2.8-8.3 2.9-7.3 2.8-5.5 3-3.1 2.9-.3 2.9 2.5 2.9 4.9 2.9 6.7 2.8 7.7 2.8 8 2.7 7.7 2.7 6.8 2.7 5.7 2.7 4.5 2.7 3.4 2.7 2.4 2.7 1.5 2.8 1 2.7 .4 2.7 .2z" fill="url(#s205_51)"/>
<linearGradient id="s205_52" gradientUnits="userSpaceOnUse" x1="577.9" y1="0" x2="662.3" y2="0"><stop offset="0.00" stop-color="#f4f7f9"/><stop offset="0.08" stop-color="#f2f6fa"/><stop offset="0.16" stop-color="#e5eff7"/><stop offset="0.24" stop-color="#b9d6ea"/><stop offset="0.32" stop-color="#5ba3d0"/><stop offset="0.41" stop-color="#1561a9"/><stop offset="0.49" stop-color="#084082"/><stop offset="0.58" stop-color="#0d57a1"/><stop offset="0.66" stop-color="#4997c9"/><stop offset="0.74" stop-color="#aacfe5"/><stop offset="0.82" stop-color="#e0ebf6"/><stop offset="0.90" stop-color="#f1f6fa"/><stop offset="0.98" stop-color="#f4f7f9"/><stop offset="1.00" stop-color="#f4f7f9"/></linearGradient>
<path d="M662.8 329.4l-2.7-.2 -2.7-.4 -2.8-1 -2.7-1.5 -2.7-2.4 -2.7-3.4 -2.7-4.5 -2.7-5.7 -2.7-6.8 -2.7-7.7 -2.8-8 -2.8-7.7 -2.9-6.7 -2.9-4.9 -2.9-2.5 -2.9 .3 -3 3.1 -2.8 5.5 -2.9 7.3 -2.8 8.3 -2.7 8.6 -2.7 8.3 -2.7 7.4 -2.7 6.3 -2.7 5.1 -2.7 4 -2.7 3 -2.8 2.1 -2.7 1.6 -2.8 1 -2.8 .8 .3 .7 2.8-.8 2.8-1 2.7-1.5 2.8-2.1 2.7-2.9 2.7-3.9 2.7-5 2.7-6.2 2.7-7.2 2.7-8.1 2.8-8.4 2.8-8.1 2.8-7.1 2.9-5.4 2.9-3 2.9-.3 3 2.4 2.9 4.8 2.8 6.5 2.8 7.5 2.8 7.8 2.8 7.5 2.7 6.6 2.7 5.6 2.7 4.4 2.7 3.3 2.7 2.3 2.7 1.5 2.7 .9 2.7 .4 2.7 .2z" fill="url(#s205_52)"/>
<linearGradient id="s205_53" gradientUnits="userSpaceOnUse" x1="578.2" y1="0" x2="662.6" y2="0"><stop offset="0.00" stop-color="#f4f7f9"/><stop offset="0.08" stop-color="#f3f6fa"/><stop offset="0.16" stop-color="#e6eff8"/><stop offset="0.24" stop-color="#bcd7eb"/><stop offset="0.32" stop-color="#60a7d2"/><stop offset="0.41" stop-color="#1967ad"/><stop offset="0.49" stop-color="#08478d"/><stop offset="0.58" stop-color="#125da6"/><stop offset="0.66" stop-color="#4e9acb"/><stop offset="0.74" stop-color="#aed1e7"/><stop offset="0.82" stop-color="#e0ecf6"/><stop offset="0.90" stop-color="#f1f6fa"/><stop offset="0.98" stop-color="#f4f7f9"/><stop offset="1.00" stop-color="#f4f7f9"/></linearGradient>
<path d="M663.1 330.1l-2.7-.2 -2.7-.4 -2.7-.9 -2.7-1.5 -2.7-2.3 -2.7-3.3 -2.7-4.4 -2.7-5.6 -2.7-6.6 -2.8-7.5 -2.8-7.8 -2.8-7.5 -2.8-6.5 -2.9-4.8 -3-2.4 -2.9 .3 -2.9 3 -2.9 5.4 -2.8 7.1 -2.8 8.1 -2.8 8.4 -2.7 8.1 -2.7 7.2 -2.7 6.2 -2.7 5 -2.7 3.9 -2.7 2.9 -2.8 2.1 -2.7 1.5 -2.8 1 -2.8 .8 .3 .7 2.8-.7 2.8-1.1 2.7-1.4 2.8-2.1 2.7-2.8 2.7-3.8 2.7-4.8 2.7-6 2.7-7 2.8-7.8 2.7-8.1 2.8-7.8 2.9-6.9 2.8-5.2 2.9-2.9 3-.3 2.9 2.3 2.9 4.6 2.8 6.3 2.9 7.2 2.7 7.5 2.8 7.2 2.7 6.4 2.7 5.4 2.7 4.2 2.7 3.2 2.7 2.2 2.7 1.4 2.7 .9 2.8 .4 2.7 .2z" fill="url(#s205_53)"/>
<linearGradient id="s205_54" gradientUnits="userSpaceOnUse" x1="578.5" y1="0" x2="663.0" y2="0"><stop offset="0.00" stop-color="#f4f7f9"/><stop offset="0.08" stop-color="#f3f6fa"/><stop offset="0.16" stop-color="#e7f0f8"/><stop offset="0.24" stop-color="#bfd8ed"/><stop offset="0.32" stop-color="#66abd4"/><stop offset="0.41" stop-color="#206fb4"/><stop offset="0.49" stop-color="#08509b"/><stop offset="0.58" stop-color="#1865ac"/><stop offset="0.66" stop-color="#56a0ce"/><stop offset="0.74" stop-color="#b2d2e8"/><stop offset="0.82" stop-color="#e2ecf7"/><stop offset="0.90" stop-color="#f2f6fa"/><stop offset="0.98" stop-color="#f4f7f9"/><stop offset="1.00" stop-color="#f4f7f9"/></linearGradient>
<path d="M663.5 330.8l-2.7-.2 -2.8-.4 -2.7-.9 -2.7-1.4 -2.7-2.2 -2.7-3.2 -2.7-4.2 -2.7-5.4 -2.7-6.4 -2.8-7.2 -2.7-7.5 -2.9-7.2 -2.8-6.3 -2.9-4.6 -2.9-2.3 -3 .3 -2.9 2.9 -2.8 5.2 -2.9 6.9 -2.8 7.8 -2.7 8.1 -2.8 7.8 -2.7 7 -2.7 6 -2.7 4.8 -2.7 3.8 -2.7 2.8 -2.8 2.1 -2.7 1.4 -2.8 1.1 -2.8 .7 .3 .7 2.8-.7 2.8-1 2.7-1.4 2.8-2 2.7-2.7 2.7-3.6 2.7-4.7 2.7-5.7 2.8-6.7 2.7-7.4 2.8-7.8 2.8-7.5 2.8-6.6 2.9-4.9 2.9-2.8 2.9-.3 2.9 2.2 2.9 4.3 2.9 6 2.8 6.9 2.8 7.2 2.7 6.8 2.7 6.1 2.7 5.1 2.7 4 2.7 3 2.7 2.2 2.8 1.3 2.7 .8 2.7 .4 2.7 .2z" fill="url(#s205_54)"/>
<linearGradient id="s205_55" gradientUnits="userSpaceOnUse" x1="578.8" y1="0" x2="663.3" y2="0"><stop offset="0.00" stop-color="#f4f7f9"/><stop offset="0.08" stop-color="#f3f6fa"/><stop offset="0.16" stop-color="#e8f0f8"/><stop offset="0.24" stop-color="#c3daee"/><stop offset="0.32" stop-color="#6fb0d7"/><stop offset="0.41" stop-color="#2979b9"/><stop offset="0.49" stop-color="#105ba4"/><stop offset="0.58" stop-color="#206fb4"/><stop offset="0.66" stop-color="#5fa6d1"/><stop offset="0.74" stop-color="#b7d4ea"/><stop offset="0.82" stop-color="#e3edf7"/><stop offset="0.90" stop-color="#f2f6fa"/><stop offset="0.98" stop-color="#f4f7f9"/><stop offset="1.00" stop-color="#f4f7f9"/></linearGradient>
<path d="M663.8 331.5l-2.7-.2 -2.7-.4 -2.7-.8 -2.8-1.3 -2.7-2.2 -2.7-3 -2.7-4 -2.7-5.1 -2.7-6.1 -2.7-6.8 -2.8-7.2 -2.8-6.9 -2.9-6 -2.9-4.3 -2.9-2.2 -2.9 .3 -2.9 2.8 -2.9 4.9 -2.8 6.6 -2.8 7.5 -2.8 7.8 -2.7 7.4 -2.8 6.7 -2.7 5.7 -2.7 4.7 -2.7 3.6 -2.7 2.7 -2.8 2 -2.7 1.4 -2.8 1 -2.8 .7 .3 .7 2.8-.7 2.8-1 2.7-1.3 2.8-1.9 2.7-2.6 2.7-3.4 2.8-4.4 2.7-5.5 2.7-6.3 2.7-7.1 2.8-7.3 2.8-7.1 2.9-6.2 2.8-4.7 2.9-2.6 3-.3 2.9 2 2.8 4.1 2.9 5.6 2.8 6.5 2.8 6.7 2.7 6.5 2.7 5.7 2.8 4.8 2.7 3.8 2.7 2.9 2.7 2 2.7 1.2 2.7 .8 2.7 .4 2.8 .1z" fill="url(#s205_55)"/>
<linearGradient id="s205_56" gradientUnits="userSpaceOnUse" x1="579.1" y1="0" x2="663.7" y2="0"><stop offset="0.00" stop-color="#f4f7f9"/><stop offset="0.08" stop-color="#f3f6fa"/><stop offset="0.16" stop-color="#e9f1f8"/><stop offset="0.24" stop-color="#c7dcef"/><stop offset="0.32" stop-color="#7cb7da"/><stop offset="0.41" stop-color="#3383be"/><stop offset="0.49" stop-color="#1967ad"/><stop offset="0.58" stop-color="#2b7bba"/><stop offset="0.66" stop-color="#68acd5"/><stop offset="0.74" stop-color="#bcd7eb"/><stop offset="0.82" stop-color="#e5eff7"/><stop offset="0.90" stop-color="#f2f6fa"/><stop offset="0.98" stop-color="#f4f7f9"/><stop offset="1.00" stop-color="#f4f7f9"/></linearGradient>
<path d="M664.2 332.2l-2.8-.1 -2.7-.4 -2.7-.8 -2.7-1.2 -2.7-2 -2.7-2.9 -2.7-3.8 -2.8-4.8 -2.7-5.7 -2.7-6.5 -2.8-6.7 -2.8-6.5 -2.9-5.6 -2.8-4.1 -2.9-2 -3 .3 -2.9 2.6 -2.8 4.7 -2.9 6.2 -2.8 7.1 -2.8 7.3 -2.7 7.1 -2.7 6.3 -2.7 5.5 -2.8 4.4 -2.7 3.4 -2.7 2.6 -2.8 1.9 -2.7 1.3 -2.8 1 -2.8 .7 .3 .7 2.8-.7 2.8-.9 2.7-1.3 2.8-1.8 2.7-2.4 2.8-3.3 2.7-4.1 2.7-5.1 2.7-6 2.8-6.6 2.8-6.9 2.8-6.7 2.8-5.8 2.9-4.4 2.9-2.4 2.9-.3 2.9 1.8 2.9 3.8 2.8 5.2 2.8 6.1 2.8 6.3 2.7 6 2.8 5.4 2.7 4.5 2.7 3.5 2.7 2.6 2.7 1.9 2.7 1.2 2.8 .7 2.7 .3 2.7 .1z" fill="url(#s205_56)"/>
<linearGradient id="s205_57" gradientUnits="userSpaceOnUse" x1="579.4" y1="0" x2="664.0" y2="0"><stop offset="0.00" stop-color="#f4f7f9"/><stop offset="0.08" stop-color="#f3f6fa"/><stop offset="0.16" stop-color="#ebf2f9"/><stop offset="0.24" stop-color="#cbdef1"/><stop offset="0.32" stop-color="#87bddc"/><stop offset="0.41" stop-color="#3f8fc5"/><stop offset="0.49" stop-color="#2474b7"/><stop offset="0.58" stop-color="#3787c0"/><stop offset="0.66" stop-color="#75b4d8"/><stop offset="0.74" stop-color="#c2d9ee"/><stop offset="0.82" stop-color="#e7f0f8"/><stop offset="0.90" stop-color="#f2f6fa"/><stop offset="0.98" stop-color="#f4f7f9"/><stop offset="1.00" stop-color="#f4f7f9"/></linearGradient>
<path d="M664.5 332.9l-2.7-.1 -2.7-.3 -2.8-.7 -2.7-1.2 -2.7-1.9 -2.7-2.6 -2.7-3.5 -2.7-4.5 -2.8-5.4 -2.7-6 -2.8-6.3 -2.8-6.1 -2.8-5.2 -2.9-3.8 -2.9-1.8 -2.9 .3 -2.9 2.4 -2.9 4.4 -2.8 5.8 -2.8 6.7 -2.8 6.9 -2.8 6.6 -2.7 6 -2.7 5.1 -2.7 4.1 -2.8 3.3 -2.7 2.4 -2.8 1.8 -2.7 1.3 -2.8 .9 -2.8 .7 .3 .7 2.8-.6 2.8-.9 2.7-1.2 2.8-1.7 2.8-2.3 2.7-3 2.7-3.9 2.8-4.8 2.7-5.5 2.7-6.2 2.8-6.4 2.8-6.2 2.9-5.4 2.8-4 2.9-2.4 2.9-.3 2.9 1.8 2.9 3.4 2.8 4.8 2.8 5.6 2.8 5.8 2.8 5.6 2.7 4.9 2.7 4.1 2.7 3.3 2.7 2.4 2.7 1.7 2.8 1.1 2.7 .6 2.7 .3 2.8 .1z" fill="url(#s205_57)"/>
<linearGradient id="s205_58" gradientUnits="userSpaceOnUse" x1="581.0" y1="0" x2="663.0" y2="0"><stop offset="0.00" stop-color="#f4f7f9"/><stop offset="0.08" stop-color="#f3f6fa"/><stop offset="0.17" stop-color="#e8f0f8"/><stop offset="0.25" stop-color="#c7dcef"/><stop offset="0.34" stop-color="#84bcdb"/><stop offset="0.42" stop-color="#4594c7"/><stop offset="0.51" stop-color="#3383be"/><stop offset="0.60" stop-color="#4e9acb"/><stop offset="0.68" stop-color="#95c5df"/><stop offset="0.77" stop-color="#cfe1f2"/><stop offset="0.85" stop-color="#ecf3f9"/><stop offset="0.93" stop-color="#f3f6fa"/><stop offset="1.00" stop-color="#f4f7f9"/></linearGradient>
<path d="M663.5 333.6l-2.7-.2 -2.8-.4 -2.7-.9 -2.7-1.3 -2.7-2.1 -2.7-2.8 -2.8-3.7 -2.7-4.6 -2.7-5.3 -2.8-5.7 -2.8-5.8 -2.8-5.2 -2.8-4.2 -2.9-2.6 -2.9-.8 -2.9 1.4 -2.9 3.2 -2.9 4.8 -2.8 5.9 -2.8 6.3 -2.7 6.4 -2.8 5.8 -2.7 5.2 -2.7 4.3 -2.8 3.5 -2.7 2.6 -2.8 2 -2.7 1.4 -2.8 1.1 -2.8 .7 .3 .8 2.8-.8 2.8-.9 2.7-1.4 2.8-1.8 2.7-2.5 2.8-3.2 2.7-4 2.8-4.7 2.7-5.5 2.8-5.8 2.8-5.9 2.8-5.4 2.9-4.4 2.8-3 2.9-1.2 2.9 .6 2.9 2.4 2.8 3.8 2.9 4.8 2.7 5.3 2.8 5.2 2.7 4.8 2.8 4.2 2.7 3.4 2.7 2.6 2.7 1.8 2.7 1.2 2.8 .8 2.7 .4 2.8 .1z" fill="url(#s205_58)"/>
<linearGradient id="s205_59" gradientUnits="userSpaceOnUse" x1="581.3" y1="0" x2="663.3" y2="0"><stop offset="0.00" stop-color="#f4f7f9"/><stop offset="0.08" stop-color="#f3f6fa"/><stop offset="0.17" stop-color="#eaf1f8"/><stop offset="0.25" stop-color="#ccdff1"/><stop offset="0.34" stop-color="#94c4df"/><stop offset="0.42" stop-color="#56a0ce"/><stop offset="0.51" stop-color="#4292c6"/><stop offset="0.60" stop-color="#5fa6d1"/><stop offset="0.68" stop-color="#a1cbe2"/><stop offset="0.77" stop-color="#d4e4f3"/><stop offset="0.85" stop-color="#edf3f9"/><stop offset="0.93" stop-color="#f4f7fa"/><stop offset="1.00" stop-color="#f4f7f9"/></linearGradient>
<path d="M663.9 334.3l-2.8-.1 -2.7-.4 -2.8-.8 -2.7-1.2 -2.7-1.8 -2.7-2.6 -2.7-3.4 -2.8-4.2 -2.7-4.8 -2.8-5.2 -2.7-5.3 -2.9-4.8 -2.8-3.8 -2.9-2.4 -2.9-.6 -2.9 1.2 -2.8 3 -2.9 4.4 -2.8 5.4 -2.8 5.9 -2.8 5.8 -2.7 5.5 -2.8 4.7 -2.7 4 -2.8 3.2 -2.7 2.5 -2.8 1.8 -2.7 1.4 -2.8 .9 -2.8 .8 .3 .7 2.8-.7 2.8-.9 2.7-1.3 2.8-1.7 2.8-2.2 2.7-3 2.8-3.6 2.7-4.4 2.8-5 2.7-5.3 2.8-5.3 2.9-5 2.8-4 2.9-2.7 2.9-1.2 2.8 .6 2.9 2.1 2.8 3.4 2.9 4.3 2.7 4.8 2.8 4.7 2.8 4.4 2.7 3.7 2.7 3.1 2.7 2.3 2.8 1.7 2.7 1 2.7 .7 2.8 .3 2.7 .1z" fill="url(#s205_59)"/>
<linearGradient id="s205_60" gradientUnits="userSpaceOnUse" x1="581.6" y1="0" x2="663.7" y2="0"><stop offset="0.00" stop-color="#f4f7f9"/><stop offset="0.08" stop-color="#f3f6fa"/><stop offset="0.17" stop-color="#ecf3f9"/><stop offset="0.25" stop-color="#d1e2f2"/><stop offset="0.34" stop-color="#a1cbe2"/><stop offset="0.42" stop-color="#66abd4"/><stop offset="0.51" stop-color="#56a0ce"/><stop offset="0.60" stop-color="#6fb0d7"/><stop offset="0.68" stop-color="#add0e6"/><stop offset="0.77" stop-color="#d8e7f4"/><stop offset="0.85" stop-color="#eef4f9"/><stop offset="0.93" stop-color="#f4f7f9"/><stop offset="1.00" stop-color="#f4f7f9"/></linearGradient>
<path d="M664.2 335l-2.7-.1 -2.8-.3 -2.7-.7 -2.7-1 -2.8-1.7 -2.7-2.3 -2.7-3.1 -2.7-3.7 -2.8-4.4 -2.8-4.7 -2.7-4.8 -2.9-4.3 -2.8-3.4 -2.9-2.1 -2.8-.6 -2.9 1.2 -2.9 2.7 -2.8 4 -2.9 5 -2.8 5.3 -2.7 5.3 -2.8 5 -2.7 4.4 -2.8 3.6 -2.7 3 -2.8 2.2 -2.8 1.7 -2.7 1.3 -2.8 .9 -2.8 .7 .3 .7 2.8-.6 2.8-.9 2.8-1.2 2.7-1.5 2.8-2.1 2.7-2.7 2.8-3.3 2.7-4 2.8-4.5 2.8-4.8 2.8-4.8 2.8-4.5 2.9-3.6 2.8-2.5 2.9-1.1 2.9 .5 2.8 1.9 2.9 3 2.8 3.9 2.8 4.2 2.7 4.2 2.8 3.9 2.7 3.3 2.7 2.8 2.8 2 2.7 1.5 2.7 1 2.8 .5 2.7 .3 2.7 0z" fill="url(#s205_60)"/>
<linearGradient id="s205_61" gradientUnits="userSpaceOnUse" x1="583.3" y1="0" x2="662.7" y2="0"><stop offset="0.00" stop-color="#f4f7f9"/><stop offset="0.09" stop-color="#f3f6fa"/><stop offset="0.17" stop-color="#eaf2f9"/><stop offset="0.26" stop-color="#d0e1f2"/><stop offset="0.35" stop-color="#a4cce3"/><stop offset="0.44" stop-color="#74b3d8"/><stop offset="0.53" stop-color="#6aaed6"/><stop offset="0.62" stop-color="#8fc2de"/><stop offset="0.71" stop-color="#c1d9ed"/><stop offset="0.79" stop-color="#e2edf7"/><stop offset="0.88" stop-color="#f1f5fa"/><stop offset="0.97" stop-color="#f4f7f9"/><stop offset="1.00" stop-color="#f4f7f9"/></linearGradient>
<path d="M663.2 335.7l-2.8-.1 -2.7-.4 -2.8-.8 -2.7-1.2 -2.7-1.7 -2.7-2.4 -2.8-3.1 -2.7-3.6 -2.8-4.1 -2.7-4.2 -2.8-4.1 -2.9-3.5 -2.8-2.5 -2.9-1.2 -2.8 .3 -2.9 1.8 -2.9 3.1 -2.8 4.1 -2.8 4.7 -2.8 4.8 -2.8 4.7 -2.7 4.3 -2.8 3.6 -2.7 3 -2.8 2.4 -2.8 1.8 -2.7 1.4 -2.8 1 -2.8 .7 .3 .8 2.8-.7 2.8-1 2.7-1.2 2.8-1.7 2.8-2.1 2.7-2.7 2.8-3.3 2.8-3.8 2.7-4.2 2.8-4.4 2.9-4.2 2.8-3.7 2.8-2.8 2.9-1.6 2.9-.3 2.8 1 2.9 2.2 2.8 3.1 2.8 3.6 2.8 3.7 2.7 3.6 2.7 3.2 2.8 2.7 2.7 2.1 2.7 1.6 2.8 1 2.7 .6 2.8 .4 2.7 0z" fill="url(#s205_61)"/>
<linearGradient id="s205_62" gradientUnits="userSpaceOnUse" x1="583.6" y1="0" x2="663.0" y2="0"><stop offset="0.00" stop-color="#f4f7f9"/><stop offset="0.09" stop-color="#f3f6fa"/><stop offset="0.18" stop-color="#ecf3f9"/><stop offset="0.26" stop-color="#d6e5f4"/><stop offset="0.35" stop-color="#b0d2e7"/><stop offset="0.44" stop-color="#89bedc"/><stop offset="0.53" stop-color="#81badb"/><stop offset="0.62" stop-color="#a0cbe2"/><stop offset="0.71" stop-color="#c9ddf0"/><stop offset="0.79" stop-color="#e6eff8"/><stop offset="0.88" stop-color="#f2f6fa"/><stop offset="0.97" stop-color="#f4f7f9"/><stop offset="1.00" stop-color="#f4f7f9"/></linearGradient>
<path d="M663.5 336.4l-2.7 0 -2.8-.4 -2.7-.6 -2.8-1 -2.7-1.6 -2.7-2.1 -2.8-2.7 -2.7-3.2 -2.7-3.6 -2.8-3.7 -2.8-3.6 -2.8-3.1 -2.9-2.2 -2.8-1 -2.9 .3 -2.9 1.6 -2.8 2.8 -2.8 3.7 -2.9 4.2 -2.8 4.4 -2.7 4.2 -2.8 3.8 -2.8 3.3 -2.7 2.7 -2.8 2.1 -2.8 1.7 -2.7 1.2 -2.8 1 -2.8 .7 .3 .7 2.8-.6 2.8-.9 2.8-1.1 2.7-1.5 2.8-2 2.8-2.4 2.7-2.9 2.8-3.5 2.8-3.7 2.8-3.9 2.8-3.7 2.8-3.3 2.9-2.5 2.8-1.5 2.9-.3 2.8 .9 2.9 1.9 2.8 2.6 2.8 3.2 2.8 3.2 2.7 3.2 2.8 2.8 2.7 2.3 2.7 1.9 2.8 1.3 2.7 .9 2.8 .5 2.7 .2 2.8 .1z" fill="url(#s205_62)"/>
<linearGradient id="s205_63" gradientUnits="userSpaceOnUse" x1="585.3" y1="0" x2="662.0" y2="0"><stop offset="0.00" stop-color="#f4f7f9"/><stop offset="0.09" stop-color="#f3f6fa"/><stop offset="0.18" stop-color="#ebf2f9"/><stop offset="0.27" stop-color="#d6e5f4"/><stop offset="0.36" stop-color="#b5d4e9"/><stop offset="0.46" stop-color="#99c7e0"/><stop offset="0.55" stop-color="#99c7e0"/><stop offset="0.64" stop-color="#b5d4e9"/><stop offset="0.73" stop-color="#d6e5f4"/><stop offset="0.82" stop-color="#ebf2f9"/><stop offset="0.91" stop-color="#f3f6fa"/><stop offset="1.00" stop-color="#f4f7f9"/><stop offset="1.00" stop-color="#f4f7f9"/></linearGradient>
<path d="M662.5 337.2l-2.8-.2 -2.7-.3 -2.7-.7 -2.8-1.1 -2.7-1.6 -2.8-2.1 -2.7-2.6 -2.8-2.9 -2.7-3.3 -2.8-3.2 -2.8-3 -2.8-2.3 -2.9-1.4 -2.8-.3 -2.9 .9 -2.8 2 -2.9 2.9 -2.8 3.6 -2.8 3.8 -2.8 3.9 -2.8 3.6 -2.7 3.2 -2.8 2.7 -2.8 2.2 -2.7 1.7 -2.8 1.3 -2.8 1 -2.8 .7 .3 .8 2.8-.7 2.8-.9 2.8-1.2 2.7-1.5 2.8-2 2.8-2.4 2.8-2.8 2.7-3.2 2.8-3.4 2.8-3.4 2.9-3.1 2.8-2.6 2.8-1.8 2.9-.8 2.8 .2 2.9 1.2 2.8 1.9 2.8 2.6 2.8 2.8 2.8 2.7 2.7 2.6 2.8 2.2 2.7 1.8 2.7 1.4 2.8 .9 2.7 .6 2.8 .2 2.7 .1z" fill="url(#s205_63)"/>
<linearGradient id="s205_64" gradientUnits="userSpaceOnUse" x1="585.6" y1="0" x2="662.3" y2="0"><stop offset="0.00" stop-color="#f4f7f9"/><stop offset="0.09" stop-color="#f3f6fa"/><stop offset="0.18" stop-color="#edf3f9"/><stop offset="0.27" stop-color="#dce9f5"/><stop offset="0.36" stop-color="#c2d9ee"/><stop offset="0.46" stop-color="#aacfe5"/><stop offset="0.55" stop-color="#aacfe5"/><stop offset="0.64" stop-color="#c2d9ee"/><stop offset="0.73" stop-color="#dce9f5"/><stop offset="0.82" stop-color="#edf3f9"/><stop offset="0.91" stop-color="#f3f6fa"/><stop offset="1.00" stop-color="#f4f7f9"/><stop offset="1.00" stop-color="#f4f7f9"/></linearGradient>
<path d="M662.8 337.9l-2.7-.1 -2.8-.2 -2.7-.6 -2.8-.9 -2.7-1.4 -2.7-1.8 -2.8-2.2 -2.7-2.6 -2.8-2.7 -2.8-2.8 -2.8-2.6 -2.8-1.9 -2.9-1.2 -2.8-.2 -2.9 .8 -2.8 1.8 -2.8 2.6 -2.9 3.1 -2.8 3.4 -2.8 3.4 -2.7 3.2 -2.8 2.8 -2.8 2.4 -2.8 2 -2.7 1.5 -2.8 1.2 -2.8 .9 -2.8 .7 .3 .7 2.8-.6 2.8-.8 2.8-1.1 2.8-1.4 2.7-1.7 2.8-2.1 2.8-2.5 2.8-2.8 2.8-3 2.8-3 2.8-2.7 2.8-2.3 2.9-1.6 2.8-.7 2.9 .1 2.8 1 2.8 1.6 2.8 2.2 2.8 2.3 2.8 2.4 2.7 2.2 2.8 1.9 2.7 1.5 2.8 1.1 2.7 .8 2.8 .4 2.7 .2 2.8 .1z" fill="url(#s205_64)"/>
<linearGradient id="s205_65" gradientUnits="userSpaceOnUse" x1="587.3" y1="0" x2="661.3" y2="0"><stop offset="0.00" stop-color="#f4f7f9"/><stop offset="0.09" stop-color="#f3f6fa"/><stop offset="0.19" stop-color="#edf3f9"/><stop offset="0.28" stop-color="#ddeaf5"/><stop offset="0.38" stop-color="#c7dcef"/><stop offset="0.47" stop-color="#b7d4ea"/><stop offset="0.57" stop-color="#bcd7eb"/><stop offset="0.66" stop-color="#cfe1f2"/><stop offset="0.76" stop-color="#e5eff7"/><stop offset="0.85" stop-color="#f1f5fa"/><stop offset="0.94" stop-color="#f4f7f9"/><stop offset="1.00" stop-color="#f4f7f9"/></linearGradient>
<path d="M661.8 338.7l-2.8-.1 -2.7-.4 -2.8-.6 -2.7-.9 -2.7-1.3 -2.8-1.7 -2.8-2 -2.7-2.4 -2.8-2.4 -2.8-2.2 -2.8-2 -2.8-1.3 -2.9-.6 -2.8 .3 -2.8 1.2 -2.9 2 -2.8 2.5 -2.8 2.9 -2.8 3 -2.8 2.9 -2.8 2.7 -2.8 2.3 -2.7 1.9 -2.8 1.6 -2.8 1.2 -2.8 .9 -2.8 .7 .3 .8 2.8-.7 2.8-.8 2.8-1.1 2.8-1.4 2.8-1.7 2.7-2 2.8-2.3 2.8-2.6 2.8-2.6 2.8-2.5 2.9-2.2 2.8-1.7 2.8-1.1 2.9-.3 2.8 .4 2.8 1.1 2.8 1.7 2.8 1.9 2.8 2 2.8 1.9 2.7 1.7 2.8 1.4 2.7 1.1 2.8 .8 2.7 .5 2.8 .2 2.7 0z" fill="url(#s205_65)"/>
<linearGradient id="s205_66" gradientUnits="userSpaceOnUse" x1="587.7" y1="0" x2="661.6" y2="0"><stop offset="0.00" stop-color="#f4f7f9"/><stop offset="0.09" stop-color="#f4f7fa"/><stop offset="0.19" stop-color="#eff4f9"/><stop offset="0.28" stop-color="#e2edf7"/><stop offset="0.38" stop-color="#d0e1f2"/><stop offset="0.47" stop-color="#c4daee"/><stop offset="0.57" stop-color="#c7dcef"/><stop offset="0.66" stop-color="#d7e6f4"/><stop offset="0.76" stop-color="#e8f1f8"/><stop offset="0.85" stop-color="#f1f6fa"/><stop offset="0.94" stop-color="#f4f7f9"/><stop offset="1.00" stop-color="#f4f7f9"/></linearGradient>
<path d="M662.1 339.4l-2.7 0 -2.8-.2 -2.7-.5 -2.8-.8 -2.7-1.1 -2.8-1.4 -2.7-1.7 -2.8-1.9 -2.8-2 -2.8-1.9 -2.8-1.7 -2.8-1.1 -2.8-.4 -2.9 .3 -2.8 1.1 -2.8 1.7 -2.9 2.2 -2.8 2.5 -2.8 2.6 -2.8 2.6 -2.8 2.3 -2.7 2 -2.8 1.7 -2.8 1.4 -2.8 1.1 -2.8 .8 -2.8 .7 .3 .8 2.8-.6 2.8-.8 2.8-1 2.8-1.2 2.8-1.5 2.8-1.8 2.8-2 2.8-2.2 2.8-2.3 2.8-2.1 2.8-2 2.8-1.5 2.9-.9 2.8-.3 2.8 .3 2.8 .9 2.8 1.3 2.8 1.6 2.8 1.7 2.8 1.5 2.7 1.5 2.8 1.1 2.8 .9 2.7 .6 2.8 .3 2.7 .2 2.8 0z" fill="url(#s205_66)"/>
<linearGradient id="s205_67" gradientUnits="userSpaceOnUse" x1="589.4" y1="0" x2="660.6" y2="0"><stop offset="0.00" stop-color="#f4f7f9"/><stop offset="0.08" stop-color="#f4f7fa"/><stop offset="0.16" stop-color="#f1f6fa"/><stop offset="0.24" stop-color="#ebf2f9"/><stop offset="0.31" stop-color="#e1ecf7"/><stop offset="0.39" stop-color="#d5e5f3"/><stop offset="0.47" stop-color="#cee0f1"/><stop offset="0.55" stop-color="#cfe1f2"/><stop offset="0.63" stop-color="#d8e6f4"/><stop offset="0.71" stop-color="#e4eef7"/><stop offset="0.79" stop-color="#edf3f9"/><stop offset="0.86" stop-color="#f2f6fa"/><stop offset="0.94" stop-color="#f4f7f9"/><stop offset="1.00" stop-color="#f4f7f9"/></linearGradient>
<path d="M661.1 340.2l-2.7-.1 -2.8-.2 -2.8-.5 -2.7-.7 -2.8-1 -2.7-1.3 -2.8-1.5 -2.8-1.7 -2.8-1.6 -2.8-1.5 -2.8-1.1 -2.8-.6 -2.8 0 -2.9 .6 -2.8 1.2 -2.8 1.7 -2.8 2.1 -2.8 2.3 -2.8 2.2 -2.8 2.2 -2.8 1.9 -2.8 1.6 -2.8 1.3 -2.8 1.1 -2.8 .9 -2.8 .7 .3 .8 2.8-.7 2.8-.7 2.8-1 2.8-1.2 2.8-1.4 2.8-1.7 2.8-1.8 2.8-2 2.8-1.9 2.8-1.8 2.8-1.5 2.9-1.1 2.8-.6 2.8 0 2.8 .5 2.9 .9 2.7 1.2 2.8 1.3 2.8 1.3 2.8 1.2 2.7 1.1 2.8 .8 2.8 .6 2.7 .3 2.8 .2 2.8 0z" fill="url(#s205_67)"/>
<linearGradient id="s205_68" gradientUnits="userSpaceOnUse" x1="591.1" y1="0" x2="659.6" y2="0"><stop offset="0.00" stop-color="#f4f7f9"/><stop offset="0.08" stop-color="#f4f7f9"/><stop offset="0.16" stop-color="#f1f6fa"/><stop offset="0.25" stop-color="#ecf3f9"/><stop offset="0.33" stop-color="#e4eef7"/><stop offset="0.41" stop-color="#dbe8f5"/><stop offset="0.49" stop-color="#d7e6f4"/><stop offset="0.57" stop-color="#d9e7f4"/><stop offset="0.66" stop-color="#e1ecf7"/><stop offset="0.74" stop-color="#eaf2f9"/><stop offset="0.82" stop-color="#f1f5fa"/><stop offset="0.90" stop-color="#f3f6fa"/><stop offset="0.98" stop-color="#f4f7f9"/><stop offset="1.00" stop-color="#f4f7f9"/></linearGradient>
<path d="M660.1 341l-2.8-.1 -2.7-.2 -2.8-.5 -2.8-.7 -2.7-.9 -2.8-1.1 -2.8-1.3 -2.8-1.4 -2.7-1.3 -2.9-1 -2.8-.7 -2.8-.2 -2.8 .3 -2.8 .8 -2.9 1.3 -2.8 1.7 -2.8 1.9 -2.8 1.9 -2.8 1.9 -2.8 1.8 -2.8 1.5 -2.8 1.3 -2.8 1.1 -2.8 .9 -2.8 .7 .3 .8 2.8-.7 2.8-.8 2.8-.9 2.8-1.1 2.8-1.4 2.8-1.5 2.8-1.6 2.8-1.7 2.9-1.6 2.8-1.5 2.8-1.1 2.8-.8 2.8-.3 2.9 .2 2.8 .5 2.8 .8 2.8 1 2.7 1.1 2.8 1 2.8 .9 2.8 .8 2.7 .5 2.8 .3 2.8 .2 2.7 0z" fill="url(#s205_68)"/>
<linearGradient id="s205_69" gradientUnits="userSpaceOnUse" x1="591.4" y1="0" x2="659.9" y2="0"><stop offset="0.00" stop-color="#f4f7f9"/><stop offset="0.08" stop-color="#f4f7f9"/><stop offset="0.16" stop-color="#f2f6fa"/><stop offset="0.25" stop-color="#eef4f9"/><stop offset="0.33" stop-color="#e8f0f8"/><stop offset="0.41" stop-color="#e2ecf7"/><stop offset="0.49" stop-color="#dfebf6"/><stop offset="0.57" stop-color="#e0ecf6"/><stop offset="0.66" stop-color="#e7f0f8"/><stop offset="0.74" stop-color="#edf3f9"/><stop offset="0.82" stop-color="#f2f6fa"/><stop offset="0.90" stop-color="#f4f7f9"/><stop offset="0.98" stop-color="#f4f7f9"/><stop offset="1.00" stop-color="#f4f7f9"/></linearGradient>
<path d="M660.4 341.8l-2.7 0 -2.8-.2 -2.8-.3 -2.7-.5 -2.8-.8 -2.8-.9 -2.8-1 -2.7-1.1 -2.8-1 -2.8-.8 -2.8-.5 -2.9-.2 -2.8 .3 -2.8 .8 -2.8 1.1 -2.8 1.5 -2.9 1.6 -2.8 1.7 -2.8 1.6 -2.8 1.5 -2.8 1.4 -2.8 1.1 -2.8 .9 -2.8 .8 -2.8 .7 .3 .7 2.8-.5 2.8-.7 2.9-.9 2.8-1 2.8-1.1 2.8-1.3 2.8-1.4 2.8-1.5 2.8-1.4 2.8-1.2 2.8-1 2.8-.7 2.9-.3 2.8 .1 2.8 .4 2.8 .6 2.8 .8 2.8 .8 2.7 .8 2.8 .7 2.8 .5 2.8 .4 2.7 .2 2.8 .1 2.8 0z" fill="url(#s205_69)"/>
<linearGradient id="s205_70" gradientUnits="userSpaceOnUse" x1="593.1" y1="0" x2="658.9" y2="0"><stop offset="0.00" stop-color="#f4f7f9"/><stop offset="0.09" stop-color="#f4f7f9"/><stop offset="0.17" stop-color="#f3f6fa"/><stop offset="0.26" stop-color="#eff5f9"/><stop offset="0.34" stop-color="#ebf2f9"/><stop offset="0.43" stop-color="#e6eff8"/><stop offset="0.51" stop-color="#e4eef7"/><stop offset="0.60" stop-color="#e7f0f8"/><stop offset="0.68" stop-color="#ecf3f9"/><stop offset="0.77" stop-color="#f1f5fa"/><stop offset="0.85" stop-color="#f3f6fa"/><stop offset="0.94" stop-color="#f4f7f9"/><stop offset="1.00" stop-color="#f4f7f9"/></linearGradient>
<path d="M659.4 342.6l-2.8 0 -2.8-.2 -2.7-.3 -2.8-.4 -2.8-.7 -2.7-.7 -2.8-.8 -2.8-.8 -2.8-.8 -2.8-.5 -2.8-.2 -2.9 .1 -2.8 .5 -2.8 .9 -2.8 1.1 -2.8 1.3 -2.8 1.4 -2.8 1.5 -2.8 1.3 -2.8 1.3 -2.8 1.1 -2.8 .9 -2.9 .7 -2.8 .7 .3 .8 2.9-.6 2.8-.7 2.8-.8 2.8-.9 2.8-1.1 2.8-1.2 2.8-1.2 2.8-1.2 2.8-1.2 2.8-1 2.9-.7 2.8-.5 2.8-.1 2.8 .1 2.8 .4 2.8 .5 2.8 .6 2.8 .6 2.8 .6 2.7 .4 2.8 .4 2.8 .1 2.8 .1 2.7 0z" fill="url(#s205_70)"/>
<linearGradient id="s205_71" gradientUnits="userSpaceOnUse" x1="594.8" y1="0" x2="657.8" y2="0"><stop offset="0.00" stop-color="#f4f7f9"/><stop offset="0.09" stop-color="#f4f7f9"/><stop offset="0.18" stop-color="#f3f6fa"/><stop offset="0.27" stop-color="#f0f5f9"/><stop offset="0.36" stop-color="#edf3f9"/><stop offset="0.45" stop-color="#eaf1f8"/><stop offset="0.54" stop-color="#eaf1f8"/><stop offset="0.62" stop-color="#ecf3f9"/><stop offset="0.71" stop-color="#eff5f9"/><stop offset="0.80" stop-color="#f2f6fa"/><stop offset="0.89" stop-color="#f4f7fa"/><stop offset="0.98" stop-color="#f4f7f9"/><stop offset="1.00" stop-color="#f4f7f9"/></linearGradient>
<path d="M658.3 343.4l-2.7 0 -2.8-.1 -2.8-.3 -2.8-.4 -2.7-.5 -2.8-.6 -2.8-.6 -2.8-.6 -2.8-.4 -2.8-.3 -2.8 0 -2.8 .3 -2.9 .6 -2.8 .9 -2.8 1.1 -2.8 1.2 -2.8 1.2 -2.8 1.2 -2.8 1.1 -2.8 1 -2.8 .9 -2.8 .8 -2.8 .6 .3 .8 2.8-.6 2.8-.6 2.8-.8 2.8-.9 2.8-.9 2.8-1.1 2.8-1 2.8-1.1 2.9-.9 2.8-.8 2.8-.5 2.8-.3 2.8-.1 2.8 .2 2.8 .3 2.8 .4 2.8 .4 2.8 .5 2.8 .3 2.8 .3 2.7 .1 2.8 0 2.8 0z" fill="url(#s205_71)"/>
<linearGradient id="s205_72" gradientUnits="userSpaceOnUse" x1="596.5" y1="0" x2="656.8" y2="0"><stop offset="0.00" stop-color="#f4f7f9"/><stop offset="0.09" stop-color="#f4f7f9"/><stop offset="0.19" stop-color="#f3f6fa"/><stop offset="0.28" stop-color="#f1f5fa"/><stop offset="0.37" stop-color="#eef4f9"/><stop offset="0.47" stop-color="#edf3f9"/><stop offset="0.56" stop-color="#edf3f9"/><stop offset="0.65" stop-color="#eff4f9"/><stop offset="0.75" stop-color="#f1f6fa"/><stop offset="0.84" stop-color="#f3f6fa"/><stop offset="0.93" stop-color="#f4f7f9"/><stop offset="1.00" stop-color="#f4f7f9"/></linearGradient>
<path d="M657.3 344.2l-2.8 0 -2.8-.1 -2.7-.2 -2.8-.3 -2.8-.4 -2.8-.4 -2.8-.4 -2.8-.4 -2.8-.2 -2.8-.1 -2.8 .2 -2.8 .4 -2.8 .7 -2.8 .8 -2.9 1 -2.8 1.1 -2.8 1 -2.8 1 -2.8 1 -2.8 .8 -2.8 .7 -2.8 .6 .3 .8 2.8-.5 2.8-.7 2.8-.7 2.8-.8 2.8-.9 2.9-.9 2.8-.9 2.8-.8 2.8-.8 2.8-.6 2.8-.4 2.8-.2 2.8 0 2.9 .1 2.8 .3 2.7 .3 2.8 .2 2.8 .3 2.8 .2 2.8 .1 2.8 0 2.7-.1z" fill="url(#s205_72)"/>
<linearGradient id="s205_73" gradientUnits="userSpaceOnUse" x1="598.2" y1="0" x2="655.7" y2="0"><stop offset="0.00" stop-color="#f4f7f9"/><stop offset="0.10" stop-color="#f4f7f9"/><stop offset="0.20" stop-color="#f3f6fa"/><stop offset="0.29" stop-color="#f2f6fa"/><stop offset="0.39" stop-color="#f0f5f9"/><stop offset="0.49" stop-color="#eff5f9"/><stop offset="0.59" stop-color="#f0f5f9"/><stop offset="0.68" stop-color="#f1f6fa"/><stop offset="0.78" stop-color="#f3f6fa"/><stop offset="0.88" stop-color="#f4f7f9"/><stop offset="0.98" stop-color="#f4f7f9"/><stop offset="1.00" stop-color="#f4f7f9"/></linearGradient>
<path d="M656.3 345.1l-2.8 0 -2.8-.1 -2.8-.1 -2.8-.2 -2.8-.3 -2.8-.3 -2.7-.3 -2.8-.2 -2.9 0 -2.8 .1 -2.8 .3 -2.8 .5 -2.8 .7 -2.8 .8 -2.8 .9 -2.9 .9 -2.8 .9 -2.8 .8 -2.8 .8 -2.8 .7 -2.8 .5 .3 .9 2.8-.6 2.8-.6 2.8-.6 2.9-.8 2.8-.7 2.8-.8 2.8-.8 2.8-.7 2.8-.6 2.8-.5 2.9-.3 2.8-.1 2.8 0 2.8 0 2.8 .2 2.8 .2 2.8 .1 2.7 .1 2.8 .1 2.8 0 2.8-.1z" fill="url(#s205_73)"/>
<linearGradient id="s205_74" gradientUnits="userSpaceOnUse" x1="600.0" y1="0" x2="654.7" y2="0"><stop offset="0.00" stop-color="#f4f7f9"/><stop offset="0.10" stop-color="#f4f7f9"/><stop offset="0.21" stop-color="#f3f6fa"/><stop offset="0.31" stop-color="#f2f6fa"/><stop offset="0.41" stop-color="#f1f6fa"/><stop offset="0.51" stop-color="#f1f5fa"/><stop offset="0.62" stop-color="#f2f6fa"/><stop offset="0.72" stop-color="#f3f6fa"/><stop offset="0.82" stop-color="#f4f7fa"/><stop offset="0.92" stop-color="#f4f7f9"/><stop offset="1.00" stop-color="#f4f7f9"/></linearGradient>
<path d="M655.2 345.9l-2.8 .1 -2.8 0 -2.7-.1 -2.8-.2 -2.8-.1 -2.8-.2 -2.8-.1 -2.8-.1 -2.8 .1 -2.8 .3 -2.9 .4 -2.8 .5 -2.8 .6 -2.8 .8 -2.8 .8 -2.8 .7 -2.8 .8 -2.9 .7 -2.8 .6 -2.8 .6 .3 .8 2.8-.5 2.9-.6 2.8-.6 2.8-.6 2.8-.7 2.8-.7 2.8-.7 2.9-.5 2.8-.5 2.8-.4 2.8-.2 2.8-.2 2.8 0 2.8 0 2.8 .1 2.8 0 2.8 .1 2.8 0 2.8-.1 2.7-.1z" fill="url(#s205_74)"/>
<linearGradient id="s205_75" gradientUnits="userSpaceOnUse" x1="603.1" y1="0" x2="652.2" y2="0"><stop offset="0.00" stop-color="#f4f7f9"/><stop offset="0.09" stop-color="#f4f7f9"/><stop offset="0.17" stop-color="#f4f7f9"/><stop offset="0.26" stop-color="#f3f6fa"/><stop offset="0.34" stop-color="#f3f6fa"/><stop offset="0.43" stop-color="#f2f6fa"/><stop offset="0.52" stop-color="#f2f6fa"/><stop offset="0.60" stop-color="#f3f6fa"/><stop offset="0.69" stop-color="#f3f6fa"/><stop offset="0.77" stop-color="#f4f7fa"/><stop offset="0.86" stop-color="#f4f7f9"/><stop offset="0.94" stop-color="#f4f7f9"/><stop offset="1.00" stop-color="#f4f7f9"/></linearGradient>
<path d="M652.8 346.8l-2.8 .1 -2.8 0 -2.8-.1 -2.8 0 -2.8-.1 -2.8 0 -2.8 0 -2.8 .2 -2.8 .2 -2.8 .4 -2.8 .5 -2.9 .5 -2.8 .7 -2.8 .7 -2.8 .7 -2.8 .6 -2.8 .6 -2.9 .6 .4 .8 2.8-.5 2.8-.5 2.8-.6 2.8-.6 2.8-.6 2.9-.6 2.8-.5 2.8-.5 2.8-.3 2.8-.3 2.8-.1 2.8-.1 2.8-.1 2.8 0 2.8 0 2.8-.1 2.8 0 2.8-.1z" fill="url(#s205_75)"/>
<linearGradient id="s205_76" gradientUnits="userSpaceOnUse" x1="604.8" y1="0" x2="651.2" y2="0"><stop offset="0.00" stop-color="#f4f7f9"/><stop offset="0.09" stop-color="#f4f7f9"/><stop offset="0.18" stop-color="#f4f7f9"/><stop offset="0.27" stop-color="#f4f7fa"/><stop offset="0.36" stop-color="#f3f6fa"/><stop offset="0.46" stop-color="#f3f6fa"/><stop offset="0.55" stop-color="#f3f6fa"/><stop offset="0.64" stop-color="#f3f6fa"/><stop offset="0.73" stop-color="#f4f7fa"/><stop offset="0.82" stop-color="#f4f7f9"/><stop offset="0.91" stop-color="#f4f7f9"/><stop offset="1.00" stop-color="#f4f7f9"/><stop offset="1.00" stop-color="#f4f7f9"/></linearGradient>
<path d="M651.7 347.7l-2.8 .1 -2.8 .1 -2.8 0 -2.8 0 -2.8 0 -2.8 .1 -2.8 .1 -2.8 .2 -2.8 .4 -2.8 .4 -2.8 .4 -2.8 .6 -2.9 .6 -2.8 .6 -2.8 .6 -2.8 .6 -2.8 .5 .3 .8 2.8-.5 2.8-.5 2.8-.5 2.9-.5 2.8-.6 2.8-.5 2.8-.4 2.8-.4 2.8-.3 2.9-.2 2.8-.2 2.8-.1 2.8-.1 2.8-.1 2.8-.1 2.8-.1 2.8-.2z" fill="url(#s205_76)"/>
<linearGradient id="s205_77" gradientUnits="userSpaceOnUse" x1="608.0" y1="0" x2="648.7" y2="0"><stop offset="0.00" stop-color="#f4f7f9"/><stop offset="0.10" stop-color="#f4f7f9"/><stop offset="0.21" stop-color="#f4f7f9"/><stop offset="0.31" stop-color="#f4f7f9"/><stop offset="0.41" stop-color="#f4f7f9"/><stop offset="0.52" stop-color="#f4f7fa"/><stop offset="0.62" stop-color="#f4f7fa"/><stop offset="0.73" stop-color="#f4f7f9"/><stop offset="0.83" stop-color="#f4f7f9"/><stop offset="0.93" stop-color="#f4f7f9"/><stop offset="1.00" stop-color="#f4f7f9"/></linearGradient>
<path d="M649.3 348.7l-2.8 .1 -2.8 .1 -2.8 .1 -2.8 .1 -2.8 .1 -2.8 .2 -2.9 .2 -2.8 .3 -2.8 .4 -2.8 .4 -2.8 .5 -2.8 .6 -2.9 .5 -2.8 .5 -2.8 .5 .3 .9 2.8-.5 2.9-.5 2.8-.4 2.8-.5 2.8-.5 2.8-.4 2.9-.4 2.8-.3 2.8-.2 2.8-.2 2.8-.2 2.8-.1 2.8-.2 2.8-.1 2.8-.2z" fill="url(#s205_77)"/>
<linearGradient id="s205_78" gradientUnits="userSpaceOnUse" x1="611.1" y1="0" x2="646.3" y2="0"><stop offset="0.00" stop-color="#f4f7f9"/><stop offset="0.08" stop-color="#f4f7f9"/><stop offset="0.16" stop-color="#f4f7f9"/><stop offset="0.24" stop-color="#f4f7f9"/><stop offset="0.32" stop-color="#f4f7f9"/><stop offset="0.40" stop-color="#f4f7f9"/><stop offset="0.48" stop-color="#f4f7f9"/><stop offset="0.56" stop-color="#f4f7f9"/><stop offset="0.64" stop-color="#f4f7f9"/><stop offset="0.72" stop-color="#f4f7f9"/><stop offset="0.80" stop-color="#f4f7f9"/><stop offset="0.88" stop-color="#f4f7f9"/><stop offset="0.96" stop-color="#f4f7f9"/><stop offset="1.00" stop-color="#f4f7f9"/></linearGradient>
<path d="M646.8 349.7l-2.8 .1 -2.8 .2 -2.8 .1 -2.8 .2 -2.8 .2 -2.8 .2 -2.8 .3 -2.9 .4 -2.8 .4 -2.8 .5 -2.8 .5 -2.8 .4 -2.9 .5 .4 .9 2.8-.5 2.8-.4 2.8-.5 2.9-.4 2.8-.4 2.8-.3 2.8-.3 2.8-.3 2.8-.2 2.8-.2 2.8-.2 2.8-.2 2.8-.2z" fill="url(#s205_78)"/>
<linearGradient id="s205_79" gradientUnits="userSpaceOnUse" x1="614.3" y1="0" x2="643.8" y2="0"><stop offset="0.00" stop-color="#f4f7f9"/><stop offset="0.10" stop-color="#f4f7f9"/><stop offset="0.19" stop-color="#f4f7f9"/><stop offset="0.29" stop-color="#f4f7f9"/><stop offset="0.38" stop-color="#f4f7f9"/><stop offset="0.48" stop-color="#f4f7f9"/><stop offset="0.57" stop-color="#f4f7f9"/><stop offset="0.67" stop-color="#f4f7f9"/><stop offset="0.76" stop-color="#f4f7f9"/><stop offset="0.86" stop-color="#f4f7f9"/><stop offset="0.95" stop-color="#f4f7f9"/><stop offset="1.00" stop-color="#f4f7f9"/></linearGradient>
<path d="M644.3 350.7l-2.8 .2 -2.8 .2 -2.8 .2 -2.8 .2 -2.8 .3 -2.8 .3 -2.8 .3 -2.8 .4 -2.9 .4 -2.8 .5 -2.8 .4 .3 .9 2.8-.4 2.9-.4 2.8-.4 2.8-.4 2.8-.3 2.8-.4 2.8-.2 2.9-.3 2.8-.2 2.8-.2 2.8-.2z" fill="url(#s205_79)"/>
<path d="M533.0 307.0 527.4 234.8" fill="none" stroke="#222" stroke-width="1.0" />
<path d="M533.0 307.0 561.6 377.8" fill="none" stroke="#222" stroke-width="1.0" />
<path d="M561.6 377.8 710.7 361.1" fill="none" stroke="#222" stroke-width="1.0" />
<path d="M564.8 377.5 565.1 379.1" fill="none" stroke="#333" stroke-width="0.7" />
<path d="M560.9 376.2 558.3 376.4" fill="none" stroke="#333" stroke-width="0.7" />
<path d="M600.9 373.4 601.2 375.0" fill="none" stroke="#333" stroke-width="0.7" />
<path d="M553.7 358.4 551.1 358.6" fill="none" stroke="#333" stroke-width="0.7" />
<path d="M636.7 369.4 637.0 371.0" fill="none" stroke="#333" stroke-width="0.7" />
<path d="M546.8 341.2 544.2 341.4" fill="none" stroke="#333" stroke-width="0.7" />
<path d="M672.2 365.4 672.5 367.0" fill="none" stroke="#333" stroke-width="0.7" />
<path d="M540.0 324.5 537.4 324.7" fill="none" stroke="#333" stroke-width="0.7" />
<path d="M707.5 361.4 707.8 363.0" fill="none" stroke="#333" stroke-width="0.7" />
<path d="M533.5 308.4 530.9 308.6" fill="none" stroke="#333" stroke-width="0.7" />
<path d="M533.0 307.0 530.0 307.3" fill="none" stroke="#222" stroke-width="0.8" />
<path d="M530.7 276.9 527.7 277.2" fill="none" stroke="#222" stroke-width="0.8" />
<path d="M528.2 245.3 525.2 245.6" fill="none" stroke="#222" stroke-width="0.8" />
<linearGradient id="g235" x1="0" y1="0" x2="0" y2="1"><stop offset="0.00" stop-color="#083776"/><stop offset="0.10" stop-color="#08519c"/><stop offset="0.20" stop-color="#1c6ab0"/><stop offset="0.30" stop-color="#3484bf"/><stop offset="0.40" stop-color="#519ccc"/><stop offset="0.50" stop-color="#71b1d7"/><stop offset="0.60" stop-color="#99c7e0"/><stop offset="0.70" stop-color="#b9d6ea"/><stop offset="0.80" stop-color="#d1e2f3"/><stop offset="0.90" stop-color="#e4eff9"/><stop offset="1.00" stop-color="#f7fbff"/></linearGradient>
<rect x="732.90" y="235.80" width="6.60" height="136.10" fill="url(#g235)"/>
<rect x="732.90" y="235.80" width="6.60" height="136.10" fill="none" stroke="#2a2a2a" stroke-width="0.9"/>
<text transform="translate(720.18 231.75) scale(1.053 1)" font-size="17.00">0.45</text>
<text transform="translate(731.45 386.24) scale(1.130 1)" font-size="16.80">0</text>
<text transform="translate(510.65 309.54) scale(1.130 1)" font-size="16.80">0</text>
<text transform="translate(503.96 280.46) scale(1.095 1)" font-size="17.00">0.2</text>
<text transform="translate(502.08 249.00) scale(1.053 1)" font-size="17.00">0.4</text>
<text transform="translate(522.40 317.21) scale(1.130 1)" font-size="16.80">4</text>
<rect x="516.25" y="312.75" width="4.2" height="1.05" fill="#151515"/>
<text transform="translate(526.34 332.56) scale(1.130 1)" font-size="16.80">2</text>
<rect x="520.00" y="328.10" width="4.2" height="1.05" fill="#151515"/>
<text transform="translate(533.15 348.24) scale(1.130 1)" font-size="16.80">0</text>
<text transform="translate(539.94 365.76) scale(1.130 1)" font-size="16.80">2</text>
<text transform="translate(546.95 383.36) scale(1.130 1)" font-size="16.80">4</text>
<text transform="translate(562.30 393.36) scale(1.130 1)" font-size="16.80">4</text>
<text transform="translate(598.59 388.76) scale(1.130 1)" font-size="16.80">2</text>
<text transform="translate(633.85 384.94) scale(1.130 1)" font-size="16.80">0</text>
<text transform="translate(673.99 381.46) scale(1.130 1)" font-size="16.80">2</text>
<rect x="667.65" y="377.00" width="4.2" height="1.05" fill="#151515"/>
<text transform="translate(708.85 376.46) scale(1.130 1)" font-size="16.80">4</text>
<rect x="702.70" y="372.00" width="4.2" height="1.05" fill="#151515"/>
<use href="#xg" transform="translate(634.97 389.27) scale(0.1087 0.1365)"/>
<text transform="translate(646.36 403.62) scale(1.848 1)" font-size="6.37" font-weight="bold">1,2</text>
<text transform="translate(508.12 349.36) scale(1.089 1)" font-size="17.35" font-weight="bold" font-style="italic" stroke="currentColor" stroke-width="0.35">p</text>
<text transform="translate(517.74 355.16) scale(2.099 1)" font-size="5.73" font-weight="bold">1,2</text>
<text transform="translate(488.06 342.95) rotate(-90) scale(1.135 1)" font-size="17.01" font-weight="bold" font-style="italic" stroke="currentColor" stroke-width="0.35">W</text>
<text transform="translate(487.93 323.38) rotate(-90) scale(0.918 1)" font-size="18.44">(</text>
<use href="#xg" transform="translate(481.72 317.37) rotate(-90) scale(0.1239 0.1095)"/>
<text transform="translate(494.15 303.94) rotate(-90) scale(1.483 1)" font-size="6.26" font-weight="bold">1,2</text>
<text transform="translate(488.50 288.67) rotate(-90) scale(1.224 1)" font-size="13.33" font-weight="bold" font-style="italic" stroke="currentColor" stroke-width="0.35">,</text>
<text transform="translate(489.06 278.53) rotate(-90) scale(1.271 1)" font-size="15.44" font-weight="bold" font-style="italic" stroke="currentColor" stroke-width="0.35">p</text>
<text transform="translate(493.38 268.65) rotate(-90) scale(1.887 1)" font-size="5.63" font-weight="bold">1,2</text>
<text transform="translate(487.93 254.05) rotate(-90) scale(1.001 1)" font-size="18.44">)</text>
</svg>
</div></body></html>
